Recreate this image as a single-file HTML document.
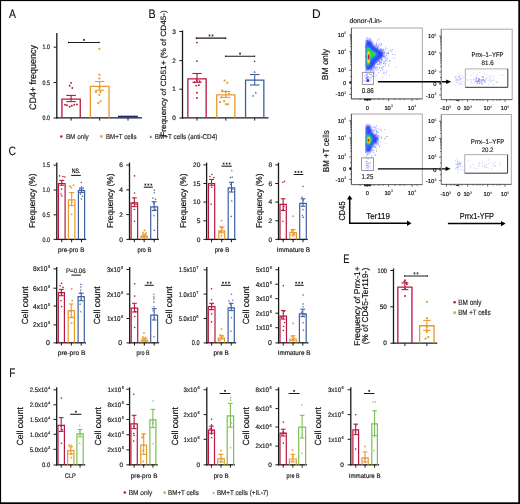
<!DOCTYPE html>
<html><head><meta charset="utf-8"><title>Figure</title>
<style>
html,body{margin:0;padding:0;background:#fff;}
body{width:520px;height:504px;overflow:hidden;position:relative;font-family:"Liberation Sans", sans-serif;}
svg text{font-family:"Liberation Sans", sans-serif;text-rendering:geometricPrecision;}
</style></head><body>
<svg width="520" height="504" viewBox="0 0 520 504" style="position:absolute;left:0;top:0;will-change:transform" font-family="Liberation Sans, sans-serif">
<rect x="0" y="0" width="520" height="504" fill="#fff"/>
<text transform="translate(9.07,18.10) scale(0.8537,1)" font-size="12.20" fill="#111" stroke="#111" stroke-width="0.117">A</text>
<text transform="translate(148.52,18.40) scale(0.8774,1)" font-size="12.20" fill="#111" stroke="#111" stroke-width="0.114">B</text>
<text transform="translate(8.58,154.80) scale(0.8553,1)" font-size="12.20" fill="#111" stroke="#111" stroke-width="0.117">C</text>
<text transform="translate(312.01,17.50) scale(0.9822,1)" font-size="12.20" fill="#111" stroke="#111" stroke-width="0.102">D</text>
<text transform="translate(343.14,262.90) scale(0.7555,1)" font-size="12.20" fill="#111" stroke="#111" stroke-width="0.132">E</text>
<text transform="translate(9.17,376.80) scale(0.8239,1)" font-size="12.20" fill="#111" stroke="#111" stroke-width="0.121">F</text>
<line x1="56.80" y1="33.00" x2="56.80" y2="118.45" stroke="#1a1a1a" stroke-width="1.3"/>
<line x1="56.15" y1="117.80" x2="142.00" y2="117.80" stroke="#1a1a1a" stroke-width="1.3"/>
<line x1="53.60" y1="47.20" x2="56.80" y2="47.20" stroke="#1a1a1a" stroke-width="1.0"/>
<text x="49.80" y="49.49" font-size="6.4" text-anchor="end" fill="#1e1e1e" textLength="7.30" lengthAdjust="spacingAndGlyphs" stroke="#1e1e1e" stroke-width="0.2">1.0</text>
<line x1="53.60" y1="82.50" x2="56.80" y2="82.50" stroke="#1a1a1a" stroke-width="1.0"/>
<text x="49.80" y="84.79" font-size="6.4" text-anchor="end" fill="#1e1e1e" textLength="7.30" lengthAdjust="spacingAndGlyphs" stroke="#1e1e1e" stroke-width="0.2">0.5</text>
<line x1="53.60" y1="118.00" x2="56.80" y2="118.00" stroke="#1a1a1a" stroke-width="1.0"/>
<text x="49.80" y="120.29" font-size="6.4" text-anchor="end" fill="#1e1e1e" textLength="7.30" lengthAdjust="spacingAndGlyphs" stroke="#1e1e1e" stroke-width="0.2">0.0</text>
<path d="M61.95,117.80 L61.95,99.15 L80.25,99.15 L80.25,117.80" fill="none" stroke="#b8173f" stroke-width="1.3"/>
<circle cx="71.10" cy="82.90" r="0.95" fill="#b8173f"/>
<circle cx="69.60" cy="85.70" r="0.95" fill="#b8173f"/>
<circle cx="72.30" cy="88.00" r="0.95" fill="#b8173f"/>
<circle cx="65.00" cy="104.80" r="0.95" fill="#b8173f"/>
<circle cx="66.90" cy="105.20" r="0.95" fill="#b8173f"/>
<circle cx="69.60" cy="106.70" r="0.95" fill="#b8173f"/>
<circle cx="71.80" cy="105.80" r="0.95" fill="#b8173f"/>
<circle cx="74.20" cy="104.80" r="0.95" fill="#b8173f"/>
<circle cx="76.90" cy="104.50" r="0.95" fill="#b8173f"/>
<line x1="71.10" y1="95.40" x2="71.10" y2="101.60" stroke="#b8173f" stroke-width="1.1"/>
<line x1="66.25" y1="95.40" x2="75.95" y2="95.40" stroke="#b8173f" stroke-width="1.1"/>
<line x1="66.25" y1="101.60" x2="75.95" y2="101.60" stroke="#b8173f" stroke-width="1.1"/>
<line x1="71.10" y1="117.80" x2="71.10" y2="120.60" stroke="#1a1a1a" stroke-width="1.0"/>
<path d="M90.35,117.80 L90.35,86.35 L109.05,86.35 L109.05,117.80" fill="none" stroke="#e89a2c" stroke-width="1.3"/>
<rect x="98.45" y="47.85" width="1.90" height="1.90" fill="#e89a2c"/>
<rect x="98.45" y="73.75" width="1.90" height="1.90" fill="#e89a2c"/>
<rect x="98.45" y="77.45" width="1.90" height="1.90" fill="#e89a2c"/>
<rect x="98.45" y="86.55" width="1.90" height="1.90" fill="#e89a2c"/>
<rect x="95.05" y="91.05" width="1.90" height="1.90" fill="#e89a2c"/>
<rect x="99.65" y="91.05" width="1.90" height="1.90" fill="#e89a2c"/>
<rect x="98.45" y="93.85" width="1.90" height="1.90" fill="#e89a2c"/>
<rect x="97.35" y="102.05" width="1.90" height="1.90" fill="#e89a2c"/>
<rect x="99.65" y="100.25" width="1.90" height="1.90" fill="#e89a2c"/>
<line x1="99.70" y1="81.50" x2="99.70" y2="90.20" stroke="#e89a2c" stroke-width="1.1"/>
<line x1="95.15" y1="81.50" x2="104.25" y2="81.50" stroke="#e89a2c" stroke-width="1.1"/>
<line x1="95.15" y1="90.20" x2="104.25" y2="90.20" stroke="#e89a2c" stroke-width="1.1"/>
<line x1="99.70" y1="117.80" x2="99.70" y2="120.60" stroke="#1a1a1a" stroke-width="1.0"/>
<path d="M118.65,117.80 L118.65,117.45 L137.35,117.45 L137.35,117.80" fill="none" stroke="#3f5f9f" stroke-width="1.3"/>
<line x1="128.00" y1="117.80" x2="128.00" y2="120.60" stroke="#1a1a1a" stroke-width="1.0"/>
<path d="M68.50,41.70 L68.50,43.30 M68.50,42.50 L99.20,42.50 M99.20,41.70 L99.20,43.30" fill="none" stroke="#1a1a1a" stroke-width="1.05"/>
<path d="M83.85,38.90 L83.85,40.90 M82.98,39.40 L84.72,40.40 M82.98,40.40 L84.72,39.40 " stroke="#222" stroke-width="0.75" fill="none"/>
<text transform="translate(35.70,110.00) rotate(-90) scale(0.9542,1)" font-size="9.40" fill="#111" stroke="#111" stroke-width="0.180">CD4+ frequency</text>
<rect x="118.0" y="115.7" width="19.8" height="1.7" fill="#15286e"/>
<line x1="182.50" y1="30.40" x2="182.50" y2="118.45" stroke="#1a1a1a" stroke-width="1.3"/>
<line x1="181.85" y1="117.80" x2="268.50" y2="117.80" stroke="#1a1a1a" stroke-width="1.3"/>
<line x1="179.30" y1="31.50" x2="182.50" y2="31.50" stroke="#1a1a1a" stroke-width="1.0"/>
<text x="175.90" y="33.79" font-size="6.4" text-anchor="end" fill="#1e1e1e" stroke="#1e1e1e" stroke-width="0.2">3</text>
<line x1="179.30" y1="60.60" x2="182.50" y2="60.60" stroke="#1a1a1a" stroke-width="1.0"/>
<text x="175.90" y="62.89" font-size="6.4" text-anchor="end" fill="#1e1e1e" stroke="#1e1e1e" stroke-width="0.2">2</text>
<line x1="179.30" y1="89.20" x2="182.50" y2="89.20" stroke="#1a1a1a" stroke-width="1.0"/>
<text x="175.90" y="91.49" font-size="6.4" text-anchor="end" fill="#1e1e1e" stroke="#1e1e1e" stroke-width="0.2">1</text>
<line x1="179.30" y1="118.00" x2="182.50" y2="118.00" stroke="#1a1a1a" stroke-width="1.0"/>
<text x="175.90" y="120.29" font-size="6.4" text-anchor="end" fill="#1e1e1e" stroke="#1e1e1e" stroke-width="0.2">0</text>
<path d="M187.85,117.80 L187.85,78.85 L206.15,78.85 L206.15,117.80" fill="none" stroke="#b8173f" stroke-width="1.3"/>
<circle cx="196.90" cy="42.60" r="0.95" fill="#b8173f"/>
<circle cx="196.90" cy="61.10" r="0.95" fill="#b8173f"/>
<circle cx="196.90" cy="80.50" r="0.95" fill="#b8173f"/>
<circle cx="194.60" cy="82.30" r="0.95" fill="#b8173f"/>
<circle cx="199.70" cy="81.20" r="0.95" fill="#b8173f"/>
<circle cx="196.20" cy="85.60" r="0.95" fill="#b8173f"/>
<circle cx="198.80" cy="85.30" r="0.95" fill="#b8173f"/>
<circle cx="196.90" cy="92.70" r="0.95" fill="#b8173f"/>
<circle cx="196.90" cy="98.00" r="0.95" fill="#b8173f"/>
<line x1="197.00" y1="73.50" x2="197.00" y2="82.30" stroke="#b8173f" stroke-width="1.1"/>
<line x1="192.40" y1="73.50" x2="201.60" y2="73.50" stroke="#b8173f" stroke-width="1.1"/>
<line x1="192.40" y1="82.30" x2="201.60" y2="82.30" stroke="#b8173f" stroke-width="1.1"/>
<line x1="197.00" y1="117.80" x2="197.00" y2="120.60" stroke="#1a1a1a" stroke-width="1.0"/>
<path d="M216.75,117.80 L216.75,94.95 L234.85,94.95 L234.85,117.80" fill="none" stroke="#e89a2c" stroke-width="1.3"/>
<rect x="223.65" y="79.55" width="1.90" height="1.90" fill="#e89a2c"/>
<rect x="226.45" y="81.85" width="1.90" height="1.90" fill="#e89a2c"/>
<rect x="221.35" y="89.45" width="1.90" height="1.90" fill="#e89a2c"/>
<rect x="224.85" y="90.55" width="1.90" height="1.90" fill="#e89a2c"/>
<rect x="227.85" y="92.85" width="1.90" height="1.90" fill="#e89a2c"/>
<rect x="220.25" y="96.35" width="1.90" height="1.90" fill="#e89a2c"/>
<rect x="223.25" y="100.25" width="1.90" height="1.90" fill="#e89a2c"/>
<rect x="219.05" y="101.05" width="1.90" height="1.90" fill="#e89a2c"/>
<rect x="224.85" y="103.25" width="1.90" height="1.90" fill="#e89a2c"/>
<rect x="227.05" y="103.25" width="1.90" height="1.90" fill="#e89a2c"/>
<line x1="225.80" y1="91.50" x2="225.80" y2="97.30" stroke="#e89a2c" stroke-width="1.1"/>
<line x1="221.20" y1="91.50" x2="230.40" y2="91.50" stroke="#e89a2c" stroke-width="1.1"/>
<line x1="221.20" y1="97.30" x2="230.40" y2="97.30" stroke="#e89a2c" stroke-width="1.1"/>
<line x1="225.80" y1="117.80" x2="225.80" y2="120.60" stroke="#1a1a1a" stroke-width="1.0"/>
<path d="M245.55,117.80 L245.55,80.15 L263.85,80.15 L263.85,117.80" fill="none" stroke="#3f5f9f" stroke-width="1.3"/>
<path d="M254.60,60.00 L255.70,61.98 L253.50,61.98 Z" fill="#3f5f9f"/>
<path d="M254.60,70.80 L255.70,72.78 L253.50,72.78 Z" fill="#3f5f9f"/>
<path d="M255.80,91.60 L256.90,93.58 L254.70,93.58 Z" fill="#3f5f9f"/>
<path d="M253.00,94.40 L254.10,96.38 L251.90,96.38 Z" fill="#3f5f9f"/>
<line x1="254.70" y1="74.50" x2="254.70" y2="85.00" stroke="#3f5f9f" stroke-width="1.1"/>
<line x1="249.85" y1="74.50" x2="259.55" y2="74.50" stroke="#3f5f9f" stroke-width="1.1"/>
<line x1="249.85" y1="85.00" x2="259.55" y2="85.00" stroke="#3f5f9f" stroke-width="1.1"/>
<line x1="254.70" y1="117.80" x2="254.70" y2="120.60" stroke="#1a1a1a" stroke-width="1.0"/>
<path d="M196.30,37.30 L196.30,38.90 M196.30,38.10 L225.70,38.10 M225.70,37.30 L225.70,38.90" fill="none" stroke="#1a1a1a" stroke-width="1.05"/>
<path d="M209.50,34.50 L209.50,36.50 M208.63,35.00 L210.37,36.00 M208.63,36.00 L210.37,35.00 " stroke="#222" stroke-width="0.75" fill="none"/>
<path d="M212.50,34.50 L212.50,36.50 M211.63,35.00 L213.37,36.00 M211.63,36.00 L213.37,35.00 " stroke="#222" stroke-width="0.75" fill="none"/>
<path d="M225.50,55.40 L225.50,57.00 M225.50,56.20 L254.60,56.20 M254.60,55.40 L254.60,57.00" fill="none" stroke="#1a1a1a" stroke-width="1.05"/>
<path d="M240.05,52.60 L240.05,54.60 M239.18,53.10 L240.92,54.10 M239.18,54.10 L240.92,53.10 " stroke="#222" stroke-width="0.75" fill="none"/>
<text transform="translate(166.40,136.83) rotate(-90) scale(1.0857,1)" font-size="7.60" fill="#111" stroke="#111" stroke-width="0.180">Frequency of CD51+ (% of CD45-)</text>
<circle cx="61.30" cy="136.40" r="1.23" fill="#b8173f"/>
<text x="65.90" y="139.00" font-size="7" text-anchor="start" fill="#222" textLength="22.90" lengthAdjust="spacingAndGlyphs" stroke="#222" stroke-width="0.15">BM only</text>
<rect x="100.21" y="135.21" width="2.38" height="2.38" fill="#e89a2c"/>
<text x="106.00" y="139.00" font-size="7" text-anchor="start" fill="#222" textLength="30.50" lengthAdjust="spacingAndGlyphs" stroke="#222" stroke-width="0.15">BM+T cells</text>
<path d="M150.80,135.28 L152.12,137.66 L149.48,137.66 Z" fill="#3f5f9f"/>
<text x="154.70" y="139.00" font-size="7" text-anchor="start" fill="#222" textLength="62.70" lengthAdjust="spacingAndGlyphs" stroke="#222" stroke-width="0.15">BM+T cells (anti-CD4)</text>
<line x1="56.80" y1="162.60" x2="56.80" y2="240.05" stroke="#1a1a1a" stroke-width="1.3"/>
<line x1="56.15" y1="239.40" x2="86.20" y2="239.40" stroke="#1a1a1a" stroke-width="1.3"/>
<line x1="53.60" y1="165.10" x2="56.80" y2="165.10" stroke="#1a1a1a" stroke-width="1.0"/>
<text x="49.90" y="167.46" font-size="6.6" text-anchor="end" fill="#1e1e1e" textLength="7.40" lengthAdjust="spacingAndGlyphs" stroke="#1e1e1e" stroke-width="0.2">1.5</text>
<line x1="53.60" y1="190.00" x2="56.80" y2="190.00" stroke="#1a1a1a" stroke-width="1.0"/>
<text x="49.90" y="192.36" font-size="6.6" text-anchor="end" fill="#1e1e1e" textLength="7.30" lengthAdjust="spacingAndGlyphs" stroke="#1e1e1e" stroke-width="0.2">1.0</text>
<line x1="53.60" y1="214.80" x2="56.80" y2="214.80" stroke="#1a1a1a" stroke-width="1.0"/>
<text x="49.90" y="217.16" font-size="6.6" text-anchor="end" fill="#1e1e1e" textLength="7.40" lengthAdjust="spacingAndGlyphs" stroke="#1e1e1e" stroke-width="0.2">0.5</text>
<line x1="53.60" y1="239.40" x2="56.80" y2="239.40" stroke="#1a1a1a" stroke-width="1.0"/>
<text x="49.90" y="241.76" font-size="6.6" text-anchor="end" fill="#1e1e1e" textLength="7.40" lengthAdjust="spacingAndGlyphs" stroke="#1e1e1e" stroke-width="0.2">0.0</text>
<path d="M58.40,239.40 L58.40,183.50 L65.10,183.50 L65.10,239.40" fill="none" stroke="#b8173f" stroke-width="1.2"/>
<circle cx="59.60" cy="175.90" r="0.81" fill="#b8173f"/>
<circle cx="62.90" cy="176.50" r="0.81" fill="#b8173f"/>
<circle cx="64.90" cy="177.00" r="0.81" fill="#b8173f"/>
<circle cx="61.90" cy="183.30" r="0.81" fill="#b8173f"/>
<circle cx="61.60" cy="189.10" r="0.81" fill="#b8173f"/>
<circle cx="61.00" cy="194.00" r="0.81" fill="#b8173f"/>
<circle cx="61.90" cy="196.00" r="0.81" fill="#b8173f"/>
<line x1="61.75" y1="180.40" x2="61.75" y2="185.20" stroke="#b8173f" stroke-width="1.1"/>
<line x1="59.30" y1="180.40" x2="64.20" y2="180.40" stroke="#b8173f" stroke-width="1.1"/>
<line x1="59.30" y1="185.20" x2="64.20" y2="185.20" stroke="#b8173f" stroke-width="1.1"/>
<line x1="61.75" y1="239.40" x2="61.75" y2="242.20" stroke="#1a1a1a" stroke-width="1.0"/>
<path d="M68.40,239.40 L68.40,199.80 L74.90,199.80 L74.90,239.40" fill="none" stroke="#e89a2c" stroke-width="1.2"/>
<rect x="69.29" y="185.39" width="1.61" height="1.61" fill="#e89a2c"/>
<rect x="72.79" y="184.39" width="1.61" height="1.61" fill="#e89a2c"/>
<rect x="70.49" y="186.79" width="1.61" height="1.61" fill="#e89a2c"/>
<rect x="70.89" y="201.49" width="1.61" height="1.61" fill="#e89a2c"/>
<rect x="70.89" y="213.59" width="1.61" height="1.61" fill="#e89a2c"/>
<line x1="71.65" y1="192.60" x2="71.65" y2="205.60" stroke="#e89a2c" stroke-width="1.1"/>
<line x1="69.00" y1="192.60" x2="74.30" y2="192.60" stroke="#e89a2c" stroke-width="1.1"/>
<line x1="69.00" y1="205.60" x2="74.30" y2="205.60" stroke="#e89a2c" stroke-width="1.1"/>
<line x1="71.65" y1="239.40" x2="71.65" y2="242.20" stroke="#1a1a1a" stroke-width="1.0"/>
<path d="M78.40,239.40 L78.40,190.70 L84.60,190.70 L84.60,239.40" fill="none" stroke="#3f5f9f" stroke-width="1.2"/>
<path d="M81.40,181.37 L82.34,183.05 L80.47,183.05 Z" fill="#3f5f9f"/>
<path d="M81.40,185.87 L82.34,187.55 L80.47,187.55 Z" fill="#3f5f9f"/>
<path d="M79.80,188.56 L80.73,190.25 L78.86,190.25 Z" fill="#3f5f9f"/>
<path d="M83.00,189.06 L83.94,190.75 L82.06,190.75 Z" fill="#3f5f9f"/>
<path d="M81.40,197.87 L82.34,199.55 L80.47,199.55 Z" fill="#3f5f9f"/>
<path d="M80.50,193.06 L81.44,194.75 L79.56,194.75 Z" fill="#3f5f9f"/>
<path d="M82.50,195.06 L83.44,196.75 L81.56,196.75 Z" fill="#3f5f9f"/>
<line x1="81.50" y1="188.10" x2="81.50" y2="192.60" stroke="#3f5f9f" stroke-width="1.1"/>
<line x1="79.05" y1="188.10" x2="83.95" y2="188.10" stroke="#3f5f9f" stroke-width="1.1"/>
<line x1="79.05" y1="192.60" x2="83.95" y2="192.60" stroke="#3f5f9f" stroke-width="1.1"/>
<line x1="81.50" y1="239.40" x2="81.50" y2="242.20" stroke="#1a1a1a" stroke-width="1.0"/>
<line x1="71.20" y1="175.40" x2="80.80" y2="175.40" stroke="#1a1a1a" stroke-width="1.05"/>
<text transform="translate(35.10,228.04) rotate(-90) scale(0.9779,1)" font-size="8.50" fill="#111" stroke="#111" stroke-width="0.180">Frequency (%)</text>
<text x="71.20" y="251.90" font-size="6.6" text-anchor="middle" fill="#1a1a1a" textLength="26.30" lengthAdjust="spacingAndGlyphs" stroke="#1a1a1a" stroke-width="0.18">pre-pro B</text>
<text x="76.15" y="172.60" font-size="6.4" text-anchor="middle" fill="#151515" textLength="8.70" lengthAdjust="spacingAndGlyphs" stroke="#151515" stroke-width="0.2">NS.</text>
<line x1="129.50" y1="162.60" x2="129.50" y2="240.05" stroke="#1a1a1a" stroke-width="1.3"/>
<line x1="128.85" y1="239.40" x2="158.90" y2="239.40" stroke="#1a1a1a" stroke-width="1.3"/>
<line x1="126.30" y1="165.10" x2="129.50" y2="165.10" stroke="#1a1a1a" stroke-width="1.0"/>
<text x="123.00" y="167.46" font-size="6.6" text-anchor="end" fill="#1e1e1e" stroke="#1e1e1e" stroke-width="0.2">6</text>
<line x1="126.30" y1="189.90" x2="129.50" y2="189.90" stroke="#1a1a1a" stroke-width="1.0"/>
<text x="123.00" y="192.26" font-size="6.6" text-anchor="end" fill="#1e1e1e" stroke="#1e1e1e" stroke-width="0.2">4</text>
<line x1="126.30" y1="214.60" x2="129.50" y2="214.60" stroke="#1a1a1a" stroke-width="1.0"/>
<text x="123.00" y="216.96" font-size="6.6" text-anchor="end" fill="#1e1e1e" stroke="#1e1e1e" stroke-width="0.2">2</text>
<line x1="126.30" y1="239.40" x2="129.50" y2="239.40" stroke="#1a1a1a" stroke-width="1.0"/>
<text x="123.00" y="241.76" font-size="6.6" text-anchor="end" fill="#1e1e1e" stroke="#1e1e1e" stroke-width="0.2">0</text>
<path d="M131.10,239.40 L131.10,202.90 L137.60,202.90 L137.60,239.40" fill="none" stroke="#b8173f" stroke-width="1.2"/>
<circle cx="134.50" cy="175.90" r="0.81" fill="#b8173f"/>
<circle cx="134.50" cy="193.00" r="0.81" fill="#b8173f"/>
<circle cx="134.50" cy="202.30" r="0.81" fill="#b8173f"/>
<circle cx="132.90" cy="203.50" r="0.81" fill="#b8173f"/>
<circle cx="136.00" cy="204.50" r="0.81" fill="#b8173f"/>
<circle cx="134.50" cy="209.50" r="0.81" fill="#b8173f"/>
<circle cx="134.50" cy="221.20" r="0.81" fill="#b8173f"/>
<line x1="134.35" y1="197.90" x2="134.35" y2="206.60" stroke="#b8173f" stroke-width="1.1"/>
<line x1="131.90" y1="197.90" x2="136.80" y2="197.90" stroke="#b8173f" stroke-width="1.1"/>
<line x1="131.90" y1="206.60" x2="136.80" y2="206.60" stroke="#b8173f" stroke-width="1.1"/>
<line x1="134.35" y1="239.40" x2="134.35" y2="242.20" stroke="#1a1a1a" stroke-width="1.0"/>
<path d="M141.10,239.40 L141.10,236.20 L147.20,236.20 L147.20,239.40" fill="none" stroke="#e89a2c" stroke-width="1.2"/>
<rect x="143.79" y="229.49" width="1.61" height="1.61" fill="#e89a2c"/>
<rect x="142.19" y="231.69" width="1.61" height="1.61" fill="#e89a2c"/>
<rect x="145.19" y="232.19" width="1.61" height="1.61" fill="#e89a2c"/>
<rect x="143.49" y="233.99" width="1.61" height="1.61" fill="#e89a2c"/>
<rect x="141.69" y="235.49" width="1.61" height="1.61" fill="#e89a2c"/>
<rect x="144.99" y="235.69" width="1.61" height="1.61" fill="#e89a2c"/>
<rect x="143.49" y="236.79" width="1.61" height="1.61" fill="#e89a2c"/>
<line x1="144.15" y1="234.20" x2="144.15" y2="237.10" stroke="#e89a2c" stroke-width="1.1"/>
<line x1="141.65" y1="234.20" x2="146.65" y2="234.20" stroke="#e89a2c" stroke-width="1.1"/>
<line x1="141.65" y1="237.10" x2="146.65" y2="237.10" stroke="#e89a2c" stroke-width="1.1"/>
<line x1="144.15" y1="239.40" x2="144.15" y2="242.20" stroke="#1a1a1a" stroke-width="1.0"/>
<path d="M150.70,239.40 L150.70,206.80 L157.60,206.80 L157.60,239.40" fill="none" stroke="#3f5f9f" stroke-width="1.2"/>
<path d="M154.30,189.06 L155.24,190.75 L153.37,190.75 Z" fill="#3f5f9f"/>
<path d="M154.30,191.66 L155.24,193.35 L153.37,193.35 Z" fill="#3f5f9f"/>
<path d="M152.90,197.06 L153.84,198.75 L151.97,198.75 Z" fill="#3f5f9f"/>
<path d="M155.50,198.06 L156.44,199.75 L154.56,199.75 Z" fill="#3f5f9f"/>
<path d="M153.50,202.06 L154.44,203.75 L152.56,203.75 Z" fill="#3f5f9f"/>
<path d="M154.00,205.87 L154.94,207.55 L153.06,207.55 Z" fill="#3f5f9f"/>
<path d="M155.50,208.56 L156.44,210.25 L154.56,210.25 Z" fill="#3f5f9f"/>
<path d="M154.00,214.47 L154.94,216.15 L153.06,216.15 Z" fill="#3f5f9f"/>
<path d="M154.30,229.37 L155.24,231.05 L153.37,231.05 Z" fill="#3f5f9f"/>
<line x1="154.15" y1="201.70" x2="154.15" y2="210.50" stroke="#3f5f9f" stroke-width="1.1"/>
<line x1="151.70" y1="201.70" x2="156.60" y2="201.70" stroke="#3f5f9f" stroke-width="1.1"/>
<line x1="151.70" y1="210.50" x2="156.60" y2="210.50" stroke="#3f5f9f" stroke-width="1.1"/>
<line x1="154.15" y1="239.40" x2="154.15" y2="242.20" stroke="#1a1a1a" stroke-width="1.0"/>
<line x1="143.80" y1="187.20" x2="152.90" y2="187.20" stroke="#1a1a1a" stroke-width="1.05"/>
<path d="M145.35,183.60 L145.35,185.60 M144.48,184.10 L146.22,185.10 M144.48,185.10 L146.22,184.10 " stroke="#222" stroke-width="0.75" fill="none"/>
<path d="M148.35,183.60 L148.35,185.60 M147.48,184.10 L149.22,185.10 M147.48,185.10 L149.22,184.10 " stroke="#222" stroke-width="0.75" fill="none"/>
<path d="M151.35,183.60 L151.35,185.60 M150.48,184.10 L152.22,185.10 M150.48,185.10 L152.22,184.10 " stroke="#222" stroke-width="0.75" fill="none"/>
<text transform="translate(112.80,228.04) rotate(-90) scale(0.9779,1)" font-size="8.50" fill="#111" stroke="#111" stroke-width="0.180">Frequency (%)</text>
<text x="144.40" y="251.90" font-size="6.6" text-anchor="middle" fill="#1a1a1a" textLength="14.00" lengthAdjust="spacingAndGlyphs" stroke="#1a1a1a" stroke-width="0.18">pro B</text>
<line x1="206.60" y1="162.60" x2="206.60" y2="240.05" stroke="#1a1a1a" stroke-width="1.3"/>
<line x1="205.95" y1="239.40" x2="236.10" y2="239.40" stroke="#1a1a1a" stroke-width="1.3"/>
<line x1="203.40" y1="164.90" x2="206.60" y2="164.90" stroke="#1a1a1a" stroke-width="1.0"/>
<text x="200.40" y="167.26" font-size="6.6" text-anchor="end" fill="#1e1e1e" stroke="#1e1e1e" stroke-width="0.2">20</text>
<line x1="203.40" y1="183.50" x2="206.60" y2="183.50" stroke="#1a1a1a" stroke-width="1.0"/>
<text x="200.40" y="185.86" font-size="6.6" text-anchor="end" fill="#1e1e1e" stroke="#1e1e1e" stroke-width="0.2">15</text>
<line x1="203.40" y1="202.10" x2="206.60" y2="202.10" stroke="#1a1a1a" stroke-width="1.0"/>
<text x="200.40" y="204.46" font-size="6.6" text-anchor="end" fill="#1e1e1e" stroke="#1e1e1e" stroke-width="0.2">10</text>
<line x1="203.40" y1="220.80" x2="206.60" y2="220.80" stroke="#1a1a1a" stroke-width="1.0"/>
<text x="200.40" y="223.16" font-size="6.6" text-anchor="end" fill="#1e1e1e" stroke="#1e1e1e" stroke-width="0.2">5</text>
<line x1="203.40" y1="239.40" x2="206.60" y2="239.40" stroke="#1a1a1a" stroke-width="1.0"/>
<text x="200.40" y="241.76" font-size="6.6" text-anchor="end" fill="#1e1e1e" stroke="#1e1e1e" stroke-width="0.2">0</text>
<path d="M208.40,239.40 L208.40,183.50 L214.70,183.50 L214.70,239.40" fill="none" stroke="#b8173f" stroke-width="1.2"/>
<circle cx="211.80" cy="174.50" r="0.81" fill="#b8173f"/>
<circle cx="209.90" cy="176.50" r="0.81" fill="#b8173f"/>
<circle cx="213.80" cy="177.50" r="0.81" fill="#b8173f"/>
<circle cx="211.30" cy="183.30" r="0.81" fill="#b8173f"/>
<circle cx="211.80" cy="187.20" r="0.81" fill="#b8173f"/>
<circle cx="211.20" cy="204.30" r="0.81" fill="#b8173f"/>
<line x1="211.55" y1="179.40" x2="211.55" y2="185.20" stroke="#b8173f" stroke-width="1.1"/>
<line x1="209.10" y1="179.40" x2="214.00" y2="179.40" stroke="#b8173f" stroke-width="1.1"/>
<line x1="209.10" y1="185.20" x2="214.00" y2="185.20" stroke="#b8173f" stroke-width="1.1"/>
<line x1="211.55" y1="239.40" x2="211.55" y2="242.20" stroke="#1a1a1a" stroke-width="1.0"/>
<path d="M218.80,239.40 L218.80,230.90 L224.70,230.90 L224.70,239.40" fill="none" stroke="#e89a2c" stroke-width="1.2"/>
<rect x="220.69" y="219.79" width="1.61" height="1.61" fill="#e89a2c"/>
<rect x="220.19" y="226.19" width="1.61" height="1.61" fill="#e89a2c"/>
<rect x="221.69" y="227.19" width="1.61" height="1.61" fill="#e89a2c"/>
<rect x="219.69" y="231.09" width="1.61" height="1.61" fill="#e89a2c"/>
<rect x="220.69" y="234.99" width="1.61" height="1.61" fill="#e89a2c"/>
<line x1="221.75" y1="227.00" x2="221.75" y2="232.90" stroke="#e89a2c" stroke-width="1.1"/>
<line x1="219.25" y1="227.00" x2="224.25" y2="227.00" stroke="#e89a2c" stroke-width="1.1"/>
<line x1="219.25" y1="232.90" x2="224.25" y2="232.90" stroke="#e89a2c" stroke-width="1.1"/>
<line x1="221.75" y1="239.40" x2="221.75" y2="242.20" stroke="#1a1a1a" stroke-width="1.0"/>
<path d="M228.20,239.40 L228.20,187.80 L234.70,187.80 L234.70,239.40" fill="none" stroke="#3f5f9f" stroke-width="1.2"/>
<path d="M231.80,169.66 L232.74,171.35 L230.87,171.35 Z" fill="#3f5f9f"/>
<path d="M230.30,176.47 L231.24,178.15 L229.37,178.15 Z" fill="#3f5f9f"/>
<path d="M232.20,176.06 L233.13,177.75 L231.26,177.75 Z" fill="#3f5f9f"/>
<path d="M230.70,183.26 L231.63,184.95 L229.76,184.95 Z" fill="#3f5f9f"/>
<path d="M232.60,188.16 L233.53,189.85 L231.66,189.85 Z" fill="#3f5f9f"/>
<path d="M231.80,199.87 L232.74,201.55 L230.87,201.55 Z" fill="#3f5f9f"/>
<path d="M231.20,215.37 L232.13,217.05 L230.26,217.05 Z" fill="#3f5f9f"/>
<line x1="231.45" y1="182.30" x2="231.45" y2="192.00" stroke="#3f5f9f" stroke-width="1.1"/>
<line x1="229.00" y1="182.30" x2="233.90" y2="182.30" stroke="#3f5f9f" stroke-width="1.1"/>
<line x1="229.00" y1="192.00" x2="233.90" y2="192.00" stroke="#3f5f9f" stroke-width="1.1"/>
<line x1="231.45" y1="239.40" x2="231.45" y2="242.20" stroke="#1a1a1a" stroke-width="1.0"/>
<line x1="221.50" y1="166.20" x2="231.80" y2="166.20" stroke="#1a1a1a" stroke-width="1.05"/>
<path d="M223.65,162.60 L223.65,164.60 M222.78,163.10 L224.52,164.10 M222.78,164.10 L224.52,163.10 " stroke="#222" stroke-width="0.75" fill="none"/>
<path d="M226.65,162.60 L226.65,164.60 M225.78,163.10 L227.52,164.10 M225.78,164.10 L227.52,163.10 " stroke="#222" stroke-width="0.75" fill="none"/>
<path d="M229.65,162.60 L229.65,164.60 M228.78,163.10 L230.52,164.10 M228.78,164.10 L230.52,163.10 " stroke="#222" stroke-width="0.75" fill="none"/>
<text transform="translate(186.20,228.04) rotate(-90) scale(0.9779,1)" font-size="8.50" fill="#111" stroke="#111" stroke-width="0.180">Frequency (%)</text>
<text x="222.00" y="251.90" font-size="6.6" text-anchor="middle" fill="#1a1a1a" textLength="14.60" lengthAdjust="spacingAndGlyphs" stroke="#1a1a1a" stroke-width="0.18">pre B</text>
<line x1="278.50" y1="162.60" x2="278.50" y2="240.05" stroke="#1a1a1a" stroke-width="1.3"/>
<line x1="277.85" y1="239.40" x2="307.70" y2="239.40" stroke="#1a1a1a" stroke-width="1.3"/>
<line x1="275.30" y1="164.90" x2="278.50" y2="164.90" stroke="#1a1a1a" stroke-width="1.0"/>
<text x="272.20" y="167.26" font-size="6.6" text-anchor="end" fill="#1e1e1e" stroke="#1e1e1e" stroke-width="0.2">8</text>
<line x1="275.30" y1="183.50" x2="278.50" y2="183.50" stroke="#1a1a1a" stroke-width="1.0"/>
<text x="272.20" y="185.86" font-size="6.6" text-anchor="end" fill="#1e1e1e" stroke="#1e1e1e" stroke-width="0.2">6</text>
<line x1="275.30" y1="202.10" x2="278.50" y2="202.10" stroke="#1a1a1a" stroke-width="1.0"/>
<text x="272.20" y="204.46" font-size="6.6" text-anchor="end" fill="#1e1e1e" stroke="#1e1e1e" stroke-width="0.2">4</text>
<line x1="275.30" y1="220.80" x2="278.50" y2="220.80" stroke="#1a1a1a" stroke-width="1.0"/>
<text x="272.20" y="223.16" font-size="6.6" text-anchor="end" fill="#1e1e1e" stroke="#1e1e1e" stroke-width="0.2">2</text>
<line x1="275.30" y1="239.40" x2="278.50" y2="239.40" stroke="#1a1a1a" stroke-width="1.0"/>
<text x="272.20" y="241.76" font-size="6.6" text-anchor="end" fill="#1e1e1e" stroke="#1e1e1e" stroke-width="0.2">0</text>
<path d="M280.00,239.40 L280.00,204.30 L286.30,204.30 L286.30,239.40" fill="none" stroke="#b8173f" stroke-width="1.2"/>
<circle cx="282.90" cy="182.30" r="0.81" fill="#b8173f"/>
<circle cx="284.50" cy="181.30" r="0.81" fill="#b8173f"/>
<circle cx="283.90" cy="206.60" r="0.81" fill="#b8173f"/>
<circle cx="283.30" cy="209.50" r="0.81" fill="#b8173f"/>
<circle cx="282.90" cy="221.20" r="0.81" fill="#b8173f"/>
<line x1="283.15" y1="198.80" x2="283.15" y2="210.50" stroke="#b8173f" stroke-width="1.1"/>
<line x1="280.75" y1="198.80" x2="285.55" y2="198.80" stroke="#b8173f" stroke-width="1.1"/>
<line x1="280.75" y1="210.50" x2="285.55" y2="210.50" stroke="#b8173f" stroke-width="1.1"/>
<line x1="283.15" y1="239.40" x2="283.15" y2="242.20" stroke="#1a1a1a" stroke-width="1.0"/>
<path d="M289.80,239.40 L289.80,232.50 L296.40,232.50 L296.40,239.40" fill="none" stroke="#e89a2c" stroke-width="1.2"/>
<rect x="292.39" y="215.49" width="1.61" height="1.61" fill="#e89a2c"/>
<rect x="292.39" y="228.79" width="1.61" height="1.61" fill="#e89a2c"/>
<rect x="290.89" y="230.19" width="1.61" height="1.61" fill="#e89a2c"/>
<rect x="293.19" y="232.69" width="1.61" height="1.61" fill="#e89a2c"/>
<rect x="292.19" y="235.19" width="1.61" height="1.61" fill="#e89a2c"/>
<line x1="293.10" y1="229.60" x2="293.10" y2="234.80" stroke="#e89a2c" stroke-width="1.1"/>
<line x1="290.70" y1="229.60" x2="295.50" y2="229.60" stroke="#e89a2c" stroke-width="1.1"/>
<line x1="290.70" y1="234.80" x2="295.50" y2="234.80" stroke="#e89a2c" stroke-width="1.1"/>
<line x1="293.10" y1="239.40" x2="293.10" y2="242.20" stroke="#1a1a1a" stroke-width="1.0"/>
<path d="M299.70,239.40 L299.70,203.30 L306.30,203.30 L306.30,239.40" fill="none" stroke="#3f5f9f" stroke-width="1.2"/>
<path d="M303.00,185.26 L303.94,186.95 L302.06,186.95 Z" fill="#3f5f9f"/>
<path d="M302.00,195.97 L302.94,197.65 L301.06,197.65 Z" fill="#3f5f9f"/>
<path d="M303.30,198.87 L304.24,200.55 L302.37,200.55 Z" fill="#3f5f9f"/>
<path d="M303.00,208.56 L303.94,210.25 L302.06,210.25 Z" fill="#3f5f9f"/>
<path d="M302.40,214.47 L303.33,216.15 L301.46,216.15 Z" fill="#3f5f9f"/>
<path d="M303.30,216.37 L304.24,218.05 L302.37,218.05 Z" fill="#3f5f9f"/>
<line x1="303.00" y1="198.80" x2="303.00" y2="206.20" stroke="#3f5f9f" stroke-width="1.1"/>
<line x1="300.60" y1="198.80" x2="305.40" y2="198.80" stroke="#3f5f9f" stroke-width="1.1"/>
<line x1="300.60" y1="206.20" x2="305.40" y2="206.20" stroke="#3f5f9f" stroke-width="1.1"/>
<line x1="303.00" y1="239.40" x2="303.00" y2="242.20" stroke="#1a1a1a" stroke-width="1.0"/>
<line x1="293.60" y1="174.50" x2="303.30" y2="174.50" stroke="#1a1a1a" stroke-width="1.05"/>
<path d="M295.45,170.90 L295.45,172.90 M294.58,171.40 L296.32,172.40 M294.58,172.40 L296.32,171.40 " stroke="#222" stroke-width="0.75" fill="none"/>
<path d="M298.45,170.90 L298.45,172.90 M297.58,171.40 L299.32,172.40 M297.58,172.40 L299.32,171.40 " stroke="#222" stroke-width="0.75" fill="none"/>
<path d="M301.45,170.90 L301.45,172.90 M300.58,171.40 L302.32,172.40 M300.58,172.40 L302.32,171.40 " stroke="#222" stroke-width="0.75" fill="none"/>
<text transform="translate(261.70,228.04) rotate(-90) scale(0.9779,1)" font-size="8.50" fill="#111" stroke="#111" stroke-width="0.180">Frequency (%)</text>
<text x="293.45" y="251.90" font-size="6.7" text-anchor="middle" fill="#1a1a1a" textLength="33.50" lengthAdjust="spacingAndGlyphs" stroke="#1a1a1a" stroke-width="0.18">Immature B</text>
<line x1="56.70" y1="266.90" x2="56.70" y2="343.45" stroke="#1a1a1a" stroke-width="1.3"/>
<line x1="56.05" y1="342.80" x2="86.00" y2="342.80" stroke="#1a1a1a" stroke-width="1.3"/>
<line x1="53.50" y1="268.90" x2="56.70" y2="268.90" stroke="#1a1a1a" stroke-width="1.0"/>
<text x="50.10" y="268.40" font-size="3.8" text-anchor="end" fill="#1e1e1e" textLength="2.20" lengthAdjust="spacingAndGlyphs" stroke="#1e1e1e" stroke-width="0.14">5</text>
<text x="47.40" y="271.41" font-size="7.0" text-anchor="end" fill="#1e1e1e" textLength="14.30" lengthAdjust="spacingAndGlyphs" stroke="#1e1e1e" stroke-width="0.2">8x10</text>
<line x1="53.50" y1="288.20" x2="56.70" y2="288.20" stroke="#1a1a1a" stroke-width="1.0"/>
<text x="50.10" y="287.70" font-size="3.8" text-anchor="end" fill="#1e1e1e" textLength="2.20" lengthAdjust="spacingAndGlyphs" stroke="#1e1e1e" stroke-width="0.14">5</text>
<text x="47.40" y="290.71" font-size="7.0" text-anchor="end" fill="#1e1e1e" textLength="14.30" lengthAdjust="spacingAndGlyphs" stroke="#1e1e1e" stroke-width="0.2">6x10</text>
<line x1="53.50" y1="306.00" x2="56.70" y2="306.00" stroke="#1a1a1a" stroke-width="1.0"/>
<text x="50.10" y="305.50" font-size="3.8" text-anchor="end" fill="#1e1e1e" textLength="2.20" lengthAdjust="spacingAndGlyphs" stroke="#1e1e1e" stroke-width="0.14">5</text>
<text x="47.40" y="308.51" font-size="7.0" text-anchor="end" fill="#1e1e1e" textLength="14.30" lengthAdjust="spacingAndGlyphs" stroke="#1e1e1e" stroke-width="0.2">4x10</text>
<line x1="53.50" y1="324.90" x2="56.70" y2="324.90" stroke="#1a1a1a" stroke-width="1.0"/>
<text x="50.10" y="324.40" font-size="3.8" text-anchor="end" fill="#1e1e1e" textLength="2.20" lengthAdjust="spacingAndGlyphs" stroke="#1e1e1e" stroke-width="0.14">5</text>
<text x="47.40" y="327.41" font-size="7.0" text-anchor="end" fill="#1e1e1e" textLength="14.30" lengthAdjust="spacingAndGlyphs" stroke="#1e1e1e" stroke-width="0.2">2x10</text>
<line x1="53.50" y1="342.90" x2="56.70" y2="342.90" stroke="#1a1a1a" stroke-width="1.0"/>
<text x="49.90" y="345.41" font-size="7.0" text-anchor="end" fill="#1e1e1e" stroke="#1e1e1e" stroke-width="0.2">0</text>
<path d="M58.30,342.80 L58.30,292.70 L64.40,292.70 L64.40,342.80" fill="none" stroke="#b8173f" stroke-width="1.2"/>
<circle cx="61.60" cy="283.40" r="0.81" fill="#b8173f"/>
<circle cx="60.20" cy="285.80" r="0.81" fill="#b8173f"/>
<circle cx="63.00" cy="287.40" r="0.81" fill="#b8173f"/>
<circle cx="61.60" cy="294.10" r="0.81" fill="#b8173f"/>
<circle cx="61.00" cy="300.70" r="0.81" fill="#b8173f"/>
<circle cx="61.60" cy="306.60" r="0.81" fill="#b8173f"/>
<line x1="61.35" y1="289.40" x2="61.35" y2="295.70" stroke="#b8173f" stroke-width="1.1"/>
<line x1="58.95" y1="289.40" x2="63.75" y2="289.40" stroke="#b8173f" stroke-width="1.1"/>
<line x1="58.95" y1="295.70" x2="63.75" y2="295.70" stroke="#b8173f" stroke-width="1.1"/>
<line x1="61.35" y1="342.80" x2="61.35" y2="345.60" stroke="#1a1a1a" stroke-width="1.0"/>
<path d="M68.20,342.80 L68.20,310.60 L74.40,310.60 L74.40,342.80" fill="none" stroke="#e89a2c" stroke-width="1.2"/>
<rect x="70.79" y="287.99" width="1.61" height="1.61" fill="#e89a2c"/>
<rect x="71.39" y="299.89" width="1.61" height="1.61" fill="#e89a2c"/>
<rect x="69.79" y="310.39" width="1.61" height="1.61" fill="#e89a2c"/>
<rect x="71.39" y="316.39" width="1.61" height="1.61" fill="#e89a2c"/>
<rect x="70.79" y="322.29" width="1.61" height="1.61" fill="#e89a2c"/>
<line x1="71.30" y1="304.00" x2="71.30" y2="317.60" stroke="#e89a2c" stroke-width="1.1"/>
<line x1="68.90" y1="304.00" x2="73.70" y2="304.00" stroke="#e89a2c" stroke-width="1.1"/>
<line x1="68.90" y1="317.60" x2="73.70" y2="317.60" stroke="#e89a2c" stroke-width="1.1"/>
<line x1="71.30" y1="342.80" x2="71.30" y2="345.60" stroke="#1a1a1a" stroke-width="1.0"/>
<path d="M78.10,342.80 L78.10,296.70 L84.30,296.70 L84.30,342.80" fill="none" stroke="#3f5f9f" stroke-width="1.2"/>
<path d="M80.90,283.26 L81.84,284.95 L79.97,284.95 Z" fill="#3f5f9f"/>
<path d="M80.90,285.87 L81.84,287.55 L79.97,287.55 Z" fill="#3f5f9f"/>
<path d="M80.90,288.87 L81.84,290.55 L79.97,290.55 Z" fill="#3f5f9f"/>
<path d="M80.50,291.17 L81.44,292.85 L79.56,292.85 Z" fill="#3f5f9f"/>
<path d="M80.90,299.17 L81.84,300.85 L79.97,300.85 Z" fill="#3f5f9f"/>
<path d="M80.10,303.06 L81.03,304.75 L79.16,304.75 Z" fill="#3f5f9f"/>
<path d="M80.90,310.67 L81.84,312.35 L79.97,312.35 Z" fill="#3f5f9f"/>
<line x1="81.20" y1="293.30" x2="81.20" y2="300.70" stroke="#3f5f9f" stroke-width="1.1"/>
<line x1="78.80" y1="293.30" x2="83.60" y2="293.30" stroke="#3f5f9f" stroke-width="1.1"/>
<line x1="78.80" y1="300.70" x2="83.60" y2="300.70" stroke="#3f5f9f" stroke-width="1.1"/>
<line x1="81.20" y1="342.80" x2="81.20" y2="345.60" stroke="#1a1a1a" stroke-width="1.0"/>
<line x1="71.40" y1="275.10" x2="80.80" y2="275.10" stroke="#1a1a1a" stroke-width="1.05"/>
<text transform="translate(27.50,324.28) rotate(-90) scale(0.9598,1)" font-size="8.90" fill="#111" stroke="#111" stroke-width="0.180">Cell count</text>
<text x="71.60" y="355.20" font-size="6.6" text-anchor="middle" fill="#1a1a1a" textLength="27.80" lengthAdjust="spacingAndGlyphs" stroke="#1a1a1a" stroke-width="0.18">pre-pro B</text>
<text x="75.85" y="273.30" font-size="6.6" text-anchor="middle" fill="#151515" textLength="19.70" lengthAdjust="spacingAndGlyphs" stroke="#151515" stroke-width="0.15">P=0.06</text>
<line x1="129.70" y1="266.90" x2="129.70" y2="343.45" stroke="#1a1a1a" stroke-width="1.3"/>
<line x1="129.05" y1="342.80" x2="159.10" y2="342.80" stroke="#1a1a1a" stroke-width="1.3"/>
<line x1="126.50" y1="269.50" x2="129.70" y2="269.50" stroke="#1a1a1a" stroke-width="1.0"/>
<text x="123.10" y="269.00" font-size="3.8" text-anchor="end" fill="#1e1e1e" textLength="2.20" lengthAdjust="spacingAndGlyphs" stroke="#1e1e1e" stroke-width="0.14">6</text>
<text x="120.40" y="272.01" font-size="7.0" text-anchor="end" fill="#1e1e1e" textLength="13.50" lengthAdjust="spacingAndGlyphs" stroke="#1e1e1e" stroke-width="0.2">3x10</text>
<line x1="126.50" y1="294.10" x2="129.70" y2="294.10" stroke="#1a1a1a" stroke-width="1.0"/>
<text x="123.10" y="293.60" font-size="3.8" text-anchor="end" fill="#1e1e1e" textLength="2.20" lengthAdjust="spacingAndGlyphs" stroke="#1e1e1e" stroke-width="0.14">6</text>
<text x="120.40" y="296.61" font-size="7.0" text-anchor="end" fill="#1e1e1e" textLength="13.50" lengthAdjust="spacingAndGlyphs" stroke="#1e1e1e" stroke-width="0.2">2x10</text>
<line x1="126.50" y1="318.50" x2="129.70" y2="318.50" stroke="#1a1a1a" stroke-width="1.0"/>
<text x="123.10" y="318.00" font-size="3.8" text-anchor="end" fill="#1e1e1e" textLength="2.20" lengthAdjust="spacingAndGlyphs" stroke="#1e1e1e" stroke-width="0.14">6</text>
<text x="120.40" y="321.01" font-size="7.0" text-anchor="end" fill="#1e1e1e" textLength="13.50" lengthAdjust="spacingAndGlyphs" stroke="#1e1e1e" stroke-width="0.2">1x10</text>
<line x1="126.50" y1="342.90" x2="129.70" y2="342.90" stroke="#1a1a1a" stroke-width="1.0"/>
<text x="122.20" y="345.41" font-size="7.0" text-anchor="end" fill="#1e1e1e" stroke="#1e1e1e" stroke-width="0.2">0</text>
<path d="M131.20,342.80 L131.20,308.20 L137.70,308.20 L137.70,342.80" fill="none" stroke="#b8173f" stroke-width="1.2"/>
<circle cx="134.70" cy="283.80" r="0.81" fill="#b8173f"/>
<circle cx="134.70" cy="296.10" r="0.81" fill="#b8173f"/>
<circle cx="134.70" cy="307.60" r="0.81" fill="#b8173f"/>
<circle cx="135.70" cy="311.60" r="0.81" fill="#b8173f"/>
<circle cx="134.70" cy="316.60" r="0.81" fill="#b8173f"/>
<circle cx="134.70" cy="327.50" r="0.81" fill="#b8173f"/>
<line x1="134.45" y1="303.30" x2="134.45" y2="312.00" stroke="#b8173f" stroke-width="1.1"/>
<line x1="132.05" y1="303.30" x2="136.85" y2="303.30" stroke="#b8173f" stroke-width="1.1"/>
<line x1="132.05" y1="312.00" x2="136.85" y2="312.00" stroke="#b8173f" stroke-width="1.1"/>
<line x1="134.45" y1="342.80" x2="134.45" y2="345.60" stroke="#1a1a1a" stroke-width="1.0"/>
<path d="M141.10,342.80 L141.10,340.00 L147.60,340.00 L147.60,342.80" fill="none" stroke="#e89a2c" stroke-width="1.2"/>
<rect x="143.19" y="332.19" width="1.61" height="1.61" fill="#e89a2c"/>
<rect x="142.19" y="336.19" width="1.61" height="1.61" fill="#e89a2c"/>
<rect x="144.69" y="336.69" width="1.61" height="1.61" fill="#e89a2c"/>
<rect x="143.69" y="338.69" width="1.61" height="1.61" fill="#e89a2c"/>
<rect x="141.99" y="339.69" width="1.61" height="1.61" fill="#e89a2c"/>
<rect x="145.19" y="340.19" width="1.61" height="1.61" fill="#e89a2c"/>
<line x1="144.35" y1="338.40" x2="144.35" y2="341.00" stroke="#e89a2c" stroke-width="1.1"/>
<line x1="141.95" y1="338.40" x2="146.75" y2="338.40" stroke="#e89a2c" stroke-width="1.1"/>
<line x1="141.95" y1="341.00" x2="146.75" y2="341.00" stroke="#e89a2c" stroke-width="1.1"/>
<line x1="144.35" y1="342.80" x2="144.35" y2="345.60" stroke="#1a1a1a" stroke-width="1.0"/>
<path d="M150.70,342.80 L150.70,315.20 L157.60,315.20 L157.60,342.80" fill="none" stroke="#3f5f9f" stroke-width="1.2"/>
<path d="M153.90,293.17 L154.84,294.85 L152.97,294.85 Z" fill="#3f5f9f"/>
<path d="M153.90,295.76 L154.84,297.45 L152.97,297.45 Z" fill="#3f5f9f"/>
<path d="M153.90,297.76 L154.84,299.45 L152.97,299.45 Z" fill="#3f5f9f"/>
<path d="M153.90,300.76 L154.84,302.45 L152.97,302.45 Z" fill="#3f5f9f"/>
<path d="M153.90,305.67 L154.84,307.35 L152.97,307.35 Z" fill="#3f5f9f"/>
<path d="M153.10,309.67 L154.03,311.35 L152.16,311.35 Z" fill="#3f5f9f"/>
<path d="M154.50,316.67 L155.44,318.35 L153.56,318.35 Z" fill="#3f5f9f"/>
<path d="M153.90,335.46 L154.84,337.15 L152.97,337.15 Z" fill="#3f5f9f"/>
<line x1="154.15" y1="308.60" x2="154.15" y2="320.00" stroke="#3f5f9f" stroke-width="1.1"/>
<line x1="151.75" y1="308.60" x2="156.55" y2="308.60" stroke="#3f5f9f" stroke-width="1.1"/>
<line x1="151.75" y1="320.00" x2="156.55" y2="320.00" stroke="#3f5f9f" stroke-width="1.1"/>
<line x1="154.15" y1="342.80" x2="154.15" y2="345.60" stroke="#1a1a1a" stroke-width="1.0"/>
<line x1="144.60" y1="285.30" x2="153.80" y2="285.30" stroke="#1a1a1a" stroke-width="1.05"/>
<path d="M147.70,281.70 L147.70,283.70 M146.83,282.20 L148.57,283.20 M146.83,283.20 L148.57,282.20 " stroke="#222" stroke-width="0.75" fill="none"/>
<path d="M150.70,281.70 L150.70,283.70 M149.83,282.20 L151.57,283.20 M149.83,283.20 L151.57,282.20 " stroke="#222" stroke-width="0.75" fill="none"/>
<text transform="translate(100.30,324.28) rotate(-90) scale(0.9598,1)" font-size="8.90" fill="#111" stroke="#111" stroke-width="0.180">Cell count</text>
<text x="143.10" y="355.20" font-size="6.6" text-anchor="middle" fill="#1a1a1a" textLength="13.00" lengthAdjust="spacingAndGlyphs" stroke="#1a1a1a" stroke-width="0.18">pro B</text>
<line x1="206.80" y1="266.90" x2="206.80" y2="343.45" stroke="#1a1a1a" stroke-width="1.3"/>
<line x1="206.15" y1="342.80" x2="236.10" y2="342.80" stroke="#1a1a1a" stroke-width="1.3"/>
<line x1="203.60" y1="269.90" x2="206.80" y2="269.90" stroke="#1a1a1a" stroke-width="1.0"/>
<text x="198.50" y="269.40" font-size="3.8" text-anchor="end" fill="#1e1e1e" textLength="2.20" lengthAdjust="spacingAndGlyphs" stroke="#1e1e1e" stroke-width="0.14">7</text>
<text x="195.80" y="272.41" font-size="7.0" text-anchor="end" fill="#1e1e1e" textLength="17.00" lengthAdjust="spacingAndGlyphs" stroke="#1e1e1e" stroke-width="0.2">1.5x10</text>
<line x1="203.60" y1="294.10" x2="206.80" y2="294.10" stroke="#1a1a1a" stroke-width="1.0"/>
<text x="198.50" y="293.60" font-size="3.8" text-anchor="end" fill="#1e1e1e" textLength="2.20" lengthAdjust="spacingAndGlyphs" stroke="#1e1e1e" stroke-width="0.14">7</text>
<text x="195.80" y="296.61" font-size="7.0" text-anchor="end" fill="#1e1e1e" textLength="17.00" lengthAdjust="spacingAndGlyphs" stroke="#1e1e1e" stroke-width="0.2">1.0x10</text>
<line x1="203.60" y1="318.50" x2="206.80" y2="318.50" stroke="#1a1a1a" stroke-width="1.0"/>
<text x="198.50" y="318.00" font-size="3.8" text-anchor="end" fill="#1e1e1e" textLength="2.20" lengthAdjust="spacingAndGlyphs" stroke="#1e1e1e" stroke-width="0.14">6</text>
<text x="195.80" y="321.01" font-size="7.0" text-anchor="end" fill="#1e1e1e" textLength="17.00" lengthAdjust="spacingAndGlyphs" stroke="#1e1e1e" stroke-width="0.2">5.0x10</text>
<line x1="203.60" y1="342.90" x2="206.80" y2="342.90" stroke="#1a1a1a" stroke-width="1.0"/>
<text x="199.50" y="345.41" font-size="7.0" text-anchor="end" fill="#1e1e1e" textLength="7.70" lengthAdjust="spacingAndGlyphs" stroke="#1e1e1e" stroke-width="0.2">0.0</text>
<path d="M208.30,342.80 L208.30,306.60 L215.00,306.60 L215.00,342.80" fill="none" stroke="#b8173f" stroke-width="1.2"/>
<circle cx="211.60" cy="288.80" r="0.81" fill="#b8173f"/>
<circle cx="211.60" cy="299.70" r="0.81" fill="#b8173f"/>
<circle cx="211.60" cy="304.10" r="0.81" fill="#b8173f"/>
<circle cx="210.20" cy="309.60" r="0.81" fill="#b8173f"/>
<circle cx="211.60" cy="314.00" r="0.81" fill="#b8173f"/>
<circle cx="211.60" cy="321.90" r="0.81" fill="#b8173f"/>
<line x1="211.65" y1="303.30" x2="211.65" y2="309.60" stroke="#b8173f" stroke-width="1.1"/>
<line x1="209.25" y1="303.30" x2="214.05" y2="303.30" stroke="#b8173f" stroke-width="1.1"/>
<line x1="209.25" y1="309.60" x2="214.05" y2="309.60" stroke="#b8173f" stroke-width="1.1"/>
<line x1="211.65" y1="342.80" x2="211.65" y2="345.60" stroke="#1a1a1a" stroke-width="1.0"/>
<path d="M218.20,342.80 L218.20,338.00 L224.40,338.00 L224.40,342.80" fill="none" stroke="#e89a2c" stroke-width="1.2"/>
<rect x="220.79" y="328.19" width="1.61" height="1.61" fill="#e89a2c"/>
<rect x="219.69" y="334.19" width="1.61" height="1.61" fill="#e89a2c"/>
<rect x="221.99" y="335.19" width="1.61" height="1.61" fill="#e89a2c"/>
<rect x="220.79" y="337.69" width="1.61" height="1.61" fill="#e89a2c"/>
<rect x="219.19" y="339.69" width="1.61" height="1.61" fill="#e89a2c"/>
<line x1="221.30" y1="335.80" x2="221.30" y2="339.00" stroke="#e89a2c" stroke-width="1.1"/>
<line x1="218.90" y1="335.80" x2="223.70" y2="335.80" stroke="#e89a2c" stroke-width="1.1"/>
<line x1="218.90" y1="339.00" x2="223.70" y2="339.00" stroke="#e89a2c" stroke-width="1.1"/>
<line x1="221.30" y1="342.80" x2="221.30" y2="345.60" stroke="#1a1a1a" stroke-width="1.0"/>
<path d="M228.10,342.80 L228.10,307.80 L234.30,307.80 L234.30,342.80" fill="none" stroke="#3f5f9f" stroke-width="1.2"/>
<path d="M231.50,293.17 L232.44,294.85 L230.56,294.85 Z" fill="#3f5f9f"/>
<path d="M228.90,299.76 L229.84,301.45 L227.97,301.45 Z" fill="#3f5f9f"/>
<path d="M232.90,299.17 L233.84,300.85 L231.97,300.85 Z" fill="#3f5f9f"/>
<path d="M230.50,303.67 L231.44,305.35 L229.56,305.35 Z" fill="#3f5f9f"/>
<path d="M231.50,306.67 L232.44,308.35 L230.56,308.35 Z" fill="#3f5f9f"/>
<path d="M231.50,316.67 L232.44,318.35 L230.56,318.35 Z" fill="#3f5f9f"/>
<path d="M230.90,330.06 L231.84,331.75 L229.97,331.75 Z" fill="#3f5f9f"/>
<line x1="231.20" y1="303.30" x2="231.20" y2="310.60" stroke="#3f5f9f" stroke-width="1.1"/>
<line x1="228.80" y1="303.30" x2="233.60" y2="303.30" stroke="#3f5f9f" stroke-width="1.1"/>
<line x1="228.80" y1="310.60" x2="233.60" y2="310.60" stroke="#3f5f9f" stroke-width="1.1"/>
<line x1="231.20" y1="342.80" x2="231.20" y2="345.60" stroke="#1a1a1a" stroke-width="1.0"/>
<line x1="221.00" y1="285.30" x2="230.80" y2="285.30" stroke="#1a1a1a" stroke-width="1.05"/>
<path d="M222.90,281.70 L222.90,283.70 M222.03,282.20 L223.77,283.20 M222.03,283.20 L223.77,282.20 " stroke="#222" stroke-width="0.75" fill="none"/>
<path d="M225.90,281.70 L225.90,283.70 M225.03,282.20 L226.77,283.20 M225.03,283.20 L226.77,282.20 " stroke="#222" stroke-width="0.75" fill="none"/>
<path d="M228.90,281.70 L228.90,283.70 M228.03,282.20 L229.77,283.20 M228.03,283.20 L229.77,282.20 " stroke="#222" stroke-width="0.75" fill="none"/>
<text transform="translate(172.00,324.28) rotate(-90) scale(0.9598,1)" font-size="8.90" fill="#111" stroke="#111" stroke-width="0.180">Cell count</text>
<text x="221.20" y="355.20" font-size="6.6" text-anchor="middle" fill="#1a1a1a" textLength="15.30" lengthAdjust="spacingAndGlyphs" stroke="#1a1a1a" stroke-width="0.18">pre B</text>
<line x1="278.60" y1="266.90" x2="278.60" y2="343.45" stroke="#1a1a1a" stroke-width="1.3"/>
<line x1="277.95" y1="342.80" x2="308.50" y2="342.80" stroke="#1a1a1a" stroke-width="1.3"/>
<line x1="275.40" y1="269.70" x2="278.60" y2="269.70" stroke="#1a1a1a" stroke-width="1.0"/>
<text x="272.00" y="269.20" font-size="3.8" text-anchor="end" fill="#1e1e1e" textLength="2.20" lengthAdjust="spacingAndGlyphs" stroke="#1e1e1e" stroke-width="0.14">6</text>
<text x="269.30" y="272.21" font-size="7.0" text-anchor="end" fill="#1e1e1e" textLength="13.60" lengthAdjust="spacingAndGlyphs" stroke="#1e1e1e" stroke-width="0.2">5x10</text>
<line x1="275.40" y1="284.20" x2="278.60" y2="284.20" stroke="#1a1a1a" stroke-width="1.0"/>
<text x="272.00" y="283.70" font-size="3.8" text-anchor="end" fill="#1e1e1e" textLength="2.20" lengthAdjust="spacingAndGlyphs" stroke="#1e1e1e" stroke-width="0.14">6</text>
<text x="269.30" y="286.71" font-size="7.0" text-anchor="end" fill="#1e1e1e" textLength="13.60" lengthAdjust="spacingAndGlyphs" stroke="#1e1e1e" stroke-width="0.2">4x10</text>
<line x1="275.40" y1="298.70" x2="278.60" y2="298.70" stroke="#1a1a1a" stroke-width="1.0"/>
<text x="272.00" y="298.20" font-size="3.8" text-anchor="end" fill="#1e1e1e" textLength="2.20" lengthAdjust="spacingAndGlyphs" stroke="#1e1e1e" stroke-width="0.14">6</text>
<text x="269.30" y="301.21" font-size="7.0" text-anchor="end" fill="#1e1e1e" textLength="13.60" lengthAdjust="spacingAndGlyphs" stroke="#1e1e1e" stroke-width="0.2">3x10</text>
<line x1="275.40" y1="313.20" x2="278.60" y2="313.20" stroke="#1a1a1a" stroke-width="1.0"/>
<text x="272.00" y="312.70" font-size="3.8" text-anchor="end" fill="#1e1e1e" textLength="2.20" lengthAdjust="spacingAndGlyphs" stroke="#1e1e1e" stroke-width="0.14">6</text>
<text x="269.30" y="315.71" font-size="7.0" text-anchor="end" fill="#1e1e1e" textLength="13.60" lengthAdjust="spacingAndGlyphs" stroke="#1e1e1e" stroke-width="0.2">2x10</text>
<line x1="275.40" y1="327.70" x2="278.60" y2="327.70" stroke="#1a1a1a" stroke-width="1.0"/>
<text x="272.00" y="327.20" font-size="3.8" text-anchor="end" fill="#1e1e1e" textLength="2.20" lengthAdjust="spacingAndGlyphs" stroke="#1e1e1e" stroke-width="0.14">6</text>
<text x="269.30" y="330.21" font-size="7.0" text-anchor="end" fill="#1e1e1e" textLength="13.60" lengthAdjust="spacingAndGlyphs" stroke="#1e1e1e" stroke-width="0.2">1x10</text>
<line x1="275.40" y1="342.90" x2="278.60" y2="342.90" stroke="#1a1a1a" stroke-width="1.0"/>
<text x="272.00" y="345.41" font-size="7.0" text-anchor="end" fill="#1e1e1e" stroke="#1e1e1e" stroke-width="0.2">0</text>
<path d="M280.00,342.80 L280.00,316.20 L286.50,316.20 L286.50,342.80" fill="none" stroke="#b8173f" stroke-width="1.2"/>
<circle cx="283.30" cy="285.80" r="0.81" fill="#b8173f"/>
<circle cx="284.00" cy="311.60" r="0.81" fill="#b8173f"/>
<circle cx="281.70" cy="317.60" r="0.81" fill="#b8173f"/>
<circle cx="284.70" cy="322.50" r="0.81" fill="#b8173f"/>
<circle cx="283.70" cy="326.50" r="0.81" fill="#b8173f"/>
<circle cx="283.30" cy="330.50" r="0.81" fill="#b8173f"/>
<line x1="283.25" y1="310.60" x2="283.25" y2="319.10" stroke="#b8173f" stroke-width="1.1"/>
<line x1="280.95" y1="310.60" x2="285.55" y2="310.60" stroke="#b8173f" stroke-width="1.1"/>
<line x1="280.95" y1="319.10" x2="285.55" y2="319.10" stroke="#b8173f" stroke-width="1.1"/>
<line x1="283.25" y1="342.80" x2="283.25" y2="345.60" stroke="#1a1a1a" stroke-width="1.0"/>
<path d="M289.80,342.80 L289.80,339.00 L296.30,339.00 L296.30,342.80" fill="none" stroke="#e89a2c" stroke-width="1.2"/>
<rect x="292.39" y="322.69" width="1.61" height="1.61" fill="#e89a2c"/>
<rect x="291.19" y="335.59" width="1.61" height="1.61" fill="#e89a2c"/>
<rect x="293.19" y="337.19" width="1.61" height="1.61" fill="#e89a2c"/>
<rect x="292.19" y="339.69" width="1.61" height="1.61" fill="#e89a2c"/>
<line x1="293.05" y1="335.80" x2="293.05" y2="340.40" stroke="#e89a2c" stroke-width="1.1"/>
<line x1="290.75" y1="335.80" x2="295.35" y2="335.80" stroke="#e89a2c" stroke-width="1.1"/>
<line x1="290.75" y1="340.40" x2="295.35" y2="340.40" stroke="#e89a2c" stroke-width="1.1"/>
<line x1="293.05" y1="342.80" x2="293.05" y2="345.60" stroke="#1a1a1a" stroke-width="1.0"/>
<path d="M299.40,342.80 L299.40,313.80 L306.20,313.80 L306.20,342.80" fill="none" stroke="#3f5f9f" stroke-width="1.2"/>
<path d="M303.10,293.76 L304.04,295.45 L302.17,295.45 Z" fill="#3f5f9f"/>
<path d="M303.10,302.76 L304.04,304.45 L302.17,304.45 Z" fill="#3f5f9f"/>
<path d="M303.10,305.67 L304.04,307.35 L302.17,307.35 Z" fill="#3f5f9f"/>
<path d="M301.50,311.06 L302.44,312.75 L300.56,312.75 Z" fill="#3f5f9f"/>
<path d="M304.50,313.67 L305.44,315.35 L303.56,315.35 Z" fill="#3f5f9f"/>
<path d="M303.10,321.56 L304.04,323.25 L302.17,323.25 Z" fill="#3f5f9f"/>
<path d="M303.50,328.96 L304.44,330.65 L302.56,330.65 Z" fill="#3f5f9f"/>
<line x1="302.80" y1="309.20" x2="302.80" y2="316.60" stroke="#3f5f9f" stroke-width="1.1"/>
<line x1="300.50" y1="309.20" x2="305.10" y2="309.20" stroke="#3f5f9f" stroke-width="1.1"/>
<line x1="300.50" y1="316.60" x2="305.10" y2="316.60" stroke="#3f5f9f" stroke-width="1.1"/>
<line x1="302.80" y1="342.80" x2="302.80" y2="345.60" stroke="#1a1a1a" stroke-width="1.0"/>
<line x1="294.80" y1="285.30" x2="303.60" y2="285.30" stroke="#1a1a1a" stroke-width="1.05"/>
<path d="M296.20,281.70 L296.20,283.70 M295.33,282.20 L297.07,283.20 M295.33,283.20 L297.07,282.20 " stroke="#222" stroke-width="0.75" fill="none"/>
<path d="M299.20,281.70 L299.20,283.70 M298.33,282.20 L300.07,283.20 M298.33,283.20 L300.07,282.20 " stroke="#222" stroke-width="0.75" fill="none"/>
<path d="M302.20,281.70 L302.20,283.70 M301.33,282.20 L303.07,283.20 M301.33,283.20 L303.07,282.20 " stroke="#222" stroke-width="0.75" fill="none"/>
<text transform="translate(249.30,324.28) rotate(-90) scale(0.9598,1)" font-size="8.90" fill="#111" stroke="#111" stroke-width="0.180">Cell count</text>
<text x="294.10" y="355.20" font-size="6.6" text-anchor="middle" fill="#1a1a1a" textLength="32.80" lengthAdjust="spacingAndGlyphs" stroke="#1a1a1a" stroke-width="0.18">Immature B</text>
<defs><filter id="bl1" x="-50%" y="-50%" width="200%" height="200%"><feGaussianBlur stdDeviation="1.2"/></filter><filter id="bl2" x="-50%" y="-50%" width="200%" height="200%"><feGaussianBlur stdDeviation="0.8"/></filter><filter id="bl05" x="-50%" y="-50%" width="200%" height="200%"><feGaussianBlur stdDeviation="0.45"/></filter></defs>
<rect x="351.40" y="28.00" width="70.90" height="70.90" fill="none" stroke="#a8a8a8" stroke-width="1"/>
<line x1="351.40" y1="28.00" x2="351.40" y2="98.90" stroke="#555" stroke-width="1.0"/>
<line x1="351.40" y1="98.90" x2="422.30" y2="98.90" stroke="#666" stroke-width="1.0"/>
<line x1="350.20" y1="46.57" x2="351.40" y2="46.57" stroke="#444" stroke-width="0.8"/>
<line x1="350.20" y1="43.63" x2="351.40" y2="43.63" stroke="#444" stroke-width="0.8"/>
<line x1="350.20" y1="41.55" x2="351.40" y2="41.55" stroke="#444" stroke-width="0.8"/>
<line x1="350.20" y1="39.93" x2="351.40" y2="39.93" stroke="#444" stroke-width="0.8"/>
<line x1="350.20" y1="38.60" x2="351.40" y2="38.60" stroke="#444" stroke-width="0.8"/>
<line x1="350.20" y1="37.49" x2="351.40" y2="37.49" stroke="#444" stroke-width="0.8"/>
<line x1="350.20" y1="36.52" x2="351.40" y2="36.52" stroke="#444" stroke-width="0.8"/>
<line x1="350.20" y1="35.66" x2="351.40" y2="35.66" stroke="#444" stroke-width="0.8"/>
<line x1="350.20" y1="64.67" x2="351.40" y2="64.67" stroke="#444" stroke-width="0.8"/>
<line x1="350.20" y1="61.38" x2="351.40" y2="61.38" stroke="#444" stroke-width="0.8"/>
<line x1="350.20" y1="59.04" x2="351.40" y2="59.04" stroke="#444" stroke-width="0.8"/>
<line x1="350.20" y1="57.23" x2="351.40" y2="57.23" stroke="#444" stroke-width="0.8"/>
<line x1="350.20" y1="55.75" x2="351.40" y2="55.75" stroke="#444" stroke-width="0.8"/>
<line x1="350.20" y1="54.50" x2="351.40" y2="54.50" stroke="#444" stroke-width="0.8"/>
<line x1="350.20" y1="53.41" x2="351.40" y2="53.41" stroke="#444" stroke-width="0.8"/>
<line x1="350.20" y1="52.46" x2="351.40" y2="52.46" stroke="#444" stroke-width="0.8"/>
<line x1="349.20" y1="34.90" x2="351.40" y2="34.90" stroke="#444" stroke-width="0.8"/>
<line x1="349.20" y1="51.60" x2="351.40" y2="51.60" stroke="#444" stroke-width="0.8"/>
<line x1="349.20" y1="70.30" x2="351.40" y2="70.30" stroke="#444" stroke-width="0.8"/>
<line x1="349.20" y1="82.50" x2="351.40" y2="82.50" stroke="#444" stroke-width="0.8"/>
<line x1="349.20" y1="94.30" x2="351.40" y2="94.30" stroke="#444" stroke-width="0.8"/>
<line x1="350.20" y1="88.40" x2="351.40" y2="88.40" stroke="#444" stroke-width="0.8"/>
<line x1="350.20" y1="76.40" x2="351.40" y2="76.40" stroke="#444" stroke-width="0.8"/>
<line x1="367.30" y1="98.90" x2="367.30" y2="101.10" stroke="#444" stroke-width="0.8"/>
<line x1="388.60" y1="98.90" x2="388.60" y2="101.10" stroke="#444" stroke-width="0.8"/>
<line x1="412.00" y1="98.90" x2="412.00" y2="101.10" stroke="#444" stroke-width="0.8"/>
<line x1="360.00" y1="98.90" x2="360.00" y2="100.10" stroke="#444" stroke-width="0.8"/>
<line x1="374.00" y1="98.90" x2="374.00" y2="100.10" stroke="#444" stroke-width="0.8"/>
<line x1="379.00" y1="98.90" x2="379.00" y2="100.10" stroke="#444" stroke-width="0.8"/>
<line x1="383.00" y1="98.90" x2="383.00" y2="100.10" stroke="#444" stroke-width="0.8"/>
<line x1="395.00" y1="98.90" x2="395.00" y2="100.10" stroke="#444" stroke-width="0.8"/>
<line x1="400.00" y1="98.90" x2="400.00" y2="100.10" stroke="#444" stroke-width="0.8"/>
<line x1="404.00" y1="98.90" x2="404.00" y2="100.10" stroke="#444" stroke-width="0.8"/>
<line x1="417.00" y1="98.90" x2="417.00" y2="100.10" stroke="#444" stroke-width="0.8"/>
<text x="346.10" y="34.44" font-size="3.4" text-anchor="end" fill="#151515" textLength="1.90" lengthAdjust="spacingAndGlyphs" stroke="#151515" stroke-width="0.06">5</text>
<text x="344.10" y="36.94" font-size="5.7" text-anchor="end" fill="#151515" textLength="6.40" lengthAdjust="spacingAndGlyphs" stroke="#151515" stroke-width="0.2">10</text>
<text x="346.10" y="51.14" font-size="3.4" text-anchor="end" fill="#151515" textLength="1.90" lengthAdjust="spacingAndGlyphs" stroke="#151515" stroke-width="0.06">4</text>
<text x="344.10" y="53.64" font-size="5.7" text-anchor="end" fill="#151515" textLength="6.40" lengthAdjust="spacingAndGlyphs" stroke="#151515" stroke-width="0.2">10</text>
<text x="346.10" y="69.84" font-size="3.4" text-anchor="end" fill="#151515" textLength="1.90" lengthAdjust="spacingAndGlyphs" stroke="#151515" stroke-width="0.06">3</text>
<text x="344.10" y="72.34" font-size="5.7" text-anchor="end" fill="#151515" textLength="6.40" lengthAdjust="spacingAndGlyphs" stroke="#151515" stroke-width="0.2">10</text>
<text x="346.10" y="84.74" font-size="5.7" text-anchor="end" fill="#151515" stroke="#151515" stroke-width="0.2">0</text>
<text x="346.10" y="93.84" font-size="3.4" text-anchor="end" fill="#151515" textLength="1.90" lengthAdjust="spacingAndGlyphs" stroke="#151515" stroke-width="0.06">3</text>
<text x="344.10" y="96.34" font-size="5.7" text-anchor="end" fill="#151515" textLength="8.60" lengthAdjust="spacingAndGlyphs" stroke="#151515" stroke-width="0.2">-10</text>
<text x="367.30" y="109.54" font-size="5.7" text-anchor="middle" fill="#151515" stroke="#151515" stroke-width="0.2">0</text>
<text x="384.40" y="109.54" font-size="5.7" text-anchor="start" fill="#151515" textLength="6.40" lengthAdjust="spacingAndGlyphs" stroke="#151515" stroke-width="0.2">10</text>
<text x="390.90" y="107.04" font-size="3.4" text-anchor="start" fill="#151515" textLength="1.90" lengthAdjust="spacingAndGlyphs" stroke="#151515" stroke-width="0.06">3</text>
<text x="407.80" y="109.54" font-size="5.7" text-anchor="start" fill="#151515" textLength="6.40" lengthAdjust="spacingAndGlyphs" stroke="#151515" stroke-width="0.2">10</text>
<text x="414.30" y="107.04" font-size="3.4" text-anchor="start" fill="#151515" textLength="1.90" lengthAdjust="spacingAndGlyphs" stroke="#151515" stroke-width="0.06">4</text>
<text x="349.60" y="22.80" font-size="6.8" text-anchor="start" fill="#151515" textLength="32.30" lengthAdjust="spacingAndGlyphs" stroke="#151515" stroke-width="0.15">donor-/Lin-</text>
<text transform="translate(328.00,80.27) rotate(-90) scale(0.9971,1)" font-size="8.70" fill="#111" stroke="#111" stroke-width="0.180">BM only</text>
<defs><clipPath id="cpT"><rect x="365.2" y="30" width="50" height="60"/></clipPath><clipPath id="cpB"><rect x="365.2" y="116" width="50" height="60"/></clipPath></defs>
<g fill="#3040ff" opacity="0.55"><rect x="377.02" y="49.93" width="0.90" height="0.90"/><rect x="373.66" y="64.43" width="0.90" height="0.90"/><rect x="375.14" y="58.82" width="0.90" height="0.90"/><rect x="380.52" y="63.39" width="0.90" height="0.90"/><rect x="369.89" y="52.08" width="0.90" height="0.90"/><rect x="387.26" y="51.95" width="0.90" height="0.90"/><rect x="365.45" y="44.30" width="0.90" height="0.90"/><rect x="371.17" y="55.86" width="0.90" height="0.90"/><rect x="368.31" y="53.99" width="0.90" height="0.90"/><rect x="372.33" y="60.78" width="0.90" height="0.90"/><rect x="377.68" y="56.44" width="0.90" height="0.90"/><rect x="365.49" y="56.47" width="0.90" height="0.90"/><rect x="392.00" y="54.11" width="0.90" height="0.90"/><rect x="376.03" y="42.64" width="0.90" height="0.90"/><rect x="368.68" y="60.51" width="0.90" height="0.90"/><rect x="369.95" y="57.88" width="0.90" height="0.90"/><rect x="371.22" y="45.49" width="0.90" height="0.90"/><rect x="374.21" y="47.24" width="0.90" height="0.90"/><rect x="382.72" y="50.00" width="0.90" height="0.90"/><rect x="375.01" y="54.57" width="0.90" height="0.90"/><rect x="376.74" y="49.13" width="0.90" height="0.90"/><rect x="377.04" y="53.43" width="0.90" height="0.90"/><rect x="378.76" y="60.17" width="0.90" height="0.90"/><rect x="371.47" y="47.53" width="0.90" height="0.90"/><rect x="375.54" y="58.76" width="0.90" height="0.90"/><rect x="381.22" y="51.16" width="0.90" height="0.90"/><rect x="374.16" y="59.12" width="0.90" height="0.90"/><rect x="372.39" y="56.43" width="0.90" height="0.90"/><rect x="371.73" y="49.16" width="0.90" height="0.90"/><rect x="374.39" y="68.15" width="0.90" height="0.90"/><rect x="376.90" y="64.03" width="0.90" height="0.90"/><rect x="375.60" y="60.84" width="0.90" height="0.90"/><rect x="371.74" y="61.49" width="0.90" height="0.90"/><rect x="382.08" y="51.60" width="0.90" height="0.90"/><rect x="366.04" y="72.19" width="0.90" height="0.90"/><rect x="372.14" y="63.29" width="0.90" height="0.90"/><rect x="376.23" y="44.33" width="0.90" height="0.90"/><rect x="386.37" y="70.53" width="0.90" height="0.90"/><rect x="371.70" y="61.32" width="0.90" height="0.90"/><rect x="371.37" y="46.59" width="0.90" height="0.90"/><rect x="369.82" y="57.92" width="0.90" height="0.90"/><rect x="377.80" y="60.93" width="0.90" height="0.90"/><rect x="370.94" y="66.74" width="0.90" height="0.90"/><rect x="365.61" y="61.69" width="0.90" height="0.90"/><rect x="377.78" y="51.92" width="0.90" height="0.90"/><rect x="372.09" y="59.30" width="0.90" height="0.90"/><rect x="380.61" y="45.51" width="0.90" height="0.90"/><rect x="370.56" y="60.39" width="0.90" height="0.90"/><rect x="375.79" y="75.36" width="0.90" height="0.90"/><rect x="377.08" y="46.29" width="0.90" height="0.90"/><rect x="367.87" y="56.55" width="0.90" height="0.90"/><rect x="386.73" y="60.11" width="0.90" height="0.90"/><rect x="371.29" y="68.57" width="0.90" height="0.90"/><rect x="370.02" y="71.30" width="0.90" height="0.90"/><rect x="366.10" y="50.28" width="0.90" height="0.90"/><rect x="375.24" y="67.37" width="0.90" height="0.90"/><rect x="374.80" y="57.26" width="0.90" height="0.90"/><rect x="366.58" y="49.75" width="0.90" height="0.90"/><rect x="374.36" y="51.53" width="0.90" height="0.90"/><rect x="375.67" y="55.29" width="0.90" height="0.90"/><rect x="368.39" y="55.61" width="0.90" height="0.90"/><rect x="373.34" y="62.27" width="0.90" height="0.90"/><rect x="367.45" y="52.46" width="0.90" height="0.90"/><rect x="379.99" y="52.94" width="0.90" height="0.90"/><rect x="367.44" y="43.43" width="0.90" height="0.90"/><rect x="371.65" y="56.41" width="0.90" height="0.90"/><rect x="384.73" y="56.77" width="0.90" height="0.90"/><rect x="379.71" y="56.25" width="0.90" height="0.90"/><rect x="377.82" y="59.70" width="0.90" height="0.90"/><rect x="369.73" y="40.56" width="0.90" height="0.90"/><rect x="381.24" y="43.92" width="0.90" height="0.90"/><rect x="376.10" y="45.67" width="0.90" height="0.90"/><rect x="366.04" y="48.30" width="0.90" height="0.90"/><rect x="378.68" y="60.76" width="0.90" height="0.90"/><rect x="383.92" y="53.77" width="0.90" height="0.90"/><rect x="369.67" y="45.71" width="0.90" height="0.90"/><rect x="369.75" y="42.73" width="0.90" height="0.90"/><rect x="379.91" y="62.08" width="0.90" height="0.90"/><rect x="379.21" y="56.82" width="0.90" height="0.90"/><rect x="365.88" y="55.33" width="0.90" height="0.90"/><rect x="368.12" y="44.55" width="0.90" height="0.90"/><rect x="370.51" y="55.91" width="0.90" height="0.90"/><rect x="367.47" y="67.41" width="0.90" height="0.90"/><rect x="371.71" y="59.80" width="0.90" height="0.90"/><rect x="378.47" y="47.17" width="0.90" height="0.90"/><rect x="366.08" y="66.35" width="0.90" height="0.90"/><rect x="372.74" y="63.61" width="0.90" height="0.90"/><rect x="375.22" y="48.49" width="0.90" height="0.90"/><rect x="365.64" y="50.63" width="0.90" height="0.90"/><rect x="375.54" y="62.51" width="0.90" height="0.90"/><rect x="377.12" y="39.61" width="0.90" height="0.90"/><rect x="369.89" y="59.95" width="0.90" height="0.90"/><rect x="365.58" y="56.75" width="0.90" height="0.90"/><rect x="372.05" y="63.62" width="0.90" height="0.90"/><rect x="365.21" y="47.09" width="0.90" height="0.90"/><rect x="365.59" y="70.32" width="0.90" height="0.90"/><rect x="377.64" y="53.44" width="0.90" height="0.90"/><rect x="372.02" y="55.58" width="0.90" height="0.90"/><rect x="371.87" y="52.67" width="0.90" height="0.90"/><rect x="368.38" y="43.24" width="0.90" height="0.90"/><rect x="366.38" y="69.40" width="0.90" height="0.90"/><rect x="374.04" y="55.13" width="0.90" height="0.90"/><rect x="369.15" y="55.11" width="0.90" height="0.90"/><rect x="372.85" y="48.74" width="0.90" height="0.90"/><rect x="371.83" y="56.71" width="0.90" height="0.90"/><rect x="365.68" y="47.45" width="0.90" height="0.90"/><rect x="368.82" y="49.05" width="0.90" height="0.90"/><rect x="366.52" y="55.43" width="0.90" height="0.90"/><rect x="377.88" y="55.24" width="0.90" height="0.90"/><rect x="369.64" y="49.04" width="0.90" height="0.90"/><rect x="369.71" y="62.76" width="0.90" height="0.90"/><rect x="367.99" y="44.23" width="0.90" height="0.90"/><rect x="372.86" y="52.41" width="0.90" height="0.90"/><rect x="380.04" y="48.63" width="0.90" height="0.90"/><rect x="375.44" y="61.76" width="0.90" height="0.90"/><rect x="378.97" y="43.50" width="0.90" height="0.90"/><rect x="377.37" y="51.10" width="0.90" height="0.90"/><rect x="367.99" y="49.59" width="0.90" height="0.90"/><rect x="368.44" y="38.19" width="0.90" height="0.90"/><rect x="373.74" y="73.35" width="0.90" height="0.90"/><rect x="388.31" y="51.52" width="0.90" height="0.90"/><rect x="374.26" y="47.99" width="0.90" height="0.90"/><rect x="376.63" y="59.37" width="0.90" height="0.90"/><rect x="368.99" y="54.72" width="0.90" height="0.90"/><rect x="371.41" y="51.50" width="0.90" height="0.90"/><rect x="371.78" y="49.27" width="0.90" height="0.90"/><rect x="372.89" y="58.49" width="0.90" height="0.90"/><rect x="375.87" y="42.93" width="0.90" height="0.90"/><rect x="377.69" y="51.05" width="0.90" height="0.90"/><rect x="373.17" y="53.35" width="0.90" height="0.90"/><rect x="371.97" y="65.38" width="0.90" height="0.90"/><rect x="367.93" y="68.63" width="0.90" height="0.90"/><rect x="365.47" y="46.16" width="0.90" height="0.90"/><rect x="375.17" y="44.96" width="0.90" height="0.90"/><rect x="368.14" y="62.71" width="0.90" height="0.90"/><rect x="378.42" y="38.58" width="0.90" height="0.90"/><rect x="373.84" y="71.50" width="0.90" height="0.90"/><rect x="378.32" y="52.39" width="0.90" height="0.90"/><rect x="366.65" y="51.88" width="0.90" height="0.90"/><rect x="369.33" y="53.24" width="0.90" height="0.90"/><rect x="378.24" y="52.48" width="0.90" height="0.90"/><rect x="369.68" y="51.45" width="0.90" height="0.90"/><rect x="384.75" y="49.09" width="0.90" height="0.90"/><rect x="369.66" y="64.67" width="0.90" height="0.90"/><rect x="375.39" y="61.42" width="0.90" height="0.90"/><rect x="364.93" y="55.71" width="0.90" height="0.90"/><rect x="373.79" y="66.20" width="0.90" height="0.90"/><rect x="373.60" y="52.41" width="0.90" height="0.90"/><rect x="370.81" y="52.65" width="0.90" height="0.90"/><rect x="372.16" y="60.62" width="0.90" height="0.90"/><rect x="368.34" y="47.23" width="0.90" height="0.90"/><rect x="364.99" y="64.42" width="0.90" height="0.90"/><rect x="378.88" y="63.48" width="0.90" height="0.90"/><rect x="376.12" y="62.05" width="0.90" height="0.90"/><rect x="370.53" y="60.52" width="0.90" height="0.90"/><rect x="365.78" y="61.09" width="0.90" height="0.90"/><rect x="366.78" y="53.58" width="0.90" height="0.90"/><rect x="373.15" y="66.74" width="0.90" height="0.90"/><rect x="365.40" y="46.10" width="0.90" height="0.90"/><rect x="375.86" y="44.59" width="0.90" height="0.90"/><rect x="373.49" y="49.42" width="0.90" height="0.90"/><rect x="369.86" y="38.16" width="0.90" height="0.90"/><rect x="375.19" y="50.05" width="0.90" height="0.90"/><rect x="373.20" y="51.42" width="0.90" height="0.90"/><rect x="371.25" y="69.01" width="0.90" height="0.90"/><rect x="370.37" y="58.61" width="0.90" height="0.90"/><rect x="373.91" y="46.36" width="0.90" height="0.90"/><rect x="371.39" y="50.03" width="0.90" height="0.90"/><rect x="374.88" y="55.22" width="0.90" height="0.90"/><rect x="373.71" y="53.67" width="0.90" height="0.90"/><rect x="371.48" y="57.74" width="0.90" height="0.90"/><rect x="371.96" y="56.09" width="0.90" height="0.90"/><rect x="367.23" y="52.43" width="0.90" height="0.90"/><rect x="372.31" y="60.12" width="0.90" height="0.90"/><rect x="373.16" y="52.76" width="0.90" height="0.90"/><rect x="385.34" y="62.95" width="0.90" height="0.90"/><rect x="367.17" y="63.49" width="0.90" height="0.90"/><rect x="369.69" y="53.68" width="0.90" height="0.90"/><rect x="366.75" y="38.01" width="0.90" height="0.90"/><rect x="373.54" y="63.54" width="0.90" height="0.90"/><rect x="370.11" y="45.39" width="0.90" height="0.90"/><rect x="371.87" y="59.64" width="0.90" height="0.90"/><rect x="369.41" y="54.42" width="0.90" height="0.90"/><rect x="379.71" y="44.48" width="0.90" height="0.90"/><rect x="366.92" y="37.40" width="0.90" height="0.90"/><rect x="366.00" y="47.89" width="0.90" height="0.90"/><rect x="382.23" y="52.78" width="0.90" height="0.90"/><rect x="369.81" y="74.33" width="0.90" height="0.90"/><rect x="370.16" y="38.95" width="0.90" height="0.90"/><rect x="373.17" y="46.12" width="0.90" height="0.90"/><rect x="381.20" y="43.34" width="0.90" height="0.90"/><rect x="366.78" y="40.10" width="0.90" height="0.90"/><rect x="371.18" y="45.41" width="0.90" height="0.90"/><rect x="370.12" y="51.16" width="0.90" height="0.90"/><rect x="366.57" y="63.04" width="0.90" height="0.90"/><rect x="376.63" y="55.11" width="0.90" height="0.90"/><rect x="372.30" y="76.07" width="0.90" height="0.90"/><rect x="367.58" y="47.49" width="0.90" height="0.90"/><rect x="366.02" y="44.69" width="0.90" height="0.90"/><rect x="379.87" y="54.54" width="0.90" height="0.90"/><rect x="367.23" y="40.02" width="0.90" height="0.90"/><rect x="371.94" y="54.31" width="0.90" height="0.90"/><rect x="370.28" y="63.66" width="0.90" height="0.90"/><rect x="374.62" y="56.40" width="0.90" height="0.90"/><rect x="368.45" y="57.44" width="0.90" height="0.90"/><rect x="370.47" y="74.11" width="0.90" height="0.90"/><rect x="378.79" y="52.16" width="0.90" height="0.90"/><rect x="379.81" y="54.16" width="0.90" height="0.90"/><rect x="371.50" y="51.21" width="0.90" height="0.90"/><rect x="384.95" y="60.36" width="0.90" height="0.90"/><rect x="374.49" y="63.13" width="0.90" height="0.90"/><rect x="374.25" y="63.75" width="0.90" height="0.90"/><rect x="368.82" y="52.54" width="0.90" height="0.90"/><rect x="376.94" y="51.38" width="0.90" height="0.90"/><rect x="367.01" y="60.07" width="0.90" height="0.90"/><rect x="365.87" y="45.00" width="0.90" height="0.90"/><rect x="368.39" y="68.53" width="0.90" height="0.90"/><rect x="370.24" y="56.00" width="0.90" height="0.90"/><rect x="370.61" y="57.21" width="0.90" height="0.90"/><rect x="376.58" y="67.11" width="0.90" height="0.90"/><rect x="370.53" y="51.66" width="0.90" height="0.90"/><rect x="386.14" y="53.02" width="0.90" height="0.90"/><rect x="383.19" y="63.26" width="0.90" height="0.90"/><rect x="375.34" y="53.42" width="0.90" height="0.90"/><rect x="369.30" y="44.58" width="0.90" height="0.90"/><rect x="382.42" y="52.35" width="0.90" height="0.90"/><rect x="367.99" y="51.85" width="0.90" height="0.90"/><rect x="365.46" y="47.56" width="0.90" height="0.90"/><rect x="371.16" y="57.37" width="0.90" height="0.90"/><rect x="367.25" y="53.74" width="0.90" height="0.90"/></g>
<g fill="#3040ff" opacity="0.55"><rect x="369.51" y="56.90" width="0.90" height="0.90"/><rect x="373.68" y="55.52" width="0.90" height="0.90"/><rect x="372.66" y="52.23" width="0.90" height="0.90"/><rect x="379.95" y="49.10" width="0.90" height="0.90"/><rect x="394.60" y="54.38" width="0.90" height="0.90"/><rect x="378.08" y="51.25" width="0.90" height="0.90"/><rect x="388.92" y="60.79" width="0.90" height="0.90"/><rect x="380.50" y="48.39" width="0.90" height="0.90"/><rect x="375.27" y="57.32" width="0.90" height="0.90"/><rect x="375.22" y="49.22" width="0.90" height="0.90"/><rect x="370.83" y="51.08" width="0.90" height="0.90"/><rect x="378.64" y="51.63" width="0.90" height="0.90"/><rect x="378.67" y="67.11" width="0.90" height="0.90"/><rect x="390.07" y="49.88" width="0.90" height="0.90"/><rect x="380.78" y="54.94" width="0.90" height="0.90"/><rect x="377.65" y="59.24" width="0.90" height="0.90"/><rect x="376.39" y="53.09" width="0.90" height="0.90"/><rect x="376.11" y="54.10" width="0.90" height="0.90"/><rect x="386.91" y="58.04" width="0.90" height="0.90"/><rect x="369.83" y="52.56" width="0.90" height="0.90"/><rect x="373.37" y="58.22" width="0.90" height="0.90"/><rect x="380.01" y="58.55" width="0.90" height="0.90"/><rect x="378.15" y="45.96" width="0.90" height="0.90"/><rect x="381.48" y="55.57" width="0.90" height="0.90"/><rect x="381.85" y="48.69" width="0.90" height="0.90"/><rect x="379.08" y="51.46" width="0.90" height="0.90"/><rect x="374.08" y="56.14" width="0.90" height="0.90"/><rect x="380.84" y="50.53" width="0.90" height="0.90"/><rect x="374.81" y="59.60" width="0.90" height="0.90"/><rect x="378.19" y="44.42" width="0.90" height="0.90"/><rect x="372.94" y="56.45" width="0.90" height="0.90"/><rect x="389.42" y="59.81" width="0.90" height="0.90"/><rect x="380.93" y="55.44" width="0.90" height="0.90"/><rect x="371.66" y="52.52" width="0.90" height="0.90"/><rect x="376.38" y="51.07" width="0.90" height="0.90"/><rect x="378.96" y="52.78" width="0.90" height="0.90"/><rect x="380.74" y="61.00" width="0.90" height="0.90"/><rect x="383.37" y="56.43" width="0.90" height="0.90"/><rect x="376.99" y="47.71" width="0.90" height="0.90"/><rect x="377.81" y="57.00" width="0.90" height="0.90"/><rect x="372.00" y="60.19" width="0.90" height="0.90"/><rect x="376.38" y="56.22" width="0.90" height="0.90"/><rect x="376.41" y="48.90" width="0.90" height="0.90"/><rect x="391.99" y="49.32" width="0.90" height="0.90"/><rect x="384.52" y="52.05" width="0.90" height="0.90"/><rect x="380.36" y="50.92" width="0.90" height="0.90"/><rect x="375.84" y="58.69" width="0.90" height="0.90"/><rect x="391.20" y="50.74" width="0.90" height="0.90"/><rect x="378.62" y="58.81" width="0.90" height="0.90"/><rect x="374.45" y="57.75" width="0.90" height="0.90"/><rect x="373.45" y="57.27" width="0.90" height="0.90"/><rect x="381.39" y="60.00" width="0.90" height="0.90"/><rect x="380.91" y="49.18" width="0.90" height="0.90"/><rect x="382.87" y="49.59" width="0.90" height="0.90"/><rect x="383.43" y="61.35" width="0.90" height="0.90"/><rect x="382.42" y="52.06" width="0.90" height="0.90"/><rect x="386.30" y="55.30" width="0.90" height="0.90"/><rect x="370.46" y="52.95" width="0.90" height="0.90"/><rect x="387.77" y="53.18" width="0.90" height="0.90"/><rect x="379.34" y="53.01" width="0.90" height="0.90"/><rect x="367.59" y="52.25" width="0.90" height="0.90"/><rect x="380.87" y="55.49" width="0.90" height="0.90"/><rect x="377.42" y="44.94" width="0.90" height="0.90"/><rect x="386.49" y="57.79" width="0.90" height="0.90"/><rect x="385.20" y="60.40" width="0.90" height="0.90"/><rect x="375.66" y="51.83" width="0.90" height="0.90"/><rect x="380.59" y="62.08" width="0.90" height="0.90"/><rect x="367.59" y="53.52" width="0.90" height="0.90"/><rect x="373.90" y="57.07" width="0.90" height="0.90"/><rect x="388.07" y="53.22" width="0.90" height="0.90"/><rect x="370.49" y="54.77" width="0.90" height="0.90"/><rect x="376.70" y="47.61" width="0.90" height="0.90"/><rect x="384.30" y="52.19" width="0.90" height="0.90"/><rect x="382.99" y="48.63" width="0.90" height="0.90"/><rect x="385.68" y="48.06" width="0.90" height="0.90"/><rect x="385.40" y="46.40" width="0.90" height="0.90"/><rect x="387.52" y="52.86" width="0.90" height="0.90"/><rect x="368.44" y="53.49" width="0.90" height="0.90"/><rect x="380.74" y="50.09" width="0.90" height="0.90"/><rect x="375.34" y="55.76" width="0.90" height="0.90"/><rect x="375.76" y="56.47" width="0.90" height="0.90"/><rect x="380.48" y="59.09" width="0.90" height="0.90"/><rect x="374.06" y="66.04" width="0.90" height="0.90"/><rect x="383.75" y="55.95" width="0.90" height="0.90"/><rect x="385.60" y="58.84" width="0.90" height="0.90"/><rect x="379.21" y="51.76" width="0.90" height="0.90"/><rect x="385.21" y="56.45" width="0.90" height="0.90"/><rect x="381.59" y="55.04" width="0.90" height="0.90"/><rect x="380.37" y="57.44" width="0.90" height="0.90"/><rect x="379.50" y="61.67" width="0.90" height="0.90"/><rect x="374.72" y="52.75" width="0.90" height="0.90"/><rect x="380.65" y="57.90" width="0.90" height="0.90"/><rect x="383.67" y="61.24" width="0.90" height="0.90"/><rect x="375.45" y="59.80" width="0.90" height="0.90"/><rect x="381.59" y="49.86" width="0.90" height="0.90"/><rect x="377.66" y="63.93" width="0.90" height="0.90"/><rect x="383.66" y="52.44" width="0.90" height="0.90"/><rect x="373.98" y="54.90" width="0.90" height="0.90"/><rect x="393.57" y="57.91" width="0.90" height="0.90"/><rect x="380.58" y="50.34" width="0.90" height="0.90"/><rect x="370.84" y="53.62" width="0.90" height="0.90"/><rect x="375.51" y="68.08" width="0.90" height="0.90"/><rect x="375.92" y="51.78" width="0.90" height="0.90"/><rect x="385.89" y="54.90" width="0.90" height="0.90"/><rect x="370.52" y="60.35" width="0.90" height="0.90"/><rect x="376.52" y="48.57" width="0.90" height="0.90"/><rect x="380.64" y="56.75" width="0.90" height="0.90"/><rect x="376.35" y="57.69" width="0.90" height="0.90"/><rect x="383.88" y="50.58" width="0.90" height="0.90"/><rect x="377.72" y="60.09" width="0.90" height="0.90"/></g>
<g fill="#4a58ff" opacity="0.5"><rect x="383.57" y="72.51" width="0.90" height="0.90"/><rect x="388.69" y="65.63" width="0.90" height="0.90"/><rect x="383.89" y="57.90" width="0.90" height="0.90"/><rect x="381.69" y="67.51" width="0.90" height="0.90"/><rect x="376.98" y="63.34" width="0.90" height="0.90"/><rect x="370.86" y="66.25" width="0.90" height="0.90"/><rect x="385.22" y="63.72" width="0.90" height="0.90"/><rect x="380.74" y="62.23" width="0.90" height="0.90"/><rect x="379.07" y="60.51" width="0.90" height="0.90"/><rect x="379.82" y="64.46" width="0.90" height="0.90"/><rect x="379.44" y="62.52" width="0.90" height="0.90"/><rect x="370.49" y="63.91" width="0.90" height="0.90"/><rect x="383.77" y="73.45" width="0.90" height="0.90"/><rect x="375.60" y="69.55" width="0.90" height="0.90"/><rect x="382.10" y="67.51" width="0.90" height="0.90"/><rect x="368.24" y="67.17" width="0.90" height="0.90"/><rect x="371.73" y="71.43" width="0.90" height="0.90"/><rect x="382.28" y="68.64" width="0.90" height="0.90"/><rect x="381.75" y="59.16" width="0.90" height="0.90"/><rect x="383.37" y="65.93" width="0.90" height="0.90"/><rect x="376.45" y="61.98" width="0.90" height="0.90"/><rect x="371.44" y="63.38" width="0.90" height="0.90"/><rect x="396.07" y="66.57" width="0.90" height="0.90"/><rect x="378.80" y="62.31" width="0.90" height="0.90"/><rect x="373.84" y="62.79" width="0.90" height="0.90"/><rect x="372.23" y="69.93" width="0.90" height="0.90"/><rect x="375.93" y="69.88" width="0.90" height="0.90"/><rect x="370.62" y="70.20" width="0.90" height="0.90"/><rect x="377.39" y="68.89" width="0.90" height="0.90"/><rect x="376.93" y="61.11" width="0.90" height="0.90"/><rect x="384.81" y="63.37" width="0.90" height="0.90"/><rect x="376.67" y="61.12" width="0.90" height="0.90"/><rect x="378.78" y="63.60" width="0.90" height="0.90"/><rect x="379.24" y="67.27" width="0.90" height="0.90"/><rect x="373.42" y="58.50" width="0.90" height="0.90"/><rect x="380.15" y="70.14" width="0.90" height="0.90"/><rect x="381.73" y="59.82" width="0.90" height="0.90"/><rect x="381.18" y="67.47" width="0.90" height="0.90"/><rect x="379.25" y="67.70" width="0.90" height="0.90"/><rect x="375.61" y="66.62" width="0.90" height="0.90"/><rect x="383.11" y="63.03" width="0.90" height="0.90"/><rect x="368.91" y="65.03" width="0.90" height="0.90"/><rect x="373.49" y="68.50" width="0.90" height="0.90"/><rect x="376.65" y="66.01" width="0.90" height="0.90"/><rect x="369.99" y="70.08" width="0.90" height="0.90"/><rect x="388.08" y="64.55" width="0.90" height="0.90"/><rect x="373.16" y="59.76" width="0.90" height="0.90"/><rect x="382.89" y="66.07" width="0.90" height="0.90"/><rect x="372.78" y="71.62" width="0.90" height="0.90"/><rect x="382.14" y="68.57" width="0.90" height="0.90"/><rect x="381.30" y="59.43" width="0.90" height="0.90"/><rect x="383.12" y="72.70" width="0.90" height="0.90"/><rect x="383.75" y="61.94" width="0.90" height="0.90"/><rect x="373.30" y="70.26" width="0.90" height="0.90"/><rect x="383.52" y="71.70" width="0.90" height="0.90"/><rect x="384.75" y="65.05" width="0.90" height="0.90"/><rect x="382.25" y="76.93" width="0.90" height="0.90"/><rect x="374.77" y="63.17" width="0.90" height="0.90"/><rect x="381.44" y="67.42" width="0.90" height="0.90"/><rect x="369.33" y="61.98" width="0.90" height="0.90"/><rect x="370.96" y="75.66" width="0.90" height="0.90"/><rect x="373.25" y="69.82" width="0.90" height="0.90"/><rect x="389.06" y="75.02" width="0.90" height="0.90"/><rect x="386.10" y="73.70" width="0.90" height="0.90"/><rect x="370.14" y="63.82" width="0.90" height="0.90"/><rect x="373.18" y="64.10" width="0.90" height="0.90"/><rect x="380.90" y="59.37" width="0.90" height="0.90"/><rect x="385.58" y="72.05" width="0.90" height="0.90"/><rect x="374.48" y="75.90" width="0.90" height="0.90"/><rect x="378.00" y="72.07" width="0.90" height="0.90"/></g>
<g clip-path="url(#cpT)">
<path d="M365.5,40 L371,40.5 L374,46 L383,52 L384,56 L376,62 L372,69.5 L365.5,70.5 Z" fill="#2030f8" filter="url(#bl2)" opacity="0.92"/>
<path d="M366,45.5 L370.3,46.5 L372.3,49.5 L378.5,53.5 L376.5,57 L370.8,61.5 L369.8,66 L366,66.5 Z" fill="#1c8cf4" filter="url(#bl2)"/>
<path d="M366.6,47.5 L369.8,48.2 L371.5,51 L376.2,53.2 L375,55.5 L370.3,58.5 L369.8,64.5 L366.6,64.8 Z" fill="#3ad04c" filter="url(#bl05)"/>
<ellipse cx="368.5" cy="57.2" rx="1.55" ry="6.0" fill="#f0ea20" filter="url(#bl05)"/>
<ellipse cx="368.6" cy="57.0" rx="1.05" ry="3.3" fill="#f06010" filter="url(#bl05)"/>
<ellipse cx="368.6" cy="57.0" rx="0.7" ry="2.0" fill="#e01010" filter="url(#bl05)"/>
</g>
<g fill="#3040ff" opacity="0.6"><rect x="367.85" y="76.48" width="0.90" height="0.90"/><rect x="366.74" y="77.72" width="0.90" height="0.90"/><rect x="368.34" y="78.40" width="0.90" height="0.90"/><rect x="371.13" y="77.51" width="0.90" height="0.90"/><rect x="366.60" y="76.04" width="0.90" height="0.90"/><rect x="366.11" y="74.02" width="0.90" height="0.90"/><rect x="365.77" y="80.59" width="0.90" height="0.90"/><rect x="367.45" y="77.57" width="0.90" height="0.90"/><rect x="367.91" y="81.04" width="0.90" height="0.90"/><rect x="368.33" y="80.21" width="0.90" height="0.90"/><rect x="366.45" y="77.32" width="0.90" height="0.90"/><rect x="366.11" y="77.78" width="0.90" height="0.90"/><rect x="366.04" y="77.01" width="0.90" height="0.90"/><rect x="367.07" y="77.45" width="0.90" height="0.90"/><rect x="366.92" y="76.67" width="0.90" height="0.90"/><rect x="369.45" y="77.09" width="0.90" height="0.90"/><rect x="365.73" y="78.59" width="0.90" height="0.90"/><rect x="365.61" y="75.05" width="0.90" height="0.90"/><rect x="367.48" y="73.38" width="0.90" height="0.90"/><rect x="369.01" y="73.37" width="0.90" height="0.90"/><rect x="365.91" y="79.67" width="0.90" height="0.90"/><rect x="364.17" y="75.60" width="0.90" height="0.90"/><rect x="365.42" y="77.49" width="0.90" height="0.90"/><rect x="364.19" y="80.56" width="0.90" height="0.90"/><rect x="367.12" y="78.90" width="0.90" height="0.90"/><rect x="367.11" y="74.30" width="0.90" height="0.90"/><rect x="367.37" y="75.66" width="0.90" height="0.90"/><rect x="366.84" y="77.46" width="0.90" height="0.90"/><rect x="368.59" y="80.20" width="0.90" height="0.90"/><rect x="365.74" y="78.00" width="0.90" height="0.90"/><rect x="369.69" y="79.43" width="0.90" height="0.90"/><rect x="366.18" y="77.71" width="0.90" height="0.90"/><rect x="366.79" y="80.69" width="0.90" height="0.90"/><rect x="367.40" y="79.10" width="0.90" height="0.90"/><rect x="370.89" y="74.19" width="0.90" height="0.90"/></g>
<ellipse cx="367.9" cy="80.6" rx="1.3" ry="1.5" fill="#2434f0" filter="url(#bl05)" opacity="0.95"/>
<rect x="362.30" y="72.30" width="11.20" height="12.20" fill="none" stroke="#808080" stroke-width="0.8"/>
<text x="367.75" y="92.60" font-size="7.0" text-anchor="middle" fill="#151515" textLength="12.00" lengthAdjust="spacingAndGlyphs" stroke="#151515" stroke-width="0.15">0.86</text>
<line x1="377.90" y1="81.70" x2="447.50" y2="81.70" stroke="#000" stroke-width="1.35"/>
<path d="M446.2,79.5 L451.2,81.7 L446.2,83.9 Z" fill="#000"/>
<rect x="349.5" y="81.3" width="1.5" height="2.4" fill="#111"/>
<rect x="439.5" y="82.2" width="1.5" height="2.4" fill="#111"/>
<rect x="455.8" y="99.6" width="3.3" height="1.2" fill="#111"/>
<rect x="364" y="98.8" width="7.2" height="1.6" fill="#000" opacity="0.85"/>
<rect x="351.40" y="114.00" width="70.90" height="70.60" fill="none" stroke="#a8a8a8" stroke-width="1"/>
<line x1="351.40" y1="114.00" x2="351.40" y2="184.60" stroke="#555" stroke-width="1.0"/>
<line x1="351.40" y1="184.60" x2="422.30" y2="184.60" stroke="#666" stroke-width="1.0"/>
<line x1="350.20" y1="132.72" x2="351.40" y2="132.72" stroke="#444" stroke-width="0.8"/>
<line x1="350.20" y1="129.69" x2="351.40" y2="129.69" stroke="#444" stroke-width="0.8"/>
<line x1="350.20" y1="127.54" x2="351.40" y2="127.54" stroke="#444" stroke-width="0.8"/>
<line x1="350.20" y1="125.88" x2="351.40" y2="125.88" stroke="#444" stroke-width="0.8"/>
<line x1="350.20" y1="124.52" x2="351.40" y2="124.52" stroke="#444" stroke-width="0.8"/>
<line x1="350.20" y1="123.36" x2="351.40" y2="123.36" stroke="#444" stroke-width="0.8"/>
<line x1="350.20" y1="122.37" x2="351.40" y2="122.37" stroke="#444" stroke-width="0.8"/>
<line x1="350.20" y1="121.49" x2="351.40" y2="121.49" stroke="#444" stroke-width="0.8"/>
<line x1="350.20" y1="151.18" x2="351.40" y2="151.18" stroke="#444" stroke-width="0.8"/>
<line x1="350.20" y1="147.83" x2="351.40" y2="147.83" stroke="#444" stroke-width="0.8"/>
<line x1="350.20" y1="145.46" x2="351.40" y2="145.46" stroke="#444" stroke-width="0.8"/>
<line x1="350.20" y1="143.62" x2="351.40" y2="143.62" stroke="#444" stroke-width="0.8"/>
<line x1="350.20" y1="142.12" x2="351.40" y2="142.12" stroke="#444" stroke-width="0.8"/>
<line x1="350.20" y1="140.84" x2="351.40" y2="140.84" stroke="#444" stroke-width="0.8"/>
<line x1="350.20" y1="139.74" x2="351.40" y2="139.74" stroke="#444" stroke-width="0.8"/>
<line x1="350.20" y1="138.77" x2="351.40" y2="138.77" stroke="#444" stroke-width="0.8"/>
<line x1="349.20" y1="120.70" x2="351.40" y2="120.70" stroke="#444" stroke-width="0.8"/>
<line x1="349.20" y1="137.90" x2="351.40" y2="137.90" stroke="#444" stroke-width="0.8"/>
<line x1="349.20" y1="156.90" x2="351.40" y2="156.90" stroke="#444" stroke-width="0.8"/>
<line x1="349.20" y1="168.30" x2="351.40" y2="168.30" stroke="#444" stroke-width="0.8"/>
<line x1="349.20" y1="179.50" x2="351.40" y2="179.50" stroke="#444" stroke-width="0.8"/>
<line x1="350.20" y1="174.00" x2="351.40" y2="174.00" stroke="#444" stroke-width="0.8"/>
<line x1="350.20" y1="162.50" x2="351.40" y2="162.50" stroke="#444" stroke-width="0.8"/>
<line x1="367.30" y1="184.60" x2="367.30" y2="186.80" stroke="#444" stroke-width="0.8"/>
<line x1="388.60" y1="184.60" x2="388.60" y2="186.80" stroke="#444" stroke-width="0.8"/>
<line x1="412.00" y1="184.60" x2="412.00" y2="186.80" stroke="#444" stroke-width="0.8"/>
<line x1="360.00" y1="184.60" x2="360.00" y2="185.80" stroke="#444" stroke-width="0.8"/>
<line x1="374.00" y1="184.60" x2="374.00" y2="185.80" stroke="#444" stroke-width="0.8"/>
<line x1="379.00" y1="184.60" x2="379.00" y2="185.80" stroke="#444" stroke-width="0.8"/>
<line x1="383.00" y1="184.60" x2="383.00" y2="185.80" stroke="#444" stroke-width="0.8"/>
<line x1="395.00" y1="184.60" x2="395.00" y2="185.80" stroke="#444" stroke-width="0.8"/>
<line x1="400.00" y1="184.60" x2="400.00" y2="185.80" stroke="#444" stroke-width="0.8"/>
<line x1="404.00" y1="184.60" x2="404.00" y2="185.80" stroke="#444" stroke-width="0.8"/>
<line x1="417.00" y1="184.60" x2="417.00" y2="185.80" stroke="#444" stroke-width="0.8"/>
<text x="346.10" y="120.24" font-size="3.4" text-anchor="end" fill="#151515" textLength="1.90" lengthAdjust="spacingAndGlyphs" stroke="#151515" stroke-width="0.06">5</text>
<text x="344.10" y="122.74" font-size="5.7" text-anchor="end" fill="#151515" textLength="6.40" lengthAdjust="spacingAndGlyphs" stroke="#151515" stroke-width="0.2">10</text>
<text x="346.10" y="137.44" font-size="3.4" text-anchor="end" fill="#151515" textLength="1.90" lengthAdjust="spacingAndGlyphs" stroke="#151515" stroke-width="0.06">4</text>
<text x="344.10" y="139.94" font-size="5.7" text-anchor="end" fill="#151515" textLength="6.40" lengthAdjust="spacingAndGlyphs" stroke="#151515" stroke-width="0.2">10</text>
<text x="346.10" y="156.44" font-size="3.4" text-anchor="end" fill="#151515" textLength="1.90" lengthAdjust="spacingAndGlyphs" stroke="#151515" stroke-width="0.06">3</text>
<text x="344.10" y="158.94" font-size="5.7" text-anchor="end" fill="#151515" textLength="6.40" lengthAdjust="spacingAndGlyphs" stroke="#151515" stroke-width="0.2">10</text>
<text x="346.10" y="170.54" font-size="5.7" text-anchor="end" fill="#151515" stroke="#151515" stroke-width="0.2">0</text>
<text x="346.10" y="179.04" font-size="3.4" text-anchor="end" fill="#151515" textLength="1.90" lengthAdjust="spacingAndGlyphs" stroke="#151515" stroke-width="0.06">3</text>
<text x="344.10" y="181.54" font-size="5.7" text-anchor="end" fill="#151515" textLength="8.60" lengthAdjust="spacingAndGlyphs" stroke="#151515" stroke-width="0.2">-10</text>
<text x="367.30" y="194.84" font-size="5.7" text-anchor="middle" fill="#151515" stroke="#151515" stroke-width="0.2">0</text>
<text x="384.40" y="194.84" font-size="5.7" text-anchor="start" fill="#151515" textLength="6.40" lengthAdjust="spacingAndGlyphs" stroke="#151515" stroke-width="0.2">10</text>
<text x="390.90" y="192.34" font-size="3.4" text-anchor="start" fill="#151515" textLength="1.90" lengthAdjust="spacingAndGlyphs" stroke="#151515" stroke-width="0.06">3</text>
<text x="407.80" y="194.84" font-size="5.7" text-anchor="start" fill="#151515" textLength="6.40" lengthAdjust="spacingAndGlyphs" stroke="#151515" stroke-width="0.2">10</text>
<text x="414.30" y="192.34" font-size="3.4" text-anchor="start" fill="#151515" textLength="1.90" lengthAdjust="spacingAndGlyphs" stroke="#151515" stroke-width="0.06">4</text>
<text transform="translate(328.60,172.21) rotate(-90) scale(0.9236,1)" font-size="8.70" fill="#111" stroke="#111" stroke-width="0.180">BM +T cells</text>
<g fill="#3040ff" opacity="0.55"><rect x="367.66" y="135.21" width="0.90" height="0.90"/><rect x="373.88" y="139.58" width="0.90" height="0.90"/><rect x="367.68" y="153.47" width="0.90" height="0.90"/><rect x="366.58" y="128.95" width="0.90" height="0.90"/><rect x="372.34" y="145.87" width="0.90" height="0.90"/><rect x="374.74" y="153.87" width="0.90" height="0.90"/><rect x="377.67" y="144.39" width="0.90" height="0.90"/><rect x="375.85" y="144.56" width="0.90" height="0.90"/><rect x="366.40" y="146.01" width="0.90" height="0.90"/><rect x="369.58" y="137.75" width="0.90" height="0.90"/><rect x="379.35" y="145.67" width="0.90" height="0.90"/><rect x="366.87" y="138.85" width="0.90" height="0.90"/><rect x="381.12" y="137.49" width="0.90" height="0.90"/><rect x="373.04" y="144.50" width="0.90" height="0.90"/><rect x="371.91" y="144.25" width="0.90" height="0.90"/><rect x="366.89" y="135.75" width="0.90" height="0.90"/><rect x="368.52" y="136.60" width="0.90" height="0.90"/><rect x="373.42" y="152.00" width="0.90" height="0.90"/><rect x="368.12" y="140.37" width="0.90" height="0.90"/><rect x="376.35" y="137.30" width="0.90" height="0.90"/><rect x="366.11" y="145.02" width="0.90" height="0.90"/><rect x="366.30" y="127.91" width="0.90" height="0.90"/><rect x="371.81" y="142.89" width="0.90" height="0.90"/><rect x="365.14" y="146.30" width="0.90" height="0.90"/><rect x="371.22" y="130.29" width="0.90" height="0.90"/><rect x="378.20" y="141.67" width="0.90" height="0.90"/><rect x="369.97" y="147.37" width="0.90" height="0.90"/><rect x="374.10" y="145.13" width="0.90" height="0.90"/><rect x="372.42" y="150.15" width="0.90" height="0.90"/><rect x="372.97" y="140.53" width="0.90" height="0.90"/><rect x="365.08" y="148.50" width="0.90" height="0.90"/><rect x="374.30" y="141.90" width="0.90" height="0.90"/><rect x="370.09" y="145.34" width="0.90" height="0.90"/><rect x="374.67" y="154.84" width="0.90" height="0.90"/><rect x="366.92" y="142.95" width="0.90" height="0.90"/><rect x="373.00" y="139.32" width="0.90" height="0.90"/><rect x="369.64" y="131.79" width="0.90" height="0.90"/><rect x="369.08" y="140.10" width="0.90" height="0.90"/><rect x="375.78" y="141.82" width="0.90" height="0.90"/><rect x="386.98" y="136.12" width="0.90" height="0.90"/><rect x="367.95" y="139.01" width="0.90" height="0.90"/><rect x="365.18" y="151.69" width="0.90" height="0.90"/><rect x="372.57" y="129.11" width="0.90" height="0.90"/><rect x="369.84" y="148.76" width="0.90" height="0.90"/><rect x="368.09" y="158.36" width="0.90" height="0.90"/><rect x="371.39" y="136.12" width="0.90" height="0.90"/><rect x="366.44" y="154.76" width="0.90" height="0.90"/><rect x="366.93" y="157.95" width="0.90" height="0.90"/><rect x="368.08" y="133.72" width="0.90" height="0.90"/><rect x="368.21" y="145.04" width="0.90" height="0.90"/><rect x="365.92" y="127.80" width="0.90" height="0.90"/><rect x="376.11" y="151.34" width="0.90" height="0.90"/><rect x="365.79" y="141.90" width="0.90" height="0.90"/><rect x="380.25" y="129.19" width="0.90" height="0.90"/><rect x="369.39" y="130.75" width="0.90" height="0.90"/><rect x="370.66" y="128.83" width="0.90" height="0.90"/><rect x="366.29" y="145.33" width="0.90" height="0.90"/><rect x="368.48" y="128.79" width="0.90" height="0.90"/><rect x="376.87" y="140.40" width="0.90" height="0.90"/><rect x="376.41" y="130.92" width="0.90" height="0.90"/><rect x="377.83" y="128.49" width="0.90" height="0.90"/><rect x="367.40" y="141.55" width="0.90" height="0.90"/><rect x="366.44" y="144.57" width="0.90" height="0.90"/><rect x="376.05" y="134.12" width="0.90" height="0.90"/><rect x="373.43" y="146.03" width="0.90" height="0.90"/><rect x="367.52" y="131.42" width="0.90" height="0.90"/><rect x="369.19" y="147.22" width="0.90" height="0.90"/><rect x="365.66" y="149.94" width="0.90" height="0.90"/><rect x="370.42" y="141.76" width="0.90" height="0.90"/><rect x="366.10" y="150.45" width="0.90" height="0.90"/><rect x="369.49" y="127.33" width="0.90" height="0.90"/><rect x="373.42" y="136.01" width="0.90" height="0.90"/><rect x="374.73" y="140.77" width="0.90" height="0.90"/><rect x="366.10" y="140.79" width="0.90" height="0.90"/><rect x="366.78" y="132.70" width="0.90" height="0.90"/><rect x="369.38" y="146.16" width="0.90" height="0.90"/><rect x="369.63" y="138.71" width="0.90" height="0.90"/><rect x="366.46" y="144.04" width="0.90" height="0.90"/><rect x="370.65" y="147.17" width="0.90" height="0.90"/><rect x="371.12" y="156.67" width="0.90" height="0.90"/><rect x="371.97" y="146.67" width="0.90" height="0.90"/><rect x="369.05" y="147.93" width="0.90" height="0.90"/><rect x="374.83" y="127.11" width="0.90" height="0.90"/><rect x="369.93" y="148.89" width="0.90" height="0.90"/><rect x="369.41" y="131.05" width="0.90" height="0.90"/><rect x="365.63" y="128.59" width="0.90" height="0.90"/><rect x="375.31" y="137.30" width="0.90" height="0.90"/><rect x="367.09" y="132.31" width="0.90" height="0.90"/><rect x="368.56" y="132.04" width="0.90" height="0.90"/><rect x="368.10" y="143.10" width="0.90" height="0.90"/><rect x="370.00" y="148.96" width="0.90" height="0.90"/><rect x="369.03" y="141.50" width="0.90" height="0.90"/><rect x="370.41" y="132.86" width="0.90" height="0.90"/><rect x="375.27" y="134.83" width="0.90" height="0.90"/><rect x="372.56" y="134.81" width="0.90" height="0.90"/><rect x="374.08" y="147.19" width="0.90" height="0.90"/><rect x="372.82" y="129.90" width="0.90" height="0.90"/><rect x="370.15" y="130.99" width="0.90" height="0.90"/><rect x="366.16" y="134.83" width="0.90" height="0.90"/><rect x="364.98" y="143.37" width="0.90" height="0.90"/><rect x="365.27" y="144.41" width="0.90" height="0.90"/><rect x="370.12" y="134.48" width="0.90" height="0.90"/><rect x="370.12" y="144.94" width="0.90" height="0.90"/><rect x="375.03" y="137.29" width="0.90" height="0.90"/><rect x="378.03" y="144.01" width="0.90" height="0.90"/><rect x="375.55" y="128.46" width="0.90" height="0.90"/><rect x="368.12" y="143.14" width="0.90" height="0.90"/><rect x="375.32" y="127.71" width="0.90" height="0.90"/><rect x="371.53" y="155.03" width="0.90" height="0.90"/><rect x="373.29" y="140.11" width="0.90" height="0.90"/><rect x="372.10" y="139.45" width="0.90" height="0.90"/><rect x="373.16" y="149.90" width="0.90" height="0.90"/><rect x="368.11" y="144.02" width="0.90" height="0.90"/><rect x="370.79" y="145.38" width="0.90" height="0.90"/><rect x="373.48" y="130.72" width="0.90" height="0.90"/><rect x="375.13" y="146.34" width="0.90" height="0.90"/><rect x="370.91" y="130.04" width="0.90" height="0.90"/><rect x="365.35" y="132.29" width="0.90" height="0.90"/><rect x="365.75" y="133.13" width="0.90" height="0.90"/><rect x="368.17" y="132.74" width="0.90" height="0.90"/><rect x="374.23" y="134.82" width="0.90" height="0.90"/><rect x="373.76" y="129.39" width="0.90" height="0.90"/><rect x="376.34" y="135.77" width="0.90" height="0.90"/><rect x="370.45" y="135.48" width="0.90" height="0.90"/><rect x="371.26" y="140.51" width="0.90" height="0.90"/><rect x="370.52" y="140.43" width="0.90" height="0.90"/><rect x="372.83" y="139.37" width="0.90" height="0.90"/><rect x="374.81" y="146.99" width="0.90" height="0.90"/><rect x="377.08" y="135.79" width="0.90" height="0.90"/><rect x="370.18" y="138.46" width="0.90" height="0.90"/><rect x="370.63" y="157.14" width="0.90" height="0.90"/><rect x="365.69" y="139.89" width="0.90" height="0.90"/><rect x="369.27" y="130.66" width="0.90" height="0.90"/><rect x="364.85" y="137.19" width="0.90" height="0.90"/><rect x="369.16" y="142.46" width="0.90" height="0.90"/><rect x="377.53" y="137.92" width="0.90" height="0.90"/><rect x="373.38" y="135.97" width="0.90" height="0.90"/><rect x="365.67" y="156.36" width="0.90" height="0.90"/><rect x="372.64" y="139.50" width="0.90" height="0.90"/><rect x="372.91" y="127.09" width="0.90" height="0.90"/><rect x="366.43" y="145.68" width="0.90" height="0.90"/><rect x="365.77" y="139.55" width="0.90" height="0.90"/><rect x="366.71" y="143.47" width="0.90" height="0.90"/><rect x="373.41" y="146.19" width="0.90" height="0.90"/><rect x="376.95" y="135.15" width="0.90" height="0.90"/><rect x="368.98" y="147.38" width="0.90" height="0.90"/><rect x="375.59" y="146.89" width="0.90" height="0.90"/><rect x="366.97" y="135.42" width="0.90" height="0.90"/><rect x="367.33" y="146.02" width="0.90" height="0.90"/><rect x="373.53" y="138.94" width="0.90" height="0.90"/><rect x="371.40" y="146.21" width="0.90" height="0.90"/><rect x="370.28" y="145.83" width="0.90" height="0.90"/><rect x="365.93" y="144.55" width="0.90" height="0.90"/><rect x="372.93" y="136.50" width="0.90" height="0.90"/><rect x="365.43" y="149.23" width="0.90" height="0.90"/><rect x="367.88" y="136.55" width="0.90" height="0.90"/><rect x="367.96" y="135.79" width="0.90" height="0.90"/><rect x="369.04" y="153.62" width="0.90" height="0.90"/><rect x="376.52" y="138.26" width="0.90" height="0.90"/><rect x="371.59" y="146.62" width="0.90" height="0.90"/><rect x="367.10" y="154.07" width="0.90" height="0.90"/><rect x="369.40" y="144.31" width="0.90" height="0.90"/><rect x="374.41" y="136.80" width="0.90" height="0.90"/><rect x="373.65" y="135.98" width="0.90" height="0.90"/><rect x="367.24" y="126.02" width="0.90" height="0.90"/><rect x="369.46" y="148.80" width="0.90" height="0.90"/><rect x="368.18" y="129.71" width="0.90" height="0.90"/><rect x="365.43" y="129.61" width="0.90" height="0.90"/><rect x="368.01" y="131.74" width="0.90" height="0.90"/><rect x="368.66" y="140.73" width="0.90" height="0.90"/><rect x="375.87" y="130.07" width="0.90" height="0.90"/><rect x="371.39" y="136.41" width="0.90" height="0.90"/><rect x="371.76" y="131.90" width="0.90" height="0.90"/><rect x="367.53" y="144.75" width="0.90" height="0.90"/><rect x="367.65" y="140.39" width="0.90" height="0.90"/><rect x="371.42" y="140.29" width="0.90" height="0.90"/><rect x="368.02" y="143.45" width="0.90" height="0.90"/><rect x="375.86" y="149.52" width="0.90" height="0.90"/><rect x="371.24" y="143.62" width="0.90" height="0.90"/><rect x="376.06" y="125.56" width="0.90" height="0.90"/><rect x="374.63" y="134.97" width="0.90" height="0.90"/><rect x="366.88" y="142.89" width="0.90" height="0.90"/><rect x="376.26" y="131.80" width="0.90" height="0.90"/><rect x="368.63" y="148.91" width="0.90" height="0.90"/><rect x="371.05" y="136.92" width="0.90" height="0.90"/><rect x="366.68" y="135.61" width="0.90" height="0.90"/><rect x="374.06" y="126.02" width="0.90" height="0.90"/><rect x="365.75" y="132.32" width="0.90" height="0.90"/><rect x="374.83" y="140.31" width="0.90" height="0.90"/><rect x="365.85" y="145.31" width="0.90" height="0.90"/></g>
<g fill="#3040ff" opacity="0.5"><rect x="385.48" y="143.30" width="0.90" height="0.90"/><rect x="367.55" y="137.75" width="0.90" height="0.90"/><rect x="380.97" y="130.54" width="0.90" height="0.90"/><rect x="367.99" y="136.82" width="0.90" height="0.90"/><rect x="377.59" y="134.99" width="0.90" height="0.90"/><rect x="375.54" y="137.96" width="0.90" height="0.90"/><rect x="376.48" y="133.27" width="0.90" height="0.90"/><rect x="375.61" y="143.07" width="0.90" height="0.90"/><rect x="377.35" y="131.45" width="0.90" height="0.90"/><rect x="369.65" y="130.41" width="0.90" height="0.90"/><rect x="371.48" y="135.09" width="0.90" height="0.90"/><rect x="374.03" y="140.36" width="0.90" height="0.90"/><rect x="375.71" y="139.48" width="0.90" height="0.90"/><rect x="377.54" y="138.17" width="0.90" height="0.90"/><rect x="372.19" y="137.10" width="0.90" height="0.90"/><rect x="381.18" y="137.38" width="0.90" height="0.90"/><rect x="379.11" y="146.10" width="0.90" height="0.90"/><rect x="384.24" y="128.98" width="0.90" height="0.90"/><rect x="375.48" y="143.05" width="0.90" height="0.90"/><rect x="372.17" y="135.44" width="0.90" height="0.90"/><rect x="366.80" y="135.60" width="0.90" height="0.90"/><rect x="374.65" y="130.16" width="0.90" height="0.90"/><rect x="374.58" y="134.86" width="0.90" height="0.90"/><rect x="374.75" y="133.75" width="0.90" height="0.90"/><rect x="375.10" y="139.36" width="0.90" height="0.90"/><rect x="370.83" y="135.61" width="0.90" height="0.90"/><rect x="379.85" y="141.46" width="0.90" height="0.90"/><rect x="370.35" y="140.58" width="0.90" height="0.90"/><rect x="368.29" y="136.29" width="0.90" height="0.90"/><rect x="378.38" y="136.41" width="0.90" height="0.90"/><rect x="377.87" y="135.73" width="0.90" height="0.90"/><rect x="376.30" y="137.95" width="0.90" height="0.90"/><rect x="369.26" y="148.04" width="0.90" height="0.90"/><rect x="370.00" y="132.57" width="0.90" height="0.90"/><rect x="375.34" y="140.75" width="0.90" height="0.90"/><rect x="376.52" y="138.13" width="0.90" height="0.90"/><rect x="377.19" y="142.81" width="0.90" height="0.90"/><rect x="378.04" y="132.40" width="0.90" height="0.90"/><rect x="384.11" y="138.47" width="0.90" height="0.90"/><rect x="373.82" y="139.89" width="0.90" height="0.90"/><rect x="385.54" y="136.21" width="0.90" height="0.90"/><rect x="371.19" y="134.20" width="0.90" height="0.90"/><rect x="375.66" y="141.58" width="0.90" height="0.90"/><rect x="376.78" y="139.37" width="0.90" height="0.90"/><rect x="380.57" y="136.32" width="0.90" height="0.90"/><rect x="371.69" y="134.07" width="0.90" height="0.90"/><rect x="375.96" y="131.60" width="0.90" height="0.90"/><rect x="385.13" y="137.72" width="0.90" height="0.90"/><rect x="371.34" y="133.14" width="0.90" height="0.90"/><rect x="377.59" y="142.98" width="0.90" height="0.90"/></g>
<g clip-path="url(#cpB)">
<path d="M365.5,125.5 L370,125 L372,132 L378.5,138.5 L377,142 L372,146 L371,152 L365.5,152.5 Z" fill="#2030f8" filter="url(#bl2)" opacity="0.9"/>
<path d="M366,133 L370.3,133.5 L373.5,138.2 L372,143 L370.3,146.5 L366,146.8 Z" fill="#1c8cf4" filter="url(#bl2)"/>
<path d="M366.5,135.3 L370,135.6 L372,139.5 L370.4,144 L366.5,144.5 Z" fill="#3ad04c" filter="url(#bl05)"/>
<ellipse cx="368.6" cy="140.1" rx="1.5" ry="3.0" fill="#f0ea20" filter="url(#bl05)"/>
<ellipse cx="368.5" cy="140.2" rx="0.9" ry="1.8" fill="#e82010" filter="url(#bl05)"/>
</g>
<g fill="#4a58ff" opacity="0.55"><rect x="366.23" y="164.57" width="0.90" height="0.90"/><rect x="367.51" y="166.80" width="0.90" height="0.90"/><rect x="367.99" y="167.55" width="0.90" height="0.90"/><rect x="366.32" y="160.96" width="0.90" height="0.90"/><rect x="365.68" y="165.18" width="0.90" height="0.90"/><rect x="368.91" y="161.95" width="0.90" height="0.90"/><rect x="366.56" y="162.79" width="0.90" height="0.90"/><rect x="366.17" y="163.61" width="0.90" height="0.90"/><rect x="366.15" y="167.38" width="0.90" height="0.90"/><rect x="367.58" y="165.84" width="0.90" height="0.90"/><rect x="366.84" y="160.85" width="0.90" height="0.90"/><rect x="367.73" y="163.00" width="0.90" height="0.90"/><rect x="370.06" y="167.54" width="0.90" height="0.90"/><rect x="365.26" y="161.33" width="0.90" height="0.90"/><rect x="366.25" y="163.50" width="0.90" height="0.90"/><rect x="368.79" y="163.59" width="0.90" height="0.90"/><rect x="367.76" y="163.20" width="0.90" height="0.90"/><rect x="366.75" y="167.54" width="0.90" height="0.90"/><rect x="367.10" y="169.60" width="0.90" height="0.90"/><rect x="367.01" y="165.18" width="0.90" height="0.90"/><rect x="367.67" y="165.96" width="0.90" height="0.90"/><rect x="369.96" y="162.20" width="0.90" height="0.90"/><rect x="366.28" y="161.47" width="0.90" height="0.90"/><rect x="369.79" y="165.41" width="0.90" height="0.90"/><rect x="367.75" y="165.38" width="0.90" height="0.90"/></g>
<rect x="361.60" y="157.90" width="11.90" height="12.60" fill="none" stroke="#808080" stroke-width="0.8"/>
<text x="367.40" y="178.90" font-size="7.0" text-anchor="middle" fill="#151515" textLength="11.80" lengthAdjust="spacingAndGlyphs" stroke="#151515" stroke-width="0.15">1.25</text>
<line x1="377.90" y1="168.80" x2="447.00" y2="168.80" stroke="#000" stroke-width="1.35"/>
<path d="M445.6,166.6 L450.6,168.8 L445.6,171.0 Z" fill="#000"/>
<rect x="349.5" y="167.5" width="1.5" height="2.4" fill="#111"/>
<rect x="439.5" y="168.3" width="1.5" height="2.4" fill="#111"/>
<rect x="455.8" y="184.6" width="3.3" height="1.2" fill="#111"/>
<rect x="364" y="184.6" width="7.2" height="1.6" fill="#000" opacity="0.85"/>
<rect x="441.30" y="29.20" width="70.90" height="70.40" fill="none" stroke="#a8a8a8" stroke-width="1"/>
<line x1="441.30" y1="29.20" x2="441.30" y2="99.60" stroke="#888" stroke-width="1.0"/>
<line x1="441.30" y1="99.60" x2="512.20" y2="99.60" stroke="#666" stroke-width="1.0"/>
<line x1="440.10" y1="47.94" x2="441.30" y2="47.94" stroke="#444" stroke-width="0.8"/>
<line x1="440.10" y1="44.98" x2="441.30" y2="44.98" stroke="#444" stroke-width="0.8"/>
<line x1="440.10" y1="42.89" x2="441.30" y2="42.89" stroke="#444" stroke-width="0.8"/>
<line x1="440.10" y1="41.26" x2="441.30" y2="41.26" stroke="#444" stroke-width="0.8"/>
<line x1="440.10" y1="39.93" x2="441.30" y2="39.93" stroke="#444" stroke-width="0.8"/>
<line x1="440.10" y1="38.80" x2="441.30" y2="38.80" stroke="#444" stroke-width="0.8"/>
<line x1="440.10" y1="37.83" x2="441.30" y2="37.83" stroke="#444" stroke-width="0.8"/>
<line x1="440.10" y1="36.97" x2="441.30" y2="36.97" stroke="#444" stroke-width="0.8"/>
<line x1="440.10" y1="66.28" x2="441.30" y2="66.28" stroke="#444" stroke-width="0.8"/>
<line x1="440.10" y1="62.93" x2="441.30" y2="62.93" stroke="#444" stroke-width="0.8"/>
<line x1="440.10" y1="60.56" x2="441.30" y2="60.56" stroke="#444" stroke-width="0.8"/>
<line x1="440.10" y1="58.72" x2="441.30" y2="58.72" stroke="#444" stroke-width="0.8"/>
<line x1="440.10" y1="57.22" x2="441.30" y2="57.22" stroke="#444" stroke-width="0.8"/>
<line x1="440.10" y1="55.94" x2="441.30" y2="55.94" stroke="#444" stroke-width="0.8"/>
<line x1="440.10" y1="54.84" x2="441.30" y2="54.84" stroke="#444" stroke-width="0.8"/>
<line x1="440.10" y1="53.87" x2="441.30" y2="53.87" stroke="#444" stroke-width="0.8"/>
<line x1="439.10" y1="36.20" x2="441.30" y2="36.20" stroke="#444" stroke-width="0.8"/>
<line x1="439.10" y1="53.00" x2="441.30" y2="53.00" stroke="#444" stroke-width="0.8"/>
<line x1="439.10" y1="72.00" x2="441.30" y2="72.00" stroke="#444" stroke-width="0.8"/>
<line x1="439.10" y1="82.80" x2="441.30" y2="82.80" stroke="#444" stroke-width="0.8"/>
<line x1="439.10" y1="95.00" x2="441.30" y2="95.00" stroke="#444" stroke-width="0.8"/>
<line x1="440.10" y1="89.00" x2="441.30" y2="89.00" stroke="#444" stroke-width="0.8"/>
<line x1="440.10" y1="77.50" x2="441.30" y2="77.50" stroke="#444" stroke-width="0.8"/>
<line x1="446.50" y1="99.60" x2="446.50" y2="101.80" stroke="#444" stroke-width="0.8"/>
<line x1="458.80" y1="99.60" x2="458.80" y2="101.80" stroke="#444" stroke-width="0.8"/>
<line x1="467.60" y1="99.60" x2="467.60" y2="101.80" stroke="#444" stroke-width="0.8"/>
<line x1="487.70" y1="99.60" x2="487.70" y2="101.80" stroke="#444" stroke-width="0.8"/>
<line x1="505.00" y1="99.60" x2="505.00" y2="101.80" stroke="#444" stroke-width="0.8"/>
<line x1="451.00" y1="99.60" x2="451.00" y2="100.80" stroke="#444" stroke-width="0.8"/>
<line x1="454.00" y1="99.60" x2="454.00" y2="100.80" stroke="#444" stroke-width="0.8"/>
<line x1="462.00" y1="99.60" x2="462.00" y2="100.80" stroke="#444" stroke-width="0.8"/>
<line x1="473.00" y1="99.60" x2="473.00" y2="100.80" stroke="#444" stroke-width="0.8"/>
<line x1="477.00" y1="99.60" x2="477.00" y2="100.80" stroke="#444" stroke-width="0.8"/>
<line x1="480.00" y1="99.60" x2="480.00" y2="100.80" stroke="#444" stroke-width="0.8"/>
<line x1="483.00" y1="99.60" x2="483.00" y2="100.80" stroke="#444" stroke-width="0.8"/>
<line x1="493.00" y1="99.60" x2="493.00" y2="100.80" stroke="#444" stroke-width="0.8"/>
<line x1="497.00" y1="99.60" x2="497.00" y2="100.80" stroke="#444" stroke-width="0.8"/>
<line x1="500.00" y1="99.60" x2="500.00" y2="100.80" stroke="#444" stroke-width="0.8"/>
<text x="436.40" y="35.74" font-size="3.4" text-anchor="end" fill="#151515" textLength="1.90" lengthAdjust="spacingAndGlyphs" stroke="#151515" stroke-width="0.06">5</text>
<text x="434.40" y="38.24" font-size="5.7" text-anchor="end" fill="#151515" textLength="6.40" lengthAdjust="spacingAndGlyphs" stroke="#151515" stroke-width="0.2">10</text>
<text x="436.40" y="52.54" font-size="3.4" text-anchor="end" fill="#151515" textLength="1.90" lengthAdjust="spacingAndGlyphs" stroke="#151515" stroke-width="0.06">4</text>
<text x="434.40" y="55.04" font-size="5.7" text-anchor="end" fill="#151515" textLength="6.40" lengthAdjust="spacingAndGlyphs" stroke="#151515" stroke-width="0.2">10</text>
<text x="436.40" y="71.54" font-size="3.4" text-anchor="end" fill="#151515" textLength="1.90" lengthAdjust="spacingAndGlyphs" stroke="#151515" stroke-width="0.06">3</text>
<text x="434.40" y="74.04" font-size="5.7" text-anchor="end" fill="#151515" textLength="6.40" lengthAdjust="spacingAndGlyphs" stroke="#151515" stroke-width="0.2">10</text>
<text x="436.40" y="86.14" font-size="5.7" text-anchor="end" fill="#151515" stroke="#151515" stroke-width="0.2">0</text>
<text x="436.40" y="95.04" font-size="3.4" text-anchor="end" fill="#151515" textLength="1.90" lengthAdjust="spacingAndGlyphs" stroke="#151515" stroke-width="0.06">3</text>
<text x="434.40" y="97.54" font-size="5.7" text-anchor="end" fill="#151515" textLength="8.60" lengthAdjust="spacingAndGlyphs" stroke="#151515" stroke-width="0.2">-10</text>
<text x="440.40" y="110.44" font-size="5.7" text-anchor="start" fill="#151515" textLength="8.60" lengthAdjust="spacingAndGlyphs" stroke="#151515" stroke-width="0.2">-10</text>
<text x="449.10" y="107.94" font-size="3.4" text-anchor="start" fill="#151515" textLength="1.90" lengthAdjust="spacingAndGlyphs" stroke="#151515" stroke-width="0.06">3</text>
<text x="458.80" y="110.44" font-size="5.7" text-anchor="middle" fill="#151515" stroke="#151515" stroke-width="0.2">0</text>
<text x="463.40" y="110.44" font-size="5.7" text-anchor="start" fill="#151515" textLength="6.40" lengthAdjust="spacingAndGlyphs" stroke="#151515" stroke-width="0.2">10</text>
<text x="469.90" y="107.94" font-size="3.4" text-anchor="start" fill="#151515" textLength="1.90" lengthAdjust="spacingAndGlyphs" stroke="#151515" stroke-width="0.06">3</text>
<text x="483.50" y="110.44" font-size="5.7" text-anchor="start" fill="#151515" textLength="6.40" lengthAdjust="spacingAndGlyphs" stroke="#151515" stroke-width="0.2">10</text>
<text x="490.00" y="107.94" font-size="3.4" text-anchor="start" fill="#151515" textLength="1.90" lengthAdjust="spacingAndGlyphs" stroke="#151515" stroke-width="0.06">4</text>
<text x="500.80" y="110.44" font-size="5.7" text-anchor="start" fill="#151515" textLength="6.40" lengthAdjust="spacingAndGlyphs" stroke="#151515" stroke-width="0.2">10</text>
<text x="507.30" y="107.94" font-size="3.4" text-anchor="start" fill="#151515" textLength="1.90" lengthAdjust="spacingAndGlyphs" stroke="#151515" stroke-width="0.06">5</text>
<path d="M465.3,87.3 L465.3,68.9 L507.8,68.9" fill="none" stroke="#999" stroke-width="0.8"/>
<path d="M507.8,68.9 L507.8,87.3 L465.3,87.3" fill="none" stroke="#333" stroke-width="1.0"/>
<text x="487.50" y="57.40" font-size="6.8" text-anchor="middle" fill="#151515" textLength="31.90" lengthAdjust="spacingAndGlyphs" stroke="#151515" stroke-width="0.15">Prrx–1–YFP</text>
<text x="487.60" y="65.20" font-size="6.6" text-anchor="middle" fill="#151515" textLength="12.00" lengthAdjust="spacingAndGlyphs" stroke="#151515" stroke-width="0.15">81.6</text>
<g fill="#6070ff" opacity="0.45"><rect x="459.76" y="82.76" width="0.90" height="0.90"/><rect x="456.39" y="75.81" width="0.90" height="0.90"/><rect x="458.88" y="84.10" width="0.90" height="0.90"/><rect x="458.99" y="74.96" width="0.90" height="0.90"/><rect x="456.44" y="78.47" width="0.90" height="0.90"/><rect x="460.17" y="78.61" width="0.90" height="0.90"/><rect x="457.33" y="77.93" width="0.90" height="0.90"/><rect x="458.48" y="76.31" width="0.90" height="0.90"/><rect x="458.12" y="79.49" width="0.90" height="0.90"/><rect x="461.65" y="78.47" width="0.90" height="0.90"/><rect x="460.20" y="75.42" width="0.90" height="0.90"/><rect x="459.97" y="79.16" width="0.90" height="0.90"/><rect x="456.96" y="78.57" width="0.90" height="0.90"/><rect x="460.06" y="77.64" width="0.90" height="0.90"/><rect x="460.33" y="83.43" width="0.90" height="0.90"/><rect x="461.62" y="83.74" width="0.90" height="0.90"/><rect x="455.38" y="79.73" width="0.90" height="0.90"/><rect x="456.65" y="81.62" width="0.90" height="0.90"/><rect x="458.28" y="79.36" width="0.90" height="0.90"/><rect x="459.12" y="76.80" width="0.90" height="0.90"/><rect x="458.33" y="76.40" width="0.90" height="0.90"/><rect x="462.62" y="77.23" width="0.90" height="0.90"/><rect x="458.16" y="73.12" width="0.90" height="0.90"/><rect x="454.94" y="76.03" width="0.90" height="0.90"/><rect x="459.85" y="81.08" width="0.90" height="0.90"/><rect x="458.74" y="76.65" width="0.90" height="0.90"/><rect x="462.12" y="75.44" width="0.90" height="0.90"/><rect x="456.28" y="80.19" width="0.90" height="0.90"/><rect x="455.98" y="79.50" width="0.90" height="0.90"/><rect x="460.22" y="78.45" width="0.90" height="0.90"/><rect x="459.01" y="78.79" width="0.90" height="0.90"/><rect x="455.49" y="78.64" width="0.90" height="0.90"/><rect x="454.58" y="76.89" width="0.90" height="0.90"/><rect x="458.58" y="82.87" width="0.90" height="0.90"/><rect x="455.17" y="77.00" width="0.90" height="0.90"/><rect x="458.62" y="80.32" width="0.90" height="0.90"/><rect x="455.14" y="84.52" width="0.90" height="0.90"/><rect x="456.36" y="82.09" width="0.90" height="0.90"/><rect x="457.69" y="79.95" width="0.90" height="0.90"/><rect x="461.74" y="80.90" width="0.90" height="0.90"/></g>
<g fill="#6070ff" opacity="0.42"><rect x="483.02" y="76.68" width="0.90" height="0.90"/><rect x="476.06" y="75.44" width="0.90" height="0.90"/><rect x="499.79" y="75.06" width="0.90" height="0.90"/><rect x="493.23" y="78.59" width="0.90" height="0.90"/><rect x="489.31" y="77.21" width="0.90" height="0.90"/><rect x="476.74" y="81.14" width="0.90" height="0.90"/><rect x="485.36" y="78.30" width="0.90" height="0.90"/><rect x="496.31" y="81.84" width="0.90" height="0.90"/><rect x="483.10" y="76.14" width="0.90" height="0.90"/><rect x="483.08" y="78.71" width="0.90" height="0.90"/><rect x="481.18" y="82.03" width="0.90" height="0.90"/><rect x="476.73" y="80.44" width="0.90" height="0.90"/><rect x="488.96" y="80.70" width="0.90" height="0.90"/><rect x="502.32" y="74.46" width="0.90" height="0.90"/><rect x="481.28" y="76.13" width="0.90" height="0.90"/><rect x="467.20" y="78.77" width="0.90" height="0.90"/><rect x="487.67" y="79.92" width="0.90" height="0.90"/><rect x="489.99" y="75.01" width="0.90" height="0.90"/><rect x="490.52" y="76.79" width="0.90" height="0.90"/><rect x="470.93" y="81.32" width="0.90" height="0.90"/><rect x="486.06" y="77.46" width="0.90" height="0.90"/><rect x="474.48" y="79.03" width="0.90" height="0.90"/><rect x="481.70" y="79.12" width="0.90" height="0.90"/><rect x="472.72" y="72.71" width="0.90" height="0.90"/><rect x="493.50" y="80.14" width="0.90" height="0.90"/><rect x="470.67" y="74.94" width="0.90" height="0.90"/><rect x="475.56" y="78.38" width="0.90" height="0.90"/><rect x="485.55" y="78.65" width="0.90" height="0.90"/><rect x="484.86" y="80.30" width="0.90" height="0.90"/><rect x="491.22" y="80.07" width="0.90" height="0.90"/><rect x="493.01" y="84.22" width="0.90" height="0.90"/><rect x="478.93" y="78.26" width="0.90" height="0.90"/><rect x="473.82" y="78.91" width="0.90" height="0.90"/><rect x="475.22" y="79.63" width="0.90" height="0.90"/><rect x="484.44" y="81.20" width="0.90" height="0.90"/><rect x="471.36" y="82.83" width="0.90" height="0.90"/><rect x="478.92" y="79.26" width="0.90" height="0.90"/><rect x="477.09" y="73.63" width="0.90" height="0.90"/><rect x="483.97" y="74.31" width="0.90" height="0.90"/><rect x="491.59" y="79.71" width="0.90" height="0.90"/><rect x="495.64" y="81.53" width="0.90" height="0.90"/><rect x="487.97" y="83.77" width="0.90" height="0.90"/><rect x="481.30" y="84.18" width="0.90" height="0.90"/><rect x="480.53" y="80.36" width="0.90" height="0.90"/><rect x="475.62" y="81.21" width="0.90" height="0.90"/><rect x="487.66" y="78.09" width="0.90" height="0.90"/><rect x="470.19" y="79.48" width="0.90" height="0.90"/><rect x="485.43" y="79.11" width="0.90" height="0.90"/><rect x="472.92" y="77.43" width="0.90" height="0.90"/><rect x="479.27" y="71.75" width="0.90" height="0.90"/><rect x="476.40" y="83.87" width="0.90" height="0.90"/><rect x="470.16" y="78.93" width="0.90" height="0.90"/><rect x="496.77" y="81.70" width="0.90" height="0.90"/><rect x="489.89" y="79.14" width="0.90" height="0.90"/><rect x="484.34" y="80.30" width="0.90" height="0.90"/><rect x="496.34" y="82.00" width="0.90" height="0.90"/><rect x="482.16" y="76.29" width="0.90" height="0.90"/><rect x="480.25" y="79.14" width="0.90" height="0.90"/><rect x="475.57" y="76.99" width="0.90" height="0.90"/><rect x="472.66" y="79.22" width="0.90" height="0.90"/><rect x="476.31" y="80.79" width="0.90" height="0.90"/><rect x="490.70" y="80.52" width="0.90" height="0.90"/><rect x="481.81" y="84.23" width="0.90" height="0.90"/><rect x="487.47" y="75.16" width="0.90" height="0.90"/><rect x="475.19" y="80.15" width="0.90" height="0.90"/><rect x="473.73" y="81.83" width="0.90" height="0.90"/><rect x="465.92" y="73.87" width="0.90" height="0.90"/><rect x="490.39" y="81.30" width="0.90" height="0.90"/><rect x="467.26" y="79.79" width="0.90" height="0.90"/><rect x="493.64" y="76.24" width="0.90" height="0.90"/></g>
<g fill="#3a3adf" opacity="0.6"><rect x="475.75" y="78.48" width="0.90" height="0.90"/><rect x="476.32" y="77.81" width="0.90" height="0.90"/><rect x="477.71" y="78.18" width="0.90" height="0.90"/><rect x="479.23" y="82.95" width="0.90" height="0.90"/><rect x="476.13" y="81.23" width="0.90" height="0.90"/><rect x="482.32" y="77.07" width="0.90" height="0.90"/><rect x="479.37" y="80.04" width="0.90" height="0.90"/><rect x="478.12" y="81.09" width="0.90" height="0.90"/><rect x="477.83" y="80.51" width="0.90" height="0.90"/><rect x="477.97" y="79.88" width="0.90" height="0.90"/><rect x="476.87" y="83.00" width="0.90" height="0.90"/><rect x="478.90" y="78.60" width="0.90" height="0.90"/><rect x="484.49" y="82.09" width="0.90" height="0.90"/><rect x="478.51" y="79.20" width="0.90" height="0.90"/><rect x="477.00" y="81.65" width="0.90" height="0.90"/><rect x="478.14" y="79.13" width="0.90" height="0.90"/><rect x="481.40" y="79.70" width="0.90" height="0.90"/><rect x="478.91" y="82.56" width="0.90" height="0.90"/><rect x="481.46" y="81.66" width="0.90" height="0.90"/><rect x="480.22" y="81.72" width="0.90" height="0.90"/><rect x="478.58" y="81.30" width="0.90" height="0.90"/><rect x="481.98" y="79.52" width="0.90" height="0.90"/><rect x="475.47" y="80.75" width="0.90" height="0.90"/><rect x="478.72" y="80.84" width="0.90" height="0.90"/><rect x="477.38" y="80.74" width="0.90" height="0.90"/><rect x="481.74" y="83.11" width="0.90" height="0.90"/><rect x="484.04" y="80.56" width="0.90" height="0.90"/><rect x="483.06" y="79.24" width="0.90" height="0.90"/><rect x="482.33" y="80.23" width="0.90" height="0.90"/><rect x="482.77" y="80.48" width="0.90" height="0.90"/></g>
<rect x="441.30" y="114.50" width="70.00" height="69.90" fill="none" stroke="#a8a8a8" stroke-width="1"/>
<line x1="441.30" y1="114.50" x2="441.30" y2="184.40" stroke="#888" stroke-width="1.0"/>
<line x1="441.30" y1="184.40" x2="511.30" y2="184.40" stroke="#666" stroke-width="1.0"/>
<line x1="440.10" y1="133.29" x2="441.30" y2="133.29" stroke="#444" stroke-width="0.8"/>
<line x1="440.10" y1="130.25" x2="441.30" y2="130.25" stroke="#444" stroke-width="0.8"/>
<line x1="440.10" y1="128.08" x2="441.30" y2="128.08" stroke="#444" stroke-width="0.8"/>
<line x1="440.10" y1="126.41" x2="441.30" y2="126.41" stroke="#444" stroke-width="0.8"/>
<line x1="440.10" y1="125.04" x2="441.30" y2="125.04" stroke="#444" stroke-width="0.8"/>
<line x1="440.10" y1="123.88" x2="441.30" y2="123.88" stroke="#444" stroke-width="0.8"/>
<line x1="440.10" y1="122.88" x2="441.30" y2="122.88" stroke="#444" stroke-width="0.8"/>
<line x1="440.10" y1="121.99" x2="441.30" y2="121.99" stroke="#444" stroke-width="0.8"/>
<line x1="440.10" y1="151.50" x2="441.30" y2="151.50" stroke="#444" stroke-width="0.8"/>
<line x1="440.10" y1="148.23" x2="441.30" y2="148.23" stroke="#444" stroke-width="0.8"/>
<line x1="440.10" y1="145.90" x2="441.30" y2="145.90" stroke="#444" stroke-width="0.8"/>
<line x1="440.10" y1="144.10" x2="441.30" y2="144.10" stroke="#444" stroke-width="0.8"/>
<line x1="440.10" y1="142.63" x2="441.30" y2="142.63" stroke="#444" stroke-width="0.8"/>
<line x1="440.10" y1="141.38" x2="441.30" y2="141.38" stroke="#444" stroke-width="0.8"/>
<line x1="440.10" y1="140.30" x2="441.30" y2="140.30" stroke="#444" stroke-width="0.8"/>
<line x1="440.10" y1="139.35" x2="441.30" y2="139.35" stroke="#444" stroke-width="0.8"/>
<line x1="439.10" y1="121.20" x2="441.30" y2="121.20" stroke="#444" stroke-width="0.8"/>
<line x1="439.10" y1="138.50" x2="441.30" y2="138.50" stroke="#444" stroke-width="0.8"/>
<line x1="439.10" y1="157.10" x2="441.30" y2="157.10" stroke="#444" stroke-width="0.8"/>
<line x1="439.10" y1="168.30" x2="441.30" y2="168.30" stroke="#444" stroke-width="0.8"/>
<line x1="439.10" y1="180.50" x2="441.30" y2="180.50" stroke="#444" stroke-width="0.8"/>
<line x1="440.10" y1="174.50" x2="441.30" y2="174.50" stroke="#444" stroke-width="0.8"/>
<line x1="440.10" y1="163.00" x2="441.30" y2="163.00" stroke="#444" stroke-width="0.8"/>
<line x1="446.50" y1="184.40" x2="446.50" y2="186.60" stroke="#444" stroke-width="0.8"/>
<line x1="458.80" y1="184.40" x2="458.80" y2="186.60" stroke="#444" stroke-width="0.8"/>
<line x1="467.60" y1="184.40" x2="467.60" y2="186.60" stroke="#444" stroke-width="0.8"/>
<line x1="487.70" y1="184.40" x2="487.70" y2="186.60" stroke="#444" stroke-width="0.8"/>
<line x1="505.00" y1="184.40" x2="505.00" y2="186.60" stroke="#444" stroke-width="0.8"/>
<line x1="451.00" y1="184.40" x2="451.00" y2="185.60" stroke="#444" stroke-width="0.8"/>
<line x1="454.00" y1="184.40" x2="454.00" y2="185.60" stroke="#444" stroke-width="0.8"/>
<line x1="462.00" y1="184.40" x2="462.00" y2="185.60" stroke="#444" stroke-width="0.8"/>
<line x1="473.00" y1="184.40" x2="473.00" y2="185.60" stroke="#444" stroke-width="0.8"/>
<line x1="477.00" y1="184.40" x2="477.00" y2="185.60" stroke="#444" stroke-width="0.8"/>
<line x1="480.00" y1="184.40" x2="480.00" y2="185.60" stroke="#444" stroke-width="0.8"/>
<line x1="483.00" y1="184.40" x2="483.00" y2="185.60" stroke="#444" stroke-width="0.8"/>
<line x1="493.00" y1="184.40" x2="493.00" y2="185.60" stroke="#444" stroke-width="0.8"/>
<line x1="497.00" y1="184.40" x2="497.00" y2="185.60" stroke="#444" stroke-width="0.8"/>
<line x1="500.00" y1="184.40" x2="500.00" y2="185.60" stroke="#444" stroke-width="0.8"/>
<text x="436.40" y="120.74" font-size="3.4" text-anchor="end" fill="#151515" textLength="1.90" lengthAdjust="spacingAndGlyphs" stroke="#151515" stroke-width="0.06">5</text>
<text x="434.40" y="123.24" font-size="5.7" text-anchor="end" fill="#151515" textLength="6.40" lengthAdjust="spacingAndGlyphs" stroke="#151515" stroke-width="0.2">10</text>
<text x="436.40" y="138.04" font-size="3.4" text-anchor="end" fill="#151515" textLength="1.90" lengthAdjust="spacingAndGlyphs" stroke="#151515" stroke-width="0.06">4</text>
<text x="434.40" y="140.54" font-size="5.7" text-anchor="end" fill="#151515" textLength="6.40" lengthAdjust="spacingAndGlyphs" stroke="#151515" stroke-width="0.2">10</text>
<text x="436.40" y="156.64" font-size="3.4" text-anchor="end" fill="#151515" textLength="1.90" lengthAdjust="spacingAndGlyphs" stroke="#151515" stroke-width="0.06">3</text>
<text x="434.40" y="159.14" font-size="5.7" text-anchor="end" fill="#151515" textLength="6.40" lengthAdjust="spacingAndGlyphs" stroke="#151515" stroke-width="0.2">10</text>
<text x="436.40" y="171.84" font-size="5.7" text-anchor="end" fill="#151515" stroke="#151515" stroke-width="0.2">0</text>
<text x="436.40" y="180.54" font-size="3.4" text-anchor="end" fill="#151515" textLength="1.90" lengthAdjust="spacingAndGlyphs" stroke="#151515" stroke-width="0.06">3</text>
<text x="434.40" y="183.04" font-size="5.7" text-anchor="end" fill="#151515" textLength="8.60" lengthAdjust="spacingAndGlyphs" stroke="#151515" stroke-width="0.2">-10</text>
<text x="440.40" y="196.34" font-size="5.7" text-anchor="start" fill="#151515" textLength="8.60" lengthAdjust="spacingAndGlyphs" stroke="#151515" stroke-width="0.2">-10</text>
<text x="449.10" y="193.84" font-size="3.4" text-anchor="start" fill="#151515" textLength="1.90" lengthAdjust="spacingAndGlyphs" stroke="#151515" stroke-width="0.06">3</text>
<text x="458.80" y="196.34" font-size="5.7" text-anchor="middle" fill="#151515" stroke="#151515" stroke-width="0.2">0</text>
<text x="463.40" y="196.34" font-size="5.7" text-anchor="start" fill="#151515" textLength="6.40" lengthAdjust="spacingAndGlyphs" stroke="#151515" stroke-width="0.2">10</text>
<text x="469.90" y="193.84" font-size="3.4" text-anchor="start" fill="#151515" textLength="1.90" lengthAdjust="spacingAndGlyphs" stroke="#151515" stroke-width="0.06">3</text>
<text x="483.50" y="196.34" font-size="5.7" text-anchor="start" fill="#151515" textLength="6.40" lengthAdjust="spacingAndGlyphs" stroke="#151515" stroke-width="0.2">10</text>
<text x="490.00" y="193.84" font-size="3.4" text-anchor="start" fill="#151515" textLength="1.90" lengthAdjust="spacingAndGlyphs" stroke="#151515" stroke-width="0.06">4</text>
<text x="500.80" y="196.34" font-size="5.7" text-anchor="start" fill="#151515" textLength="6.40" lengthAdjust="spacingAndGlyphs" stroke="#151515" stroke-width="0.2">10</text>
<text x="507.30" y="193.84" font-size="3.4" text-anchor="start" fill="#151515" textLength="1.90" lengthAdjust="spacingAndGlyphs" stroke="#151515" stroke-width="0.06">5</text>
<path d="M464.7,173.2 L464.7,154.6 L507.6,154.6" fill="none" stroke="#999" stroke-width="0.8"/>
<path d="M507.6,154.6 L507.6,173.2 L464.7,173.2" fill="none" stroke="#333" stroke-width="1.0"/>
<text x="487.60" y="143.50" font-size="6.8" text-anchor="middle" fill="#151515" textLength="33.50" lengthAdjust="spacingAndGlyphs" stroke="#151515" stroke-width="0.15">Prrx–1–YFP</text>
<text x="487.60" y="152.40" font-size="6.6" text-anchor="middle" fill="#151515" textLength="11.80" lengthAdjust="spacingAndGlyphs" stroke="#151515" stroke-width="0.15">20.2</text>
<g fill="#6070ff" opacity="0.5"><rect x="458.90" y="164.12" width="0.90" height="0.90"/><rect x="458.38" y="165.94" width="0.90" height="0.90"/><rect x="457.19" y="162.30" width="0.90" height="0.90"/><rect x="458.94" y="163.16" width="0.90" height="0.90"/><rect x="459.41" y="163.89" width="0.90" height="0.90"/><rect x="455.06" y="160.42" width="0.90" height="0.90"/><rect x="456.61" y="158.30" width="0.90" height="0.90"/><rect x="457.92" y="163.64" width="0.90" height="0.90"/><rect x="459.62" y="161.83" width="0.90" height="0.90"/><rect x="457.66" y="166.36" width="0.90" height="0.90"/><rect x="459.29" y="161.34" width="0.90" height="0.90"/><rect x="460.60" y="162.58" width="0.90" height="0.90"/><rect x="460.06" y="163.61" width="0.90" height="0.90"/><rect x="457.35" y="160.64" width="0.90" height="0.90"/><rect x="457.84" y="172.06" width="0.90" height="0.90"/><rect x="456.98" y="169.38" width="0.90" height="0.90"/><rect x="460.28" y="163.33" width="0.90" height="0.90"/><rect x="459.92" y="168.92" width="0.90" height="0.90"/><rect x="457.54" y="162.88" width="0.90" height="0.90"/><rect x="459.93" y="165.67" width="0.90" height="0.90"/><rect x="461.62" y="165.93" width="0.90" height="0.90"/><rect x="456.12" y="164.41" width="0.90" height="0.90"/><rect x="456.07" y="166.93" width="0.90" height="0.90"/><rect x="459.24" y="163.26" width="0.90" height="0.90"/><rect x="456.57" y="167.38" width="0.90" height="0.90"/><rect x="457.42" y="168.41" width="0.90" height="0.90"/><rect x="456.41" y="163.69" width="0.90" height="0.90"/><rect x="457.14" y="161.29" width="0.90" height="0.90"/><rect x="462.63" y="169.85" width="0.90" height="0.90"/><rect x="457.00" y="167.06" width="0.90" height="0.90"/><rect x="455.03" y="168.51" width="0.90" height="0.90"/><rect x="459.88" y="163.49" width="0.90" height="0.90"/><rect x="457.46" y="165.34" width="0.90" height="0.90"/><rect x="458.83" y="163.43" width="0.90" height="0.90"/><rect x="456.63" y="163.75" width="0.90" height="0.90"/><rect x="457.34" y="167.04" width="0.90" height="0.90"/><rect x="458.21" y="165.32" width="0.90" height="0.90"/><rect x="455.27" y="163.37" width="0.90" height="0.90"/><rect x="457.40" y="162.94" width="0.90" height="0.90"/><rect x="457.87" y="163.63" width="0.90" height="0.90"/></g>
<g fill="#6070ff" opacity="0.45"><rect x="470.25" y="167.34" width="0.90" height="0.90"/><rect x="493.34" y="163.07" width="0.90" height="0.90"/><rect x="490.58" y="161.85" width="0.90" height="0.90"/><rect x="472.76" y="163.99" width="0.90" height="0.90"/><rect x="499.38" y="164.30" width="0.90" height="0.90"/><rect x="470.25" y="165.31" width="0.90" height="0.90"/><rect x="479.32" y="162.50" width="0.90" height="0.90"/><rect x="488.10" y="159.49" width="0.90" height="0.90"/><rect x="467.83" y="160.33" width="0.90" height="0.90"/><rect x="495.08" y="164.93" width="0.90" height="0.90"/><rect x="479.10" y="162.64" width="0.90" height="0.90"/><rect x="491.10" y="168.33" width="0.90" height="0.90"/><rect x="478.02" y="165.44" width="0.90" height="0.90"/><rect x="481.85" y="165.67" width="0.90" height="0.90"/><rect x="486.00" y="166.65" width="0.90" height="0.90"/><rect x="488.34" y="163.23" width="0.90" height="0.90"/><rect x="483.88" y="165.80" width="0.90" height="0.90"/><rect x="478.52" y="164.91" width="0.90" height="0.90"/><rect x="476.37" y="168.34" width="0.90" height="0.90"/><rect x="499.75" y="162.14" width="0.90" height="0.90"/><rect x="493.06" y="165.20" width="0.90" height="0.90"/><rect x="485.91" y="163.96" width="0.90" height="0.90"/><rect x="487.58" y="167.66" width="0.90" height="0.90"/><rect x="473.47" y="167.69" width="0.90" height="0.90"/><rect x="482.55" y="161.48" width="0.90" height="0.90"/><rect x="484.59" y="166.58" width="0.90" height="0.90"/><rect x="484.21" y="165.57" width="0.90" height="0.90"/><rect x="481.89" y="163.13" width="0.90" height="0.90"/><rect x="494.51" y="161.97" width="0.90" height="0.90"/><rect x="494.46" y="165.70" width="0.90" height="0.90"/></g>
<line x1="349.70" y1="223.40" x2="349.70" y2="199.00" stroke="#000" stroke-width="1.5"/>
<path d="M347,199.5 L349.7,195.2 L352.4,199.5 Z" fill="#000"/>
<line x1="349.00" y1="223.20" x2="407.50" y2="223.20" stroke="#000" stroke-width="1.5"/>
<path d="M407,220.5 L411.5,223.2 L407,225.9 Z" fill="#000"/>
<text transform="translate(345.10,220.52) rotate(-90) scale(0.8580,1)" font-size="8.70" fill="#111" stroke="#111" stroke-width="0.180">CD45</text>
<text x="378.10" y="219.30" font-size="8.6" text-anchor="middle" fill="#111" textLength="23.80" lengthAdjust="spacingAndGlyphs" stroke="#111" stroke-width="0.2">Ter119</text>
<line x1="447.90" y1="223.60" x2="501.50" y2="223.60" stroke="#000" stroke-width="1.5"/>
<path d="M501,220.9 L505.6,223.6 L501,226.3 Z" fill="#000"/>
<text x="476.90" y="219.10" font-size="8.6" text-anchor="middle" fill="#111" textLength="34.20" lengthAdjust="spacingAndGlyphs" stroke="#111" stroke-width="0.2">Prrx1-YFP</text>
<line x1="393.50" y1="268.40" x2="393.50" y2="343.85" stroke="#1a1a1a" stroke-width="1.3"/>
<line x1="392.85" y1="343.20" x2="437.30" y2="343.20" stroke="#1a1a1a" stroke-width="1.3"/>
<line x1="390.30" y1="270.50" x2="393.50" y2="270.50" stroke="#1a1a1a" stroke-width="1.0"/>
<text x="386.80" y="272.79" font-size="6.4" text-anchor="end" fill="#1e1e1e" textLength="9.20" lengthAdjust="spacingAndGlyphs" stroke="#1e1e1e" stroke-width="0.2">100</text>
<line x1="390.30" y1="306.80" x2="393.50" y2="306.80" stroke="#1a1a1a" stroke-width="1.0"/>
<text x="386.80" y="309.09" font-size="6.4" text-anchor="end" fill="#1e1e1e" stroke="#1e1e1e" stroke-width="0.2">50</text>
<line x1="390.30" y1="343.20" x2="393.50" y2="343.20" stroke="#1a1a1a" stroke-width="1.0"/>
<text x="386.80" y="345.49" font-size="6.4" text-anchor="end" fill="#1e1e1e" stroke="#1e1e1e" stroke-width="0.2">0</text>
<path d="M397.85,343.20 L397.85,287.05 L411.95,287.05 L411.95,343.20" fill="none" stroke="#b8173f" stroke-width="1.3"/>
<circle cx="405.10" cy="280.30" r="0.95" fill="#b8173f"/>
<circle cx="404.20" cy="281.50" r="0.95" fill="#b8173f"/>
<circle cx="406.20" cy="282.50" r="0.95" fill="#b8173f"/>
<circle cx="406.80" cy="284.30" r="0.95" fill="#b8173f"/>
<circle cx="405.10" cy="289.00" r="0.95" fill="#b8173f"/>
<circle cx="405.10" cy="296.00" r="0.95" fill="#b8173f"/>
<line x1="404.90" y1="282.90" x2="404.90" y2="289.60" stroke="#b8173f" stroke-width="1.1"/>
<line x1="401.45" y1="282.90" x2="408.35" y2="282.90" stroke="#b8173f" stroke-width="1.1"/>
<line x1="401.45" y1="289.60" x2="408.35" y2="289.60" stroke="#b8173f" stroke-width="1.1"/>
<line x1="404.90" y1="343.20" x2="404.90" y2="346.00" stroke="#1a1a1a" stroke-width="1.0"/>
<path d="M419.65,343.20 L419.65,325.75 L434.05,325.75 L434.05,343.20" fill="none" stroke="#e89a2c" stroke-width="1.3"/>
<rect x="425.95" y="300.85" width="1.90" height="1.90" fill="#e89a2c"/>
<rect x="425.95" y="317.25" width="1.90" height="1.90" fill="#e89a2c"/>
<rect x="425.95" y="325.55" width="1.90" height="1.90" fill="#e89a2c"/>
<rect x="425.95" y="331.15" width="1.90" height="1.90" fill="#e89a2c"/>
<rect x="427.35" y="336.05" width="1.90" height="1.90" fill="#e89a2c"/>
<rect x="424.55" y="337.75" width="1.90" height="1.90" fill="#e89a2c"/>
<line x1="426.85" y1="320.40" x2="426.85" y2="330.40" stroke="#e89a2c" stroke-width="1.1"/>
<line x1="423.20" y1="320.40" x2="430.50" y2="320.40" stroke="#e89a2c" stroke-width="1.1"/>
<line x1="423.20" y1="330.40" x2="430.50" y2="330.40" stroke="#e89a2c" stroke-width="1.1"/>
<line x1="426.85" y1="343.20" x2="426.85" y2="346.00" stroke="#1a1a1a" stroke-width="1.0"/>
<path d="M404.60,275.20 L404.60,276.80 M404.60,276.00 L427.40,276.00 M427.40,275.20 L427.40,276.80" fill="none" stroke="#1a1a1a" stroke-width="1.05"/>
<path d="M414.50,272.40 L414.50,274.40 M413.63,272.90 L415.37,273.90 M413.63,273.90 L415.37,272.90 " stroke="#222" stroke-width="0.75" fill="none"/>
<path d="M417.50,272.40 L417.50,274.40 M416.63,272.90 L418.37,273.90 M416.63,273.90 L418.37,272.90 " stroke="#222" stroke-width="0.75" fill="none"/>
<text transform="translate(360.10,345.75) rotate(-90) scale(0.9916,1)" font-size="8.50" fill="#111" stroke="#111" stroke-width="0.180">Frequency of Prrx-1+</text>
<text transform="translate(368.40,344.27) rotate(-90) scale(0.9829,1)" font-size="8.50" fill="#111" stroke="#111" stroke-width="0.180">(% of CD45-Ter119-)</text>
<circle cx="454.60" cy="302.30" r="1.28" fill="#b8173f"/>
<text x="458.20" y="305.10" font-size="7.7" text-anchor="start" fill="#222" textLength="23.30" lengthAdjust="spacingAndGlyphs" stroke="#222" stroke-width="0.15">BM only</text>
<rect x="453.37" y="311.37" width="2.47" height="2.47" fill="#e89a2c"/>
<text x="458.20" y="315.00" font-size="7.7" text-anchor="start" fill="#222" textLength="32.30" lengthAdjust="spacingAndGlyphs" stroke="#222" stroke-width="0.15">BM +T cells</text>
<line x1="56.70" y1="387.30" x2="56.70" y2="465.45" stroke="#1a1a1a" stroke-width="1.3"/>
<line x1="56.05" y1="464.80" x2="85.20" y2="464.80" stroke="#1a1a1a" stroke-width="1.3"/>
<line x1="53.50" y1="389.80" x2="56.70" y2="389.80" stroke="#1a1a1a" stroke-width="1.0"/>
<text x="50.20" y="389.33" font-size="3.8" text-anchor="end" fill="#1e1e1e" textLength="2.20" lengthAdjust="spacingAndGlyphs" stroke="#1e1e1e" stroke-width="0.14">4</text>
<text x="47.50" y="392.13" font-size="6.5" text-anchor="end" fill="#1e1e1e" textLength="17.80" lengthAdjust="spacingAndGlyphs" stroke="#1e1e1e" stroke-width="0.2">2.5x10</text>
<line x1="53.50" y1="404.80" x2="56.70" y2="404.80" stroke="#1a1a1a" stroke-width="1.0"/>
<text x="50.20" y="404.33" font-size="3.8" text-anchor="end" fill="#1e1e1e" textLength="2.20" lengthAdjust="spacingAndGlyphs" stroke="#1e1e1e" stroke-width="0.14">4</text>
<text x="47.50" y="407.13" font-size="6.5" text-anchor="end" fill="#1e1e1e" textLength="17.80" lengthAdjust="spacingAndGlyphs" stroke="#1e1e1e" stroke-width="0.2">2.0x10</text>
<line x1="53.50" y1="419.40" x2="56.70" y2="419.40" stroke="#1a1a1a" stroke-width="1.0"/>
<text x="50.20" y="418.93" font-size="3.8" text-anchor="end" fill="#1e1e1e" textLength="2.20" lengthAdjust="spacingAndGlyphs" stroke="#1e1e1e" stroke-width="0.14">4</text>
<text x="47.50" y="421.73" font-size="6.5" text-anchor="end" fill="#1e1e1e" textLength="17.80" lengthAdjust="spacingAndGlyphs" stroke="#1e1e1e" stroke-width="0.2">1.5x10</text>
<line x1="53.50" y1="434.30" x2="56.70" y2="434.30" stroke="#1a1a1a" stroke-width="1.0"/>
<text x="50.20" y="433.83" font-size="3.8" text-anchor="end" fill="#1e1e1e" textLength="2.20" lengthAdjust="spacingAndGlyphs" stroke="#1e1e1e" stroke-width="0.14">4</text>
<text x="47.50" y="436.63" font-size="6.5" text-anchor="end" fill="#1e1e1e" textLength="17.80" lengthAdjust="spacingAndGlyphs" stroke="#1e1e1e" stroke-width="0.2">1.0x10</text>
<line x1="53.50" y1="449.30" x2="56.70" y2="449.30" stroke="#1a1a1a" stroke-width="1.0"/>
<text x="50.20" y="448.83" font-size="3.8" text-anchor="end" fill="#1e1e1e" textLength="2.20" lengthAdjust="spacingAndGlyphs" stroke="#1e1e1e" stroke-width="0.14">3</text>
<text x="47.50" y="451.63" font-size="6.5" text-anchor="end" fill="#1e1e1e" textLength="17.80" lengthAdjust="spacingAndGlyphs" stroke="#1e1e1e" stroke-width="0.2">5.0x10</text>
<line x1="53.50" y1="465.00" x2="56.70" y2="465.00" stroke="#1a1a1a" stroke-width="1.0"/>
<text x="50.30" y="467.33" font-size="6.5" text-anchor="end" fill="#1e1e1e" textLength="8.20" lengthAdjust="spacingAndGlyphs" stroke="#1e1e1e" stroke-width="0.2">0.0</text>
<path d="M58.00,464.80 L58.00,425.40 L64.40,425.40 L64.40,464.80" fill="none" stroke="#b8173f" stroke-width="1.2"/>
<circle cx="61.40" cy="398.10" r="0.81" fill="#b8173f"/>
<circle cx="61.40" cy="426.50" r="0.81" fill="#b8173f"/>
<circle cx="62.40" cy="429.80" r="0.81" fill="#b8173f"/>
<circle cx="61.40" cy="443.30" r="0.81" fill="#b8173f"/>
<line x1="61.20" y1="417.60" x2="61.20" y2="431.40" stroke="#b8173f" stroke-width="1.1"/>
<line x1="58.90" y1="417.60" x2="63.50" y2="417.60" stroke="#b8173f" stroke-width="1.1"/>
<line x1="58.90" y1="431.40" x2="63.50" y2="431.40" stroke="#b8173f" stroke-width="1.1"/>
<line x1="61.20" y1="464.80" x2="61.20" y2="467.60" stroke="#1a1a1a" stroke-width="1.0"/>
<path d="M67.70,464.80 L67.70,450.60 L73.90,450.60 L73.90,464.80" fill="none" stroke="#e89a2c" stroke-width="1.2"/>
<rect x="68.19" y="444.39" width="1.61" height="1.61" fill="#e89a2c"/>
<rect x="70.59" y="444.69" width="1.61" height="1.61" fill="#e89a2c"/>
<rect x="70.19" y="453.19" width="1.61" height="1.61" fill="#e89a2c"/>
<rect x="70.59" y="456.79" width="1.61" height="1.61" fill="#e89a2c"/>
<line x1="70.80" y1="446.90" x2="70.80" y2="454.00" stroke="#e89a2c" stroke-width="1.1"/>
<line x1="68.50" y1="446.90" x2="73.10" y2="446.90" stroke="#e89a2c" stroke-width="1.1"/>
<line x1="68.50" y1="454.00" x2="73.10" y2="454.00" stroke="#e89a2c" stroke-width="1.1"/>
<line x1="70.80" y1="464.80" x2="70.80" y2="467.60" stroke="#1a1a1a" stroke-width="1.0"/>
<path d="M76.90,464.80 L76.90,433.90 L83.20,433.90 L83.20,464.80" fill="none" stroke="#7bbf55" stroke-width="1.2"/>
<path d="M79.80,424.56 L80.73,426.25 L78.86,426.25 Z" fill="#7bbf55"/>
<path d="M79.80,430.46 L80.73,432.15 L78.86,432.15 Z" fill="#7bbf55"/>
<path d="M79.80,442.37 L80.73,444.05 L78.86,444.05 Z" fill="#7bbf55"/>
<line x1="80.05" y1="429.50" x2="80.05" y2="436.70" stroke="#7bbf55" stroke-width="1.1"/>
<line x1="77.75" y1="429.50" x2="82.35" y2="429.50" stroke="#7bbf55" stroke-width="1.1"/>
<line x1="77.75" y1="436.70" x2="82.35" y2="436.70" stroke="#7bbf55" stroke-width="1.1"/>
<line x1="80.05" y1="464.80" x2="80.05" y2="467.60" stroke="#1a1a1a" stroke-width="1.0"/>
<line x1="70.20" y1="414.30" x2="81.40" y2="414.30" stroke="#1a1a1a" stroke-width="1.05"/>
<path d="M75.80,410.70 L75.80,412.70 M74.93,411.20 L76.67,412.20 M74.93,412.20 L76.67,411.20 " stroke="#222" stroke-width="0.75" fill="none"/>
<text transform="translate(22.80,445.58) rotate(-90) scale(0.9751,1)" font-size="8.90" fill="#111" stroke="#111" stroke-width="0.180">Cell count</text>
<text x="70.30" y="478.20" font-size="6.6" text-anchor="middle" fill="#1a1a1a" textLength="11.00" lengthAdjust="spacingAndGlyphs" stroke="#1a1a1a" stroke-width="0.18">CLP</text>
<line x1="129.60" y1="387.30" x2="129.60" y2="465.45" stroke="#1a1a1a" stroke-width="1.3"/>
<line x1="128.95" y1="464.80" x2="157.80" y2="464.80" stroke="#1a1a1a" stroke-width="1.3"/>
<line x1="126.40" y1="389.20" x2="129.60" y2="389.20" stroke="#1a1a1a" stroke-width="1.0"/>
<text x="123.90" y="388.73" font-size="3.8" text-anchor="end" fill="#1e1e1e" textLength="2.20" lengthAdjust="spacingAndGlyphs" stroke="#1e1e1e" stroke-width="0.14">6</text>
<text x="121.20" y="391.53" font-size="6.5" text-anchor="end" fill="#1e1e1e" textLength="13.70" lengthAdjust="spacingAndGlyphs" stroke="#1e1e1e" stroke-width="0.2">1x10</text>
<line x1="126.40" y1="404.50" x2="129.60" y2="404.50" stroke="#1a1a1a" stroke-width="1.0"/>
<text x="123.90" y="404.03" font-size="3.8" text-anchor="end" fill="#1e1e1e" textLength="2.20" lengthAdjust="spacingAndGlyphs" stroke="#1e1e1e" stroke-width="0.14">5</text>
<text x="121.20" y="406.83" font-size="6.5" text-anchor="end" fill="#1e1e1e" textLength="13.70" lengthAdjust="spacingAndGlyphs" stroke="#1e1e1e" stroke-width="0.2">8x10</text>
<line x1="126.40" y1="419.50" x2="129.60" y2="419.50" stroke="#1a1a1a" stroke-width="1.0"/>
<text x="123.90" y="419.03" font-size="3.8" text-anchor="end" fill="#1e1e1e" textLength="2.20" lengthAdjust="spacingAndGlyphs" stroke="#1e1e1e" stroke-width="0.14">5</text>
<text x="121.20" y="421.83" font-size="6.5" text-anchor="end" fill="#1e1e1e" textLength="13.70" lengthAdjust="spacingAndGlyphs" stroke="#1e1e1e" stroke-width="0.2">6x10</text>
<line x1="126.40" y1="434.80" x2="129.60" y2="434.80" stroke="#1a1a1a" stroke-width="1.0"/>
<text x="123.90" y="434.33" font-size="3.8" text-anchor="end" fill="#1e1e1e" textLength="2.20" lengthAdjust="spacingAndGlyphs" stroke="#1e1e1e" stroke-width="0.14">5</text>
<text x="121.20" y="437.13" font-size="6.5" text-anchor="end" fill="#1e1e1e" textLength="13.70" lengthAdjust="spacingAndGlyphs" stroke="#1e1e1e" stroke-width="0.2">4x10</text>
<line x1="126.40" y1="449.90" x2="129.60" y2="449.90" stroke="#1a1a1a" stroke-width="1.0"/>
<text x="123.90" y="449.43" font-size="3.8" text-anchor="end" fill="#1e1e1e" textLength="2.20" lengthAdjust="spacingAndGlyphs" stroke="#1e1e1e" stroke-width="0.14">5</text>
<text x="121.20" y="452.23" font-size="6.5" text-anchor="end" fill="#1e1e1e" textLength="13.70" lengthAdjust="spacingAndGlyphs" stroke="#1e1e1e" stroke-width="0.2">2x10</text>
<line x1="126.40" y1="464.80" x2="129.60" y2="464.80" stroke="#1a1a1a" stroke-width="1.0"/>
<text x="123.00" y="467.13" font-size="6.5" text-anchor="end" fill="#1e1e1e" stroke="#1e1e1e" stroke-width="0.2">0</text>
<path d="M130.90,464.80 L130.90,423.90 L137.30,423.90 L137.30,464.80" fill="none" stroke="#b8173f" stroke-width="1.2"/>
<circle cx="133.70" cy="394.30" r="0.81" fill="#b8173f"/>
<circle cx="133.70" cy="426.60" r="0.81" fill="#b8173f"/>
<circle cx="133.70" cy="433.60" r="0.81" fill="#b8173f"/>
<circle cx="134.10" cy="435.60" r="0.81" fill="#b8173f"/>
<circle cx="133.70" cy="441.10" r="0.81" fill="#b8173f"/>
<line x1="134.10" y1="415.30" x2="134.10" y2="428.60" stroke="#b8173f" stroke-width="1.1"/>
<line x1="131.80" y1="415.30" x2="136.40" y2="415.30" stroke="#b8173f" stroke-width="1.1"/>
<line x1="131.80" y1="428.60" x2="136.40" y2="428.60" stroke="#b8173f" stroke-width="1.1"/>
<line x1="134.10" y1="464.80" x2="134.10" y2="467.60" stroke="#1a1a1a" stroke-width="1.0"/>
<path d="M140.80,464.80 L140.80,445.10 L146.60,445.10 L146.60,464.80" fill="none" stroke="#e89a2c" stroke-width="1.2"/>
<rect x="142.39" y="433.79" width="1.61" height="1.61" fill="#e89a2c"/>
<rect x="142.39" y="435.79" width="1.61" height="1.61" fill="#e89a2c"/>
<rect x="141.19" y="436.79" width="1.61" height="1.61" fill="#e89a2c"/>
<rect x="142.39" y="449.69" width="1.61" height="1.61" fill="#e89a2c"/>
<rect x="142.39" y="460.59" width="1.61" height="1.61" fill="#e89a2c"/>
<line x1="143.70" y1="434.00" x2="143.70" y2="454.40" stroke="#e89a2c" stroke-width="1.1"/>
<line x1="141.40" y1="434.00" x2="146.00" y2="434.00" stroke="#e89a2c" stroke-width="1.1"/>
<line x1="141.40" y1="454.40" x2="146.00" y2="454.40" stroke="#e89a2c" stroke-width="1.1"/>
<line x1="143.70" y1="464.80" x2="143.70" y2="467.60" stroke="#1a1a1a" stroke-width="1.0"/>
<path d="M149.90,464.80 L149.90,419.90 L155.90,419.90 L155.90,464.80" fill="none" stroke="#7bbf55" stroke-width="1.2"/>
<path d="M153.10,399.87 L154.03,401.55 L152.16,401.55 Z" fill="#7bbf55"/>
<path d="M153.10,421.76 L154.03,423.45 L152.16,423.45 Z" fill="#7bbf55"/>
<path d="M153.10,442.56 L154.03,444.25 L152.16,444.25 Z" fill="#7bbf55"/>
<line x1="152.90" y1="409.40" x2="152.90" y2="427.60" stroke="#7bbf55" stroke-width="1.1"/>
<line x1="150.60" y1="409.40" x2="155.20" y2="409.40" stroke="#7bbf55" stroke-width="1.1"/>
<line x1="150.60" y1="427.60" x2="155.20" y2="427.60" stroke="#7bbf55" stroke-width="1.1"/>
<line x1="152.90" y1="464.80" x2="152.90" y2="467.60" stroke="#1a1a1a" stroke-width="1.0"/>
<text transform="translate(101.30,445.58) rotate(-90) scale(0.9751,1)" font-size="8.90" fill="#111" stroke="#111" stroke-width="0.180">Cell count</text>
<text x="144.10" y="478.20" font-size="6.6" text-anchor="middle" fill="#1a1a1a" textLength="26.80" lengthAdjust="spacingAndGlyphs" stroke="#1a1a1a" stroke-width="0.18">pre-pro B</text>
<line x1="206.80" y1="387.30" x2="206.80" y2="465.45" stroke="#1a1a1a" stroke-width="1.3"/>
<line x1="206.15" y1="464.80" x2="234.90" y2="464.80" stroke="#1a1a1a" stroke-width="1.3"/>
<line x1="203.60" y1="389.80" x2="206.80" y2="389.80" stroke="#1a1a1a" stroke-width="1.0"/>
<text x="199.60" y="389.33" font-size="3.8" text-anchor="end" fill="#1e1e1e" textLength="2.20" lengthAdjust="spacingAndGlyphs" stroke="#1e1e1e" stroke-width="0.14">6</text>
<text x="196.90" y="392.13" font-size="6.5" text-anchor="end" fill="#1e1e1e" textLength="13.30" lengthAdjust="spacingAndGlyphs" stroke="#1e1e1e" stroke-width="0.2">3x10</text>
<line x1="203.60" y1="414.60" x2="206.80" y2="414.60" stroke="#1a1a1a" stroke-width="1.0"/>
<text x="199.60" y="414.13" font-size="3.8" text-anchor="end" fill="#1e1e1e" textLength="2.20" lengthAdjust="spacingAndGlyphs" stroke="#1e1e1e" stroke-width="0.14">6</text>
<text x="196.90" y="416.93" font-size="6.5" text-anchor="end" fill="#1e1e1e" textLength="13.30" lengthAdjust="spacingAndGlyphs" stroke="#1e1e1e" stroke-width="0.2">2x10</text>
<line x1="203.60" y1="439.30" x2="206.80" y2="439.30" stroke="#1a1a1a" stroke-width="1.0"/>
<text x="199.60" y="438.83" font-size="3.8" text-anchor="end" fill="#1e1e1e" textLength="2.20" lengthAdjust="spacingAndGlyphs" stroke="#1e1e1e" stroke-width="0.14">6</text>
<text x="196.90" y="441.63" font-size="6.5" text-anchor="end" fill="#1e1e1e" textLength="13.30" lengthAdjust="spacingAndGlyphs" stroke="#1e1e1e" stroke-width="0.2">1x10</text>
<line x1="203.60" y1="464.80" x2="206.80" y2="464.80" stroke="#1a1a1a" stroke-width="1.0"/>
<text x="200.10" y="467.13" font-size="6.5" text-anchor="end" fill="#1e1e1e" stroke="#1e1e1e" stroke-width="0.2">0</text>
<path d="M208.40,464.80 L208.40,430.20 L214.50,430.20 L214.50,464.80" fill="none" stroke="#b8173f" stroke-width="1.2"/>
<circle cx="211.60" cy="419.30" r="0.81" fill="#b8173f"/>
<circle cx="211.60" cy="424.70" r="0.81" fill="#b8173f"/>
<circle cx="210.20" cy="428.60" r="0.81" fill="#b8173f"/>
<circle cx="212.60" cy="430.60" r="0.81" fill="#b8173f"/>
<circle cx="211.60" cy="434.00" r="0.81" fill="#b8173f"/>
<circle cx="211.60" cy="437.60" r="0.81" fill="#b8173f"/>
<line x1="211.45" y1="426.10" x2="211.45" y2="433.20" stroke="#b8173f" stroke-width="1.1"/>
<line x1="209.15" y1="426.10" x2="213.75" y2="426.10" stroke="#b8173f" stroke-width="1.1"/>
<line x1="209.15" y1="433.20" x2="213.75" y2="433.20" stroke="#b8173f" stroke-width="1.1"/>
<line x1="211.45" y1="464.80" x2="211.45" y2="467.60" stroke="#1a1a1a" stroke-width="1.0"/>
<path d="M217.70,464.80 L217.70,458.80 L224.30,458.80 L224.30,464.80" fill="none" stroke="#e89a2c" stroke-width="1.2"/>
<rect x="220.19" y="449.69" width="1.61" height="1.61" fill="#e89a2c"/>
<rect x="219.39" y="453.59" width="1.61" height="1.61" fill="#e89a2c"/>
<rect x="220.79" y="457.59" width="1.61" height="1.61" fill="#e89a2c"/>
<rect x="220.19" y="460.99" width="1.61" height="1.61" fill="#e89a2c"/>
<line x1="221.00" y1="454.40" x2="221.00" y2="461.80" stroke="#e89a2c" stroke-width="1.1"/>
<line x1="218.70" y1="454.40" x2="223.30" y2="454.40" stroke="#e89a2c" stroke-width="1.1"/>
<line x1="218.70" y1="461.80" x2="223.30" y2="461.80" stroke="#e89a2c" stroke-width="1.1"/>
<line x1="221.00" y1="464.80" x2="221.00" y2="467.60" stroke="#1a1a1a" stroke-width="1.0"/>
<path d="M227.20,464.80 L227.20,415.90 L233.60,415.90 L233.60,464.80" fill="none" stroke="#7bbf55" stroke-width="1.2"/>
<path d="M230.50,396.56 L231.44,398.25 L229.56,398.25 Z" fill="#7bbf55"/>
<path d="M230.50,398.96 L231.44,400.65 L229.56,400.65 Z" fill="#7bbf55"/>
<path d="M231.50,421.76 L232.44,423.45 L230.56,423.45 Z" fill="#7bbf55"/>
<path d="M230.50,446.56 L231.44,448.25 L229.56,448.25 Z" fill="#7bbf55"/>
<line x1="230.40" y1="403.40" x2="230.40" y2="427.20" stroke="#7bbf55" stroke-width="1.1"/>
<line x1="228.10" y1="403.40" x2="232.70" y2="403.40" stroke="#7bbf55" stroke-width="1.1"/>
<line x1="228.10" y1="427.20" x2="232.70" y2="427.20" stroke="#7bbf55" stroke-width="1.1"/>
<line x1="230.40" y1="464.80" x2="230.40" y2="467.60" stroke="#1a1a1a" stroke-width="1.0"/>
<line x1="219.60" y1="393.50" x2="230.50" y2="393.50" stroke="#1a1a1a" stroke-width="1.05"/>
<path d="M225.05,389.90 L225.05,391.90 M224.18,390.40 L225.92,391.40 M224.18,391.40 L225.92,390.40 " stroke="#222" stroke-width="0.75" fill="none"/>
<text transform="translate(177.50,445.58) rotate(-90) scale(0.9751,1)" font-size="8.90" fill="#111" stroke="#111" stroke-width="0.180">Cell count</text>
<text x="221.10" y="478.20" font-size="6.6" text-anchor="middle" fill="#1a1a1a" textLength="14.90" lengthAdjust="spacingAndGlyphs" stroke="#1a1a1a" stroke-width="0.18">pro B</text>
<line x1="278.60" y1="387.30" x2="278.60" y2="465.45" stroke="#1a1a1a" stroke-width="1.3"/>
<line x1="277.95" y1="464.80" x2="307.10" y2="464.80" stroke="#1a1a1a" stroke-width="1.3"/>
<line x1="275.40" y1="389.80" x2="278.60" y2="389.80" stroke="#1a1a1a" stroke-width="1.0"/>
<text x="271.80" y="389.33" font-size="3.8" text-anchor="end" fill="#1e1e1e" textLength="2.20" lengthAdjust="spacingAndGlyphs" stroke="#1e1e1e" stroke-width="0.14">6</text>
<text x="269.10" y="392.13" font-size="6.5" text-anchor="end" fill="#1e1e1e" textLength="13.60" lengthAdjust="spacingAndGlyphs" stroke="#1e1e1e" stroke-width="0.2">8x10</text>
<line x1="275.40" y1="408.60" x2="278.60" y2="408.60" stroke="#1a1a1a" stroke-width="1.0"/>
<text x="271.80" y="408.13" font-size="3.8" text-anchor="end" fill="#1e1e1e" textLength="2.20" lengthAdjust="spacingAndGlyphs" stroke="#1e1e1e" stroke-width="0.14">6</text>
<text x="269.10" y="410.93" font-size="6.5" text-anchor="end" fill="#1e1e1e" textLength="13.60" lengthAdjust="spacingAndGlyphs" stroke="#1e1e1e" stroke-width="0.2">6x10</text>
<line x1="275.40" y1="427.00" x2="278.60" y2="427.00" stroke="#1a1a1a" stroke-width="1.0"/>
<text x="271.80" y="426.53" font-size="3.8" text-anchor="end" fill="#1e1e1e" textLength="2.20" lengthAdjust="spacingAndGlyphs" stroke="#1e1e1e" stroke-width="0.14">6</text>
<text x="269.10" y="429.33" font-size="6.5" text-anchor="end" fill="#1e1e1e" textLength="13.60" lengthAdjust="spacingAndGlyphs" stroke="#1e1e1e" stroke-width="0.2">4x10</text>
<line x1="275.40" y1="446.10" x2="278.60" y2="446.10" stroke="#1a1a1a" stroke-width="1.0"/>
<text x="271.80" y="445.63" font-size="3.8" text-anchor="end" fill="#1e1e1e" textLength="2.20" lengthAdjust="spacingAndGlyphs" stroke="#1e1e1e" stroke-width="0.14">6</text>
<text x="269.10" y="448.43" font-size="6.5" text-anchor="end" fill="#1e1e1e" textLength="13.60" lengthAdjust="spacingAndGlyphs" stroke="#1e1e1e" stroke-width="0.2">2x10</text>
<line x1="275.40" y1="464.80" x2="278.60" y2="464.80" stroke="#1a1a1a" stroke-width="1.0"/>
<text x="271.80" y="467.13" font-size="6.5" text-anchor="end" fill="#1e1e1e" stroke="#1e1e1e" stroke-width="0.2">0</text>
<path d="M280.00,464.80 L280.00,433.20 L286.30,433.20 L286.30,464.80" fill="none" stroke="#b8173f" stroke-width="1.2"/>
<circle cx="283.30" cy="422.10" r="0.81" fill="#b8173f"/>
<circle cx="283.30" cy="432.00" r="0.81" fill="#b8173f"/>
<circle cx="284.70" cy="433.20" r="0.81" fill="#b8173f"/>
<circle cx="281.70" cy="434.00" r="0.81" fill="#b8173f"/>
<circle cx="283.30" cy="443.10" r="0.81" fill="#b8173f"/>
<line x1="283.15" y1="429.20" x2="283.15" y2="436.00" stroke="#b8173f" stroke-width="1.1"/>
<line x1="280.85" y1="429.20" x2="285.45" y2="429.20" stroke="#b8173f" stroke-width="1.1"/>
<line x1="280.85" y1="436.00" x2="285.45" y2="436.00" stroke="#b8173f" stroke-width="1.1"/>
<line x1="283.15" y1="464.80" x2="283.15" y2="467.60" stroke="#1a1a1a" stroke-width="1.0"/>
<path d="M289.40,464.80 L289.40,459.00 L296.30,459.00 L296.30,464.80" fill="none" stroke="#e89a2c" stroke-width="1.2"/>
<rect x="291.79" y="449.09" width="1.61" height="1.61" fill="#e89a2c"/>
<rect x="291.79" y="455.59" width="1.61" height="1.61" fill="#e89a2c"/>
<rect x="291.19" y="460.59" width="1.61" height="1.61" fill="#e89a2c"/>
<line x1="292.85" y1="454.40" x2="292.85" y2="461.80" stroke="#e89a2c" stroke-width="1.1"/>
<line x1="290.55" y1="454.40" x2="295.15" y2="454.40" stroke="#e89a2c" stroke-width="1.1"/>
<line x1="290.55" y1="461.80" x2="295.15" y2="461.80" stroke="#e89a2c" stroke-width="1.1"/>
<line x1="292.85" y1="464.80" x2="292.85" y2="467.60" stroke="#1a1a1a" stroke-width="1.0"/>
<path d="M298.70,464.80 L298.70,427.20 L305.60,427.20 L305.60,464.80" fill="none" stroke="#7bbf55" stroke-width="1.2"/>
<path d="M301.90,403.87 L302.83,405.55 L300.96,405.55 Z" fill="#7bbf55"/>
<path d="M302.50,433.67 L303.44,435.35 L301.56,435.35 Z" fill="#7bbf55"/>
<path d="M301.90,452.06 L302.83,453.75 L300.96,453.75 Z" fill="#7bbf55"/>
<line x1="302.15" y1="415.30" x2="302.15" y2="438.00" stroke="#7bbf55" stroke-width="1.1"/>
<line x1="299.85" y1="415.30" x2="304.45" y2="415.30" stroke="#7bbf55" stroke-width="1.1"/>
<line x1="299.85" y1="438.00" x2="304.45" y2="438.00" stroke="#7bbf55" stroke-width="1.1"/>
<line x1="302.15" y1="464.80" x2="302.15" y2="467.60" stroke="#1a1a1a" stroke-width="1.0"/>
<line x1="288.60" y1="393.50" x2="299.60" y2="393.50" stroke="#1a1a1a" stroke-width="1.05"/>
<path d="M294.10,389.90 L294.10,391.90 M293.23,390.40 L294.97,391.40 M293.23,391.40 L294.97,390.40 " stroke="#222" stroke-width="0.75" fill="none"/>
<text transform="translate(249.30,445.58) rotate(-90) scale(0.9751,1)" font-size="8.90" fill="#111" stroke="#111" stroke-width="0.180">Cell count</text>
<text x="293.10" y="478.20" font-size="6.6" text-anchor="middle" fill="#1a1a1a" textLength="13.00" lengthAdjust="spacingAndGlyphs" stroke="#1a1a1a" stroke-width="0.18">pre B</text>
<line x1="350.80" y1="387.30" x2="350.80" y2="465.45" stroke="#1a1a1a" stroke-width="1.3"/>
<line x1="350.15" y1="464.80" x2="379.20" y2="464.80" stroke="#1a1a1a" stroke-width="1.3"/>
<line x1="347.60" y1="389.80" x2="350.80" y2="389.80" stroke="#1a1a1a" stroke-width="1.0"/>
<text x="343.80" y="389.33" font-size="3.8" text-anchor="end" fill="#1e1e1e" textLength="2.20" lengthAdjust="spacingAndGlyphs" stroke="#1e1e1e" stroke-width="0.14">6</text>
<text x="341.10" y="392.13" font-size="6.5" text-anchor="end" fill="#1e1e1e" textLength="13.10" lengthAdjust="spacingAndGlyphs" stroke="#1e1e1e" stroke-width="0.2">3x10</text>
<line x1="347.60" y1="414.60" x2="350.80" y2="414.60" stroke="#1a1a1a" stroke-width="1.0"/>
<text x="343.80" y="414.13" font-size="3.8" text-anchor="end" fill="#1e1e1e" textLength="2.20" lengthAdjust="spacingAndGlyphs" stroke="#1e1e1e" stroke-width="0.14">6</text>
<text x="341.10" y="416.93" font-size="6.5" text-anchor="end" fill="#1e1e1e" textLength="13.10" lengthAdjust="spacingAndGlyphs" stroke="#1e1e1e" stroke-width="0.2">2x10</text>
<line x1="347.60" y1="439.30" x2="350.80" y2="439.30" stroke="#1a1a1a" stroke-width="1.0"/>
<text x="343.80" y="438.83" font-size="3.8" text-anchor="end" fill="#1e1e1e" textLength="2.20" lengthAdjust="spacingAndGlyphs" stroke="#1e1e1e" stroke-width="0.14">6</text>
<text x="341.10" y="441.63" font-size="6.5" text-anchor="end" fill="#1e1e1e" textLength="13.10" lengthAdjust="spacingAndGlyphs" stroke="#1e1e1e" stroke-width="0.2">1x10</text>
<line x1="347.60" y1="464.80" x2="350.80" y2="464.80" stroke="#1a1a1a" stroke-width="1.0"/>
<text x="343.80" y="467.13" font-size="6.5" text-anchor="end" fill="#1e1e1e" stroke="#1e1e1e" stroke-width="0.2">0</text>
<path d="M352.90,464.80 L352.90,429.80 L358.60,429.80 L358.60,464.80" fill="none" stroke="#b8173f" stroke-width="1.2"/>
<circle cx="355.70" cy="414.70" r="0.81" fill="#b8173f"/>
<circle cx="355.70" cy="424.70" r="0.81" fill="#b8173f"/>
<circle cx="355.30" cy="432.00" r="0.81" fill="#b8173f"/>
<circle cx="355.70" cy="449.10" r="0.81" fill="#b8173f"/>
<line x1="355.75" y1="424.10" x2="355.75" y2="434.60" stroke="#b8173f" stroke-width="1.1"/>
<line x1="353.45" y1="424.10" x2="358.05" y2="424.10" stroke="#b8173f" stroke-width="1.1"/>
<line x1="353.45" y1="434.60" x2="358.05" y2="434.60" stroke="#b8173f" stroke-width="1.1"/>
<line x1="355.75" y1="464.80" x2="355.75" y2="467.60" stroke="#1a1a1a" stroke-width="1.0"/>
<path d="M362.00,464.80 L362.00,457.90 L368.20,457.90 L368.20,464.80" fill="none" stroke="#e89a2c" stroke-width="1.2"/>
<rect x="364.39" y="445.69" width="1.61" height="1.61" fill="#e89a2c"/>
<rect x="363.79" y="458.19" width="1.61" height="1.61" fill="#e89a2c"/>
<rect x="364.39" y="461.59" width="1.61" height="1.61" fill="#e89a2c"/>
<line x1="365.10" y1="451.90" x2="365.10" y2="461.80" stroke="#e89a2c" stroke-width="1.1"/>
<line x1="362.80" y1="451.90" x2="367.40" y2="451.90" stroke="#e89a2c" stroke-width="1.1"/>
<line x1="362.80" y1="461.80" x2="367.40" y2="461.80" stroke="#e89a2c" stroke-width="1.1"/>
<line x1="365.10" y1="464.80" x2="365.10" y2="467.60" stroke="#1a1a1a" stroke-width="1.0"/>
<path d="M371.80,464.80 L371.80,423.90 L377.40,423.90 L377.40,464.80" fill="none" stroke="#7bbf55" stroke-width="1.2"/>
<path d="M373.10,400.87 L374.04,402.55 L372.17,402.55 Z" fill="#7bbf55"/>
<path d="M375.50,400.87 L376.44,402.55 L374.56,402.55 Z" fill="#7bbf55"/>
<path d="M374.50,435.67 L375.44,437.35 L373.56,437.35 Z" fill="#7bbf55"/>
<path d="M373.90,449.56 L374.83,451.25 L372.96,451.25 Z" fill="#7bbf55"/>
<line x1="374.60" y1="410.80" x2="374.60" y2="435.60" stroke="#7bbf55" stroke-width="1.1"/>
<line x1="372.30" y1="410.80" x2="376.90" y2="410.80" stroke="#7bbf55" stroke-width="1.1"/>
<line x1="372.30" y1="435.60" x2="376.90" y2="435.60" stroke="#7bbf55" stroke-width="1.1"/>
<line x1="374.60" y1="464.80" x2="374.60" y2="467.60" stroke="#1a1a1a" stroke-width="1.0"/>
<line x1="364.00" y1="393.50" x2="374.50" y2="393.50" stroke="#1a1a1a" stroke-width="1.05"/>
<path d="M369.25,389.90 L369.25,391.90 M368.38,390.40 L370.12,391.40 M368.38,391.40 L370.12,390.40 " stroke="#222" stroke-width="0.75" fill="none"/>
<text transform="translate(321.30,445.58) rotate(-90) scale(0.9751,1)" font-size="8.90" fill="#111" stroke="#111" stroke-width="0.180">Cell count</text>
<text x="364.60" y="478.20" font-size="6.6" text-anchor="middle" fill="#1a1a1a" textLength="31.80" lengthAdjust="spacingAndGlyphs" stroke="#1a1a1a" stroke-width="0.18">Immature B</text>
<circle cx="124.80" cy="492.60" r="1.23" fill="#b8173f"/>
<text x="128.70" y="495.10" font-size="7" text-anchor="start" fill="#222" textLength="23.60" lengthAdjust="spacingAndGlyphs" stroke="#222" stroke-width="0.15">BM only</text>
<rect x="163.41" y="491.41" width="2.38" height="2.38" fill="#e89a2c"/>
<text x="168.10" y="495.10" font-size="7" text-anchor="start" fill="#222" textLength="30.70" lengthAdjust="spacingAndGlyphs" stroke="#222" stroke-width="0.15">BM+T cells</text>
<path d="M213.60,491.48 L214.92,493.86 L212.28,493.86 Z" fill="#7bbf55"/>
<text x="216.90" y="495.10" font-size="7" text-anchor="start" fill="#222" textLength="51.40" lengthAdjust="spacingAndGlyphs" stroke="#222" stroke-width="0.15">BM+T cells (+IL-7)</text>
<rect x="0.5" y="0.5" width="518.6" height="502.6" fill="none" stroke="#000" stroke-width="1.2"/>
<rect x="518.6" y="0" width="1.4" height="504" fill="#000"/>
<rect x="0" y="502.6" width="520" height="1.4" fill="#000"/>
</svg>
</body></html>
